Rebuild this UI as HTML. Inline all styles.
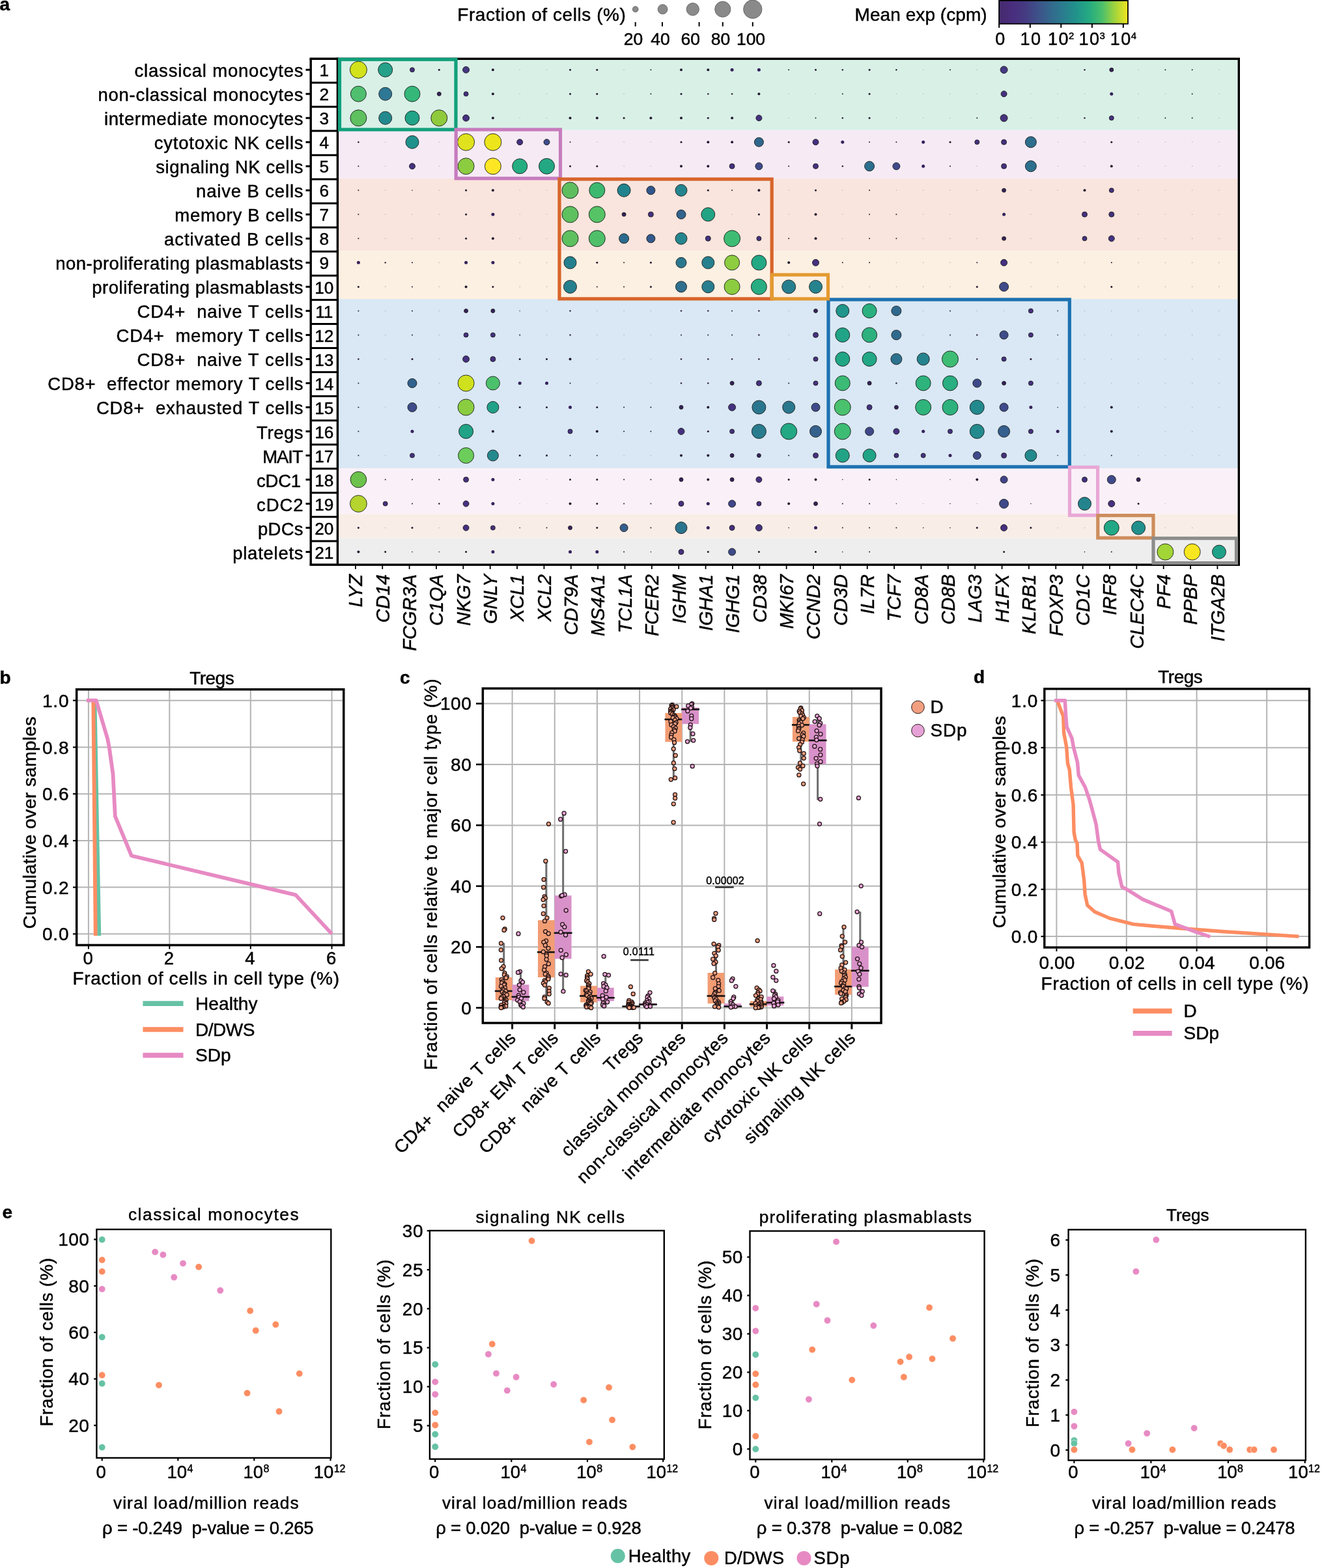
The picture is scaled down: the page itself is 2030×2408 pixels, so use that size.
<!DOCTYPE html>
<html><head><meta charset="utf-8"><title>Figure</title>
<style>
html,body{margin:0;padding:0;background:#fff;}
svg{display:block;}
text{stroke:#000;stroke-width:0.45px;}
</style></head><body>
<svg width="2030" height="2408" viewBox="0 0 2030 2408" font-family="Liberation Sans, Arial, Helvetica, sans-serif">
<rect x="0" y="0" width="2030" height="2408" fill="#fff"/>
<rect x="519.9" y="92" width="1380.9" height="107.8" fill="#d9f0e7"/>
<rect x="519.9" y="199.8" width="1380.9" height="74.4" fill="#f6ebf5"/>
<rect x="519.9" y="274.2" width="1380.9" height="111.2" fill="#f9e5dd"/>
<rect x="519.9" y="385.4" width="1380.9" height="73.9" fill="#fcf0e2"/>
<rect x="519.9" y="459.3" width="1380.9" height="259.7" fill="#d9e8f4"/>
<rect x="519.9" y="719" width="1380.9" height="70.4" fill="#faf1f8"/>
<rect x="519.9" y="789.4" width="1380.9" height="37" fill="#f9eee7"/>
<rect x="519.9" y="826.4" width="1380.9" height="39.6" fill="#eeeeee"/>
<circle cx="550.4" cy="107.2" r="13" fill="#d2e21b" stroke="#1c1c1c" stroke-width="0.9"/>
<circle cx="591.7" cy="107.2" r="11" fill="#25a18a" stroke="#1c1c1c" stroke-width="0.9"/>
<circle cx="633" cy="107.2" r="3.5" fill="#45317f" stroke="#1c1c1c" stroke-width="0.9"/>
<circle cx="674.3" cy="107.2" r="1.5" fill="#231a2e"/>
<circle cx="715.6" cy="107.2" r="5" fill="#453781" stroke="#1c1c1c" stroke-width="0.9"/>
<circle cx="756.9" cy="107.2" r="2" fill="#231a2e"/>
<circle cx="798.2" cy="107.2" r="0.8" fill="#b9b3bb"/>
<circle cx="839.5" cy="107.2" r="0.8" fill="#b9b3bb"/>
<circle cx="875.5" cy="107.2" r="1.5" fill="#231a2e"/>
<circle cx="916.8" cy="107.2" r="1.5" fill="#231a2e"/>
<circle cx="958.1" cy="107.2" r="0.8" fill="#b9b3bb"/>
<circle cx="999.4" cy="107.2" r="1" fill="#231a2e"/>
<circle cx="1046" cy="107.2" r="2" fill="#231a2e"/>
<circle cx="1087.3" cy="107.2" r="2" fill="#231a2e"/>
<circle cx="1124.1" cy="107.2" r="2.5" fill="#35215a"/>
<circle cx="1165.4" cy="107.2" r="2.5" fill="#35215a"/>
<circle cx="1211.2" cy="107.2" r="1" fill="#231a2e"/>
<circle cx="1252.5" cy="107.2" r="1.5" fill="#231a2e"/>
<circle cx="1293.8" cy="107.2" r="1.2" fill="#231a2e"/>
<circle cx="1335.1" cy="107.2" r="1.5" fill="#231a2e"/>
<circle cx="1376.4" cy="107.2" r="1.2" fill="#231a2e"/>
<circle cx="1417.7" cy="107.2" r="0.8" fill="#b9b3bb"/>
<circle cx="1459" cy="107.2" r="1" fill="#231a2e"/>
<circle cx="1500.3" cy="107.2" r="0.8" fill="#b9b3bb"/>
<circle cx="1541.6" cy="107.2" r="5.5" fill="#443983" stroke="#1c1c1c" stroke-width="0.9"/>
<circle cx="1582.9" cy="107.2" r="0.8" fill="#b9b3bb"/>
<circle cx="1624.2" cy="107.2" r="0.8" fill="#b9b3bb"/>
<circle cx="1665.5" cy="107.2" r="1.2" fill="#231a2e"/>
<circle cx="1706.8" cy="107.2" r="3" fill="#35215a" stroke="#1c1c1c" stroke-width="0.9"/>
<circle cx="1748.1" cy="107.2" r="0.8" fill="#b9b3bb"/>
<circle cx="1789.4" cy="107.2" r="1" fill="#231a2e"/>
<circle cx="1830.7" cy="107.2" r="1" fill="#231a2e"/>
<circle cx="1872" cy="107.2" r="0.8" fill="#b9b3bb"/>
<circle cx="550.4" cy="144.22" r="12" fill="#4fbf6f" stroke="#1c1c1c" stroke-width="0.9"/>
<circle cx="591.7" cy="144.22" r="10" fill="#2e7896" stroke="#1c1c1c" stroke-width="0.9"/>
<circle cx="633" cy="144.22" r="12" fill="#35b779" stroke="#1c1c1c" stroke-width="0.9"/>
<circle cx="674.3" cy="144.22" r="3" fill="#35215a" stroke="#1c1c1c" stroke-width="0.9"/>
<circle cx="715.6" cy="144.22" r="3.5" fill="#45317f" stroke="#1c1c1c" stroke-width="0.9"/>
<circle cx="756.9" cy="144.22" r="2" fill="#231a2e"/>
<circle cx="798.2" cy="144.22" r="0.8" fill="#b9b3bb"/>
<circle cx="839.5" cy="144.22" r="0.8" fill="#b9b3bb"/>
<circle cx="875.5" cy="144.22" r="1.5" fill="#231a2e"/>
<circle cx="916.8" cy="144.22" r="1.5" fill="#231a2e"/>
<circle cx="958.1" cy="144.22" r="0.8" fill="#b9b3bb"/>
<circle cx="999.4" cy="144.22" r="1" fill="#231a2e"/>
<circle cx="1046" cy="144.22" r="1.5" fill="#231a2e"/>
<circle cx="1087.3" cy="144.22" r="1.2" fill="#231a2e"/>
<circle cx="1124.1" cy="144.22" r="1.2" fill="#231a2e"/>
<circle cx="1165.4" cy="144.22" r="2" fill="#231a2e"/>
<circle cx="1211.2" cy="144.22" r="0.8" fill="#b9b3bb"/>
<circle cx="1252.5" cy="144.22" r="0.8" fill="#b9b3bb"/>
<circle cx="1293.8" cy="144.22" r="1" fill="#231a2e"/>
<circle cx="1335.1" cy="144.22" r="1.5" fill="#231a2e"/>
<circle cx="1376.4" cy="144.22" r="0.8" fill="#b9b3bb"/>
<circle cx="1417.7" cy="144.22" r="0.8" fill="#b9b3bb"/>
<circle cx="1459" cy="144.22" r="0.8" fill="#b9b3bb"/>
<circle cx="1500.3" cy="144.22" r="0.8" fill="#b9b3bb"/>
<circle cx="1541.6" cy="144.22" r="4.5" fill="#45317f" stroke="#1c1c1c" stroke-width="0.9"/>
<circle cx="1582.9" cy="144.22" r="0.8" fill="#b9b3bb"/>
<circle cx="1624.2" cy="144.22" r="0.8" fill="#b9b3bb"/>
<circle cx="1665.5" cy="144.22" r="0.8" fill="#b9b3bb"/>
<circle cx="1706.8" cy="144.22" r="2.5" fill="#35215a"/>
<circle cx="1748.1" cy="144.22" r="0.8" fill="#b9b3bb"/>
<circle cx="1789.4" cy="144.22" r="0.8" fill="#b9b3bb"/>
<circle cx="1830.7" cy="144.22" r="1" fill="#231a2e"/>
<circle cx="1872" cy="144.22" r="0.8" fill="#b9b3bb"/>
<circle cx="550.4" cy="181.24" r="12.5" fill="#5ec05f" stroke="#1c1c1c" stroke-width="0.9"/>
<circle cx="591.7" cy="181.24" r="10" fill="#23898e" stroke="#1c1c1c" stroke-width="0.9"/>
<circle cx="633" cy="181.24" r="11" fill="#20a386" stroke="#1c1c1c" stroke-width="0.9"/>
<circle cx="674.3" cy="181.24" r="12.5" fill="#8fca3c" stroke="#1c1c1c" stroke-width="0.9"/>
<circle cx="715.6" cy="181.24" r="5" fill="#45317f" stroke="#1c1c1c" stroke-width="0.9"/>
<circle cx="756.9" cy="181.24" r="2" fill="#231a2e"/>
<circle cx="798.2" cy="181.24" r="0.8" fill="#b9b3bb"/>
<circle cx="839.5" cy="181.24" r="0.8" fill="#b9b3bb"/>
<circle cx="875.5" cy="181.24" r="2" fill="#231a2e"/>
<circle cx="916.8" cy="181.24" r="2" fill="#231a2e"/>
<circle cx="958.1" cy="181.24" r="1.5" fill="#231a2e"/>
<circle cx="999.4" cy="181.24" r="2" fill="#231a2e"/>
<circle cx="1046" cy="181.24" r="2" fill="#231a2e"/>
<circle cx="1087.3" cy="181.24" r="1.5" fill="#231a2e"/>
<circle cx="1124.1" cy="181.24" r="2" fill="#231a2e"/>
<circle cx="1165.4" cy="181.24" r="4.5" fill="#45317f" stroke="#1c1c1c" stroke-width="0.9"/>
<circle cx="1211.2" cy="181.24" r="0.8" fill="#b9b3bb"/>
<circle cx="1252.5" cy="181.24" r="1" fill="#231a2e"/>
<circle cx="1293.8" cy="181.24" r="1.2" fill="#231a2e"/>
<circle cx="1335.1" cy="181.24" r="1.5" fill="#231a2e"/>
<circle cx="1376.4" cy="181.24" r="0.8" fill="#b9b3bb"/>
<circle cx="1417.7" cy="181.24" r="0.8" fill="#b9b3bb"/>
<circle cx="1459" cy="181.24" r="0.8" fill="#b9b3bb"/>
<circle cx="1500.3" cy="181.24" r="1" fill="#231a2e"/>
<circle cx="1541.6" cy="181.24" r="5.5" fill="#46337e" stroke="#1c1c1c" stroke-width="0.9"/>
<circle cx="1582.9" cy="181.24" r="0.8" fill="#b9b3bb"/>
<circle cx="1624.2" cy="181.24" r="0.8" fill="#b9b3bb"/>
<circle cx="1665.5" cy="181.24" r="1.2" fill="#231a2e"/>
<circle cx="1706.8" cy="181.24" r="3.5" fill="#45317f" stroke="#1c1c1c" stroke-width="0.9"/>
<circle cx="1748.1" cy="181.24" r="0.8" fill="#b9b3bb"/>
<circle cx="1789.4" cy="181.24" r="1" fill="#231a2e"/>
<circle cx="1830.7" cy="181.24" r="1" fill="#231a2e"/>
<circle cx="1872" cy="181.24" r="0.8" fill="#b9b3bb"/>
<circle cx="550.4" cy="218.26" r="1.2" fill="#231a2e"/>
<circle cx="591.7" cy="218.26" r="0.8" fill="#b9b3bb"/>
<circle cx="633" cy="218.26" r="10" fill="#21918c" stroke="#1c1c1c" stroke-width="0.9"/>
<circle cx="674.3" cy="218.26" r="0.8" fill="#b9b3bb"/>
<circle cx="715.6" cy="218.26" r="13" fill="#dfe21c" stroke="#1c1c1c" stroke-width="0.9"/>
<circle cx="756.9" cy="218.26" r="13" fill="#ece51b" stroke="#1c1c1c" stroke-width="0.9"/>
<circle cx="798.2" cy="218.26" r="4.5" fill="#45317f" stroke="#1c1c1c" stroke-width="0.9"/>
<circle cx="839.5" cy="218.26" r="4.5" fill="#3e4c8a" stroke="#1c1c1c" stroke-width="0.9"/>
<circle cx="875.5" cy="218.26" r="1" fill="#231a2e"/>
<circle cx="916.8" cy="218.26" r="0.8" fill="#b9b3bb"/>
<circle cx="958.1" cy="218.26" r="0.8" fill="#b9b3bb"/>
<circle cx="999.4" cy="218.26" r="0.8" fill="#b9b3bb"/>
<circle cx="1046" cy="218.26" r="1.5" fill="#231a2e"/>
<circle cx="1087.3" cy="218.26" r="2" fill="#231a2e"/>
<circle cx="1124.1" cy="218.26" r="2" fill="#231a2e"/>
<circle cx="1165.4" cy="218.26" r="7" fill="#30678d" stroke="#1c1c1c" stroke-width="0.9"/>
<circle cx="1211.2" cy="218.26" r="1.5" fill="#231a2e"/>
<circle cx="1252.5" cy="218.26" r="4.5" fill="#45317f" stroke="#1c1c1c" stroke-width="0.9"/>
<circle cx="1293.8" cy="218.26" r="2.5" fill="#35215a"/>
<circle cx="1335.1" cy="218.26" r="1" fill="#231a2e"/>
<circle cx="1376.4" cy="218.26" r="1" fill="#231a2e"/>
<circle cx="1417.7" cy="218.26" r="2.5" fill="#35215a"/>
<circle cx="1459" cy="218.26" r="1.5" fill="#231a2e"/>
<circle cx="1500.3" cy="218.26" r="3.5" fill="#45317f" stroke="#1c1c1c" stroke-width="0.9"/>
<circle cx="1541.6" cy="218.26" r="4" fill="#45317f" stroke="#1c1c1c" stroke-width="0.9"/>
<circle cx="1582.9" cy="218.26" r="8.5" fill="#2e6f8e" stroke="#1c1c1c" stroke-width="0.9"/>
<circle cx="1624.2" cy="218.26" r="0.8" fill="#b9b3bb"/>
<circle cx="1665.5" cy="218.26" r="0.8" fill="#b9b3bb"/>
<circle cx="1706.8" cy="218.26" r="1.5" fill="#231a2e"/>
<circle cx="1748.1" cy="218.26" r="0.8" fill="#b9b3bb"/>
<circle cx="1789.4" cy="218.26" r="0.8" fill="#b9b3bb"/>
<circle cx="1830.7" cy="218.26" r="0.8" fill="#b9b3bb"/>
<circle cx="1872" cy="218.26" r="0.8" fill="#b9b3bb"/>
<circle cx="550.4" cy="255.28" r="1" fill="#231a2e"/>
<circle cx="591.7" cy="255.28" r="0.8" fill="#b9b3bb"/>
<circle cx="633" cy="255.28" r="4.5" fill="#45317f" stroke="#1c1c1c" stroke-width="0.9"/>
<circle cx="674.3" cy="255.28" r="0.8" fill="#b9b3bb"/>
<circle cx="715.6" cy="255.28" r="12.5" fill="#8ccc40" stroke="#1c1c1c" stroke-width="0.9"/>
<circle cx="756.9" cy="255.28" r="12.5" fill="#fde725" stroke="#1c1c1c" stroke-width="0.9"/>
<circle cx="798.2" cy="255.28" r="11.5" fill="#25ad82" stroke="#1c1c1c" stroke-width="0.9"/>
<circle cx="839.5" cy="255.28" r="12" fill="#23a883" stroke="#1c1c1c" stroke-width="0.9"/>
<circle cx="875.5" cy="255.28" r="1.5" fill="#231a2e"/>
<circle cx="916.8" cy="255.28" r="1.5" fill="#231a2e"/>
<circle cx="958.1" cy="255.28" r="0.8" fill="#b9b3bb"/>
<circle cx="999.4" cy="255.28" r="0.8" fill="#b9b3bb"/>
<circle cx="1046" cy="255.28" r="2" fill="#231a2e"/>
<circle cx="1087.3" cy="255.28" r="2" fill="#231a2e"/>
<circle cx="1124.1" cy="255.28" r="4" fill="#45317f" stroke="#1c1c1c" stroke-width="0.9"/>
<circle cx="1165.4" cy="255.28" r="5.5" fill="#3f4a8a" stroke="#1c1c1c" stroke-width="0.9"/>
<circle cx="1211.2" cy="255.28" r="1" fill="#231a2e"/>
<circle cx="1252.5" cy="255.28" r="4" fill="#45317f" stroke="#1c1c1c" stroke-width="0.9"/>
<circle cx="1293.8" cy="255.28" r="1.2" fill="#231a2e"/>
<circle cx="1335.1" cy="255.28" r="7.5" fill="#2c6e8e" stroke="#1c1c1c" stroke-width="0.9"/>
<circle cx="1376.4" cy="255.28" r="5.5" fill="#3e4b8a" stroke="#1c1c1c" stroke-width="0.9"/>
<circle cx="1417.7" cy="255.28" r="2.5" fill="#35215a"/>
<circle cx="1459" cy="255.28" r="1" fill="#231a2e"/>
<circle cx="1500.3" cy="255.28" r="0.8" fill="#b9b3bb"/>
<circle cx="1541.6" cy="255.28" r="4" fill="#45317f" stroke="#1c1c1c" stroke-width="0.9"/>
<circle cx="1582.9" cy="255.28" r="8.5" fill="#2c708e" stroke="#1c1c1c" stroke-width="0.9"/>
<circle cx="1624.2" cy="255.28" r="0.8" fill="#b9b3bb"/>
<circle cx="1665.5" cy="255.28" r="0.8" fill="#b9b3bb"/>
<circle cx="1706.8" cy="255.28" r="2" fill="#231a2e"/>
<circle cx="1748.1" cy="255.28" r="0.8" fill="#b9b3bb"/>
<circle cx="1789.4" cy="255.28" r="0.8" fill="#b9b3bb"/>
<circle cx="1830.7" cy="255.28" r="0.8" fill="#b9b3bb"/>
<circle cx="1872" cy="255.28" r="0.8" fill="#b9b3bb"/>
<circle cx="550.4" cy="292.3" r="1" fill="#231a2e"/>
<circle cx="591.7" cy="292.3" r="0.8" fill="#b9b3bb"/>
<circle cx="633" cy="292.3" r="0.8" fill="#231a2e"/>
<circle cx="674.3" cy="292.3" r="0.8" fill="#b9b3bb"/>
<circle cx="715.6" cy="292.3" r="1.5" fill="#231a2e"/>
<circle cx="756.9" cy="292.3" r="2" fill="#231a2e"/>
<circle cx="798.2" cy="292.3" r="0.8" fill="#b9b3bb"/>
<circle cx="839.5" cy="292.3" r="0.8" fill="#b9b3bb"/>
<circle cx="875.5" cy="292.3" r="12.5" fill="#5ebe5f" stroke="#1c1c1c" stroke-width="0.9"/>
<circle cx="916.8" cy="292.3" r="12" fill="#3cb96f" stroke="#1c1c1c" stroke-width="0.9"/>
<circle cx="958.1" cy="292.3" r="10" fill="#21838d" stroke="#1c1c1c" stroke-width="0.9"/>
<circle cx="999.4" cy="292.3" r="6.5" fill="#31568b" stroke="#1c1c1c" stroke-width="0.9"/>
<circle cx="1046" cy="292.3" r="9" fill="#25858e" stroke="#1c1c1c" stroke-width="0.9"/>
<circle cx="1087.3" cy="292.3" r="1.5" fill="#231a2e"/>
<circle cx="1124.1" cy="292.3" r="1" fill="#231a2e"/>
<circle cx="1165.4" cy="292.3" r="2" fill="#231a2e"/>
<circle cx="1211.2" cy="292.3" r="0.8" fill="#b9b3bb"/>
<circle cx="1252.5" cy="292.3" r="1.5" fill="#231a2e"/>
<circle cx="1293.8" cy="292.3" r="0.8" fill="#b9b3bb"/>
<circle cx="1335.1" cy="292.3" r="1" fill="#231a2e"/>
<circle cx="1376.4" cy="292.3" r="0.8" fill="#b9b3bb"/>
<circle cx="1417.7" cy="292.3" r="0.8" fill="#b9b3bb"/>
<circle cx="1459" cy="292.3" r="0.8" fill="#b9b3bb"/>
<circle cx="1500.3" cy="292.3" r="0.8" fill="#b9b3bb"/>
<circle cx="1541.6" cy="292.3" r="3" fill="#35215a" stroke="#1c1c1c" stroke-width="0.9"/>
<circle cx="1582.9" cy="292.3" r="0.8" fill="#b9b3bb"/>
<circle cx="1624.2" cy="292.3" r="0.8" fill="#b9b3bb"/>
<circle cx="1665.5" cy="292.3" r="2" fill="#231a2e"/>
<circle cx="1706.8" cy="292.3" r="3.5" fill="#45317f" stroke="#1c1c1c" stroke-width="0.9"/>
<circle cx="1748.1" cy="292.3" r="0.8" fill="#b9b3bb"/>
<circle cx="1789.4" cy="292.3" r="0.8" fill="#b9b3bb"/>
<circle cx="1830.7" cy="292.3" r="0.8" fill="#b9b3bb"/>
<circle cx="1872" cy="292.3" r="0.8" fill="#b9b3bb"/>
<circle cx="550.4" cy="329.32" r="1" fill="#231a2e"/>
<circle cx="591.7" cy="329.32" r="0.8" fill="#b9b3bb"/>
<circle cx="633" cy="329.32" r="0.8" fill="#b9b3bb"/>
<circle cx="674.3" cy="329.32" r="0.8" fill="#b9b3bb"/>
<circle cx="715.6" cy="329.32" r="1.5" fill="#231a2e"/>
<circle cx="756.9" cy="329.32" r="2.5" fill="#35215a"/>
<circle cx="798.2" cy="329.32" r="0.8" fill="#b9b3bb"/>
<circle cx="839.5" cy="329.32" r="0.8" fill="#b9b3bb"/>
<circle cx="875.5" cy="329.32" r="12.5" fill="#5ec05f" stroke="#1c1c1c" stroke-width="0.9"/>
<circle cx="916.8" cy="329.32" r="12.5" fill="#55c366" stroke="#1c1c1c" stroke-width="0.9"/>
<circle cx="958.1" cy="329.32" r="3" fill="#35215a" stroke="#1c1c1c" stroke-width="0.9"/>
<circle cx="999.4" cy="329.32" r="4" fill="#45317f" stroke="#1c1c1c" stroke-width="0.9"/>
<circle cx="1046" cy="329.32" r="7" fill="#33638d" stroke="#1c1c1c" stroke-width="0.9"/>
<circle cx="1087.3" cy="329.32" r="10.5" fill="#22a384" stroke="#1c1c1c" stroke-width="0.9"/>
<circle cx="1124.1" cy="329.32" r="0.8" fill="#b9b3bb"/>
<circle cx="1165.4" cy="329.32" r="1.5" fill="#231a2e"/>
<circle cx="1211.2" cy="329.32" r="0.8" fill="#b9b3bb"/>
<circle cx="1252.5" cy="329.32" r="2" fill="#231a2e"/>
<circle cx="1293.8" cy="329.32" r="0.8" fill="#b9b3bb"/>
<circle cx="1335.1" cy="329.32" r="1" fill="#231a2e"/>
<circle cx="1376.4" cy="329.32" r="1" fill="#231a2e"/>
<circle cx="1417.7" cy="329.32" r="0.8" fill="#b9b3bb"/>
<circle cx="1459" cy="329.32" r="0.8" fill="#b9b3bb"/>
<circle cx="1541.6" cy="329.32" r="2.5" fill="#35215a"/>
<circle cx="1582.9" cy="329.32" r="0.8" fill="#b9b3bb"/>
<circle cx="1665.5" cy="329.32" r="4" fill="#45317f" stroke="#1c1c1c" stroke-width="0.9"/>
<circle cx="1706.8" cy="329.32" r="4" fill="#45317f" stroke="#1c1c1c" stroke-width="0.9"/>
<circle cx="1748.1" cy="329.32" r="0.8" fill="#b9b3bb"/>
<circle cx="1789.4" cy="329.32" r="0.8" fill="#b9b3bb"/>
<circle cx="1830.7" cy="329.32" r="0.8" fill="#b9b3bb"/>
<circle cx="1872" cy="329.32" r="0.8" fill="#b9b3bb"/>
<circle cx="550.4" cy="366.34" r="1" fill="#231a2e"/>
<circle cx="591.7" cy="366.34" r="0.8" fill="#b9b3bb"/>
<circle cx="633" cy="366.34" r="0.8" fill="#b9b3bb"/>
<circle cx="674.3" cy="366.34" r="0.8" fill="#b9b3bb"/>
<circle cx="715.6" cy="366.34" r="1.5" fill="#231a2e"/>
<circle cx="756.9" cy="366.34" r="2" fill="#231a2e"/>
<circle cx="798.2" cy="366.34" r="0.8" fill="#b9b3bb"/>
<circle cx="839.5" cy="366.34" r="0.8" fill="#b9b3bb"/>
<circle cx="875.5" cy="366.34" r="12.5" fill="#5ec05f" stroke="#1c1c1c" stroke-width="0.9"/>
<circle cx="916.8" cy="366.34" r="12.5" fill="#4fbf6a" stroke="#1c1c1c" stroke-width="0.9"/>
<circle cx="958.1" cy="366.34" r="7.5" fill="#2c6b8e" stroke="#1c1c1c" stroke-width="0.9"/>
<circle cx="999.4" cy="366.34" r="6.5" fill="#33598c" stroke="#1c1c1c" stroke-width="0.9"/>
<circle cx="1046" cy="366.34" r="9" fill="#25858e" stroke="#1c1c1c" stroke-width="0.9"/>
<circle cx="1087.3" cy="366.34" r="4" fill="#45317f" stroke="#1c1c1c" stroke-width="0.9"/>
<circle cx="1124.1" cy="366.34" r="12.5" fill="#3fbc73" stroke="#1c1c1c" stroke-width="0.9"/>
<circle cx="1165.4" cy="366.34" r="3.5" fill="#45317f" stroke="#1c1c1c" stroke-width="0.9"/>
<circle cx="1211.2" cy="366.34" r="1" fill="#231a2e"/>
<circle cx="1252.5" cy="366.34" r="2" fill="#231a2e"/>
<circle cx="1293.8" cy="366.34" r="0.8" fill="#b9b3bb"/>
<circle cx="1335.1" cy="366.34" r="1" fill="#231a2e"/>
<circle cx="1376.4" cy="366.34" r="1" fill="#231a2e"/>
<circle cx="1417.7" cy="366.34" r="0.8" fill="#b9b3bb"/>
<circle cx="1459" cy="366.34" r="0.8" fill="#b9b3bb"/>
<circle cx="1500.3" cy="366.34" r="0.8" fill="#b9b3bb"/>
<circle cx="1541.6" cy="366.34" r="3" fill="#35215a" stroke="#1c1c1c" stroke-width="0.9"/>
<circle cx="1582.9" cy="366.34" r="0.8" fill="#b9b3bb"/>
<circle cx="1665.5" cy="366.34" r="3.5" fill="#45317f" stroke="#1c1c1c" stroke-width="0.9"/>
<circle cx="1706.8" cy="366.34" r="4.5" fill="#45317f" stroke="#1c1c1c" stroke-width="0.9"/>
<circle cx="1748.1" cy="366.34" r="0.8" fill="#b9b3bb"/>
<circle cx="1789.4" cy="366.34" r="0.8" fill="#b9b3bb"/>
<circle cx="1830.7" cy="366.34" r="0.8" fill="#b9b3bb"/>
<circle cx="1872" cy="366.34" r="0.8" fill="#b9b3bb"/>
<circle cx="550.4" cy="403.36" r="2.5" fill="#35215a"/>
<circle cx="591.7" cy="403.36" r="1.2" fill="#231a2e"/>
<circle cx="633" cy="403.36" r="1" fill="#231a2e"/>
<circle cx="674.3" cy="403.36" r="0.8" fill="#b9b3bb"/>
<circle cx="715.6" cy="403.36" r="2.5" fill="#35215a"/>
<circle cx="756.9" cy="403.36" r="2.5" fill="#35215a"/>
<circle cx="798.2" cy="403.36" r="0.8" fill="#b9b3bb"/>
<circle cx="839.5" cy="403.36" r="0.8" fill="#b9b3bb"/>
<circle cx="875.5" cy="403.36" r="9.5" fill="#24808e" stroke="#1c1c1c" stroke-width="0.9"/>
<circle cx="916.8" cy="403.36" r="1.5" fill="#231a2e"/>
<circle cx="958.1" cy="403.36" r="1" fill="#231a2e"/>
<circle cx="999.4" cy="403.36" r="1.5" fill="#231a2e"/>
<circle cx="1046" cy="403.36" r="8" fill="#2a788e" stroke="#1c1c1c" stroke-width="0.9"/>
<circle cx="1087.3" cy="403.36" r="9.5" fill="#27808e" stroke="#1c1c1c" stroke-width="0.9"/>
<circle cx="1124.1" cy="403.36" r="11.5" fill="#8dcd3f" stroke="#1c1c1c" stroke-width="0.9"/>
<circle cx="1165.4" cy="403.36" r="11.5" fill="#23a884" stroke="#1c1c1c" stroke-width="0.9"/>
<circle cx="1211.2" cy="403.36" r="2" fill="#231a2e"/>
<circle cx="1252.5" cy="403.36" r="5" fill="#45317f" stroke="#1c1c1c" stroke-width="0.9"/>
<circle cx="1293.8" cy="403.36" r="1" fill="#231a2e"/>
<circle cx="1335.1" cy="403.36" r="1" fill="#231a2e"/>
<circle cx="1376.4" cy="403.36" r="0.8" fill="#b9b3bb"/>
<circle cx="1417.7" cy="403.36" r="0.8" fill="#b9b3bb"/>
<circle cx="1459" cy="403.36" r="0.8" fill="#b9b3bb"/>
<circle cx="1500.3" cy="403.36" r="1" fill="#231a2e"/>
<circle cx="1541.6" cy="403.36" r="5" fill="#45317f" stroke="#1c1c1c" stroke-width="0.9"/>
<circle cx="1582.9" cy="403.36" r="0.8" fill="#b9b3bb"/>
<circle cx="1624.2" cy="403.36" r="0.8" fill="#b9b3bb"/>
<circle cx="1665.5" cy="403.36" r="0.8" fill="#b9b3bb"/>
<circle cx="1706.8" cy="403.36" r="1" fill="#231a2e"/>
<circle cx="1748.1" cy="403.36" r="0.8" fill="#b9b3bb"/>
<circle cx="1789.4" cy="403.36" r="0.8" fill="#b9b3bb"/>
<circle cx="1830.7" cy="403.36" r="0.8" fill="#b9b3bb"/>
<circle cx="1872" cy="403.36" r="0.8" fill="#b9b3bb"/>
<circle cx="550.4" cy="440.38" r="1.5" fill="#231a2e"/>
<circle cx="591.7" cy="440.38" r="0.8" fill="#b9b3bb"/>
<circle cx="633" cy="440.38" r="1" fill="#231a2e"/>
<circle cx="674.3" cy="440.38" r="0.8" fill="#b9b3bb"/>
<circle cx="715.6" cy="440.38" r="2" fill="#231a2e"/>
<circle cx="756.9" cy="440.38" r="1.5" fill="#231a2e"/>
<circle cx="798.2" cy="440.38" r="0.8" fill="#b9b3bb"/>
<circle cx="839.5" cy="440.38" r="0.8" fill="#b9b3bb"/>
<circle cx="875.5" cy="440.38" r="10" fill="#277f8e" stroke="#1c1c1c" stroke-width="0.9"/>
<circle cx="916.8" cy="440.38" r="1" fill="#231a2e"/>
<circle cx="958.1" cy="440.38" r="1" fill="#231a2e"/>
<circle cx="999.4" cy="440.38" r="1.5" fill="#231a2e"/>
<circle cx="1046" cy="440.38" r="8.5" fill="#2f708e" stroke="#1c1c1c" stroke-width="0.9"/>
<circle cx="1087.3" cy="440.38" r="9.5" fill="#287d8e" stroke="#1c1c1c" stroke-width="0.9"/>
<circle cx="1124.1" cy="440.38" r="12" fill="#8bcc40" stroke="#1c1c1c" stroke-width="0.9"/>
<circle cx="1165.4" cy="440.38" r="12" fill="#27ad81" stroke="#1c1c1c" stroke-width="0.9"/>
<circle cx="1211.2" cy="440.38" r="10.5" fill="#277f8e" stroke="#1c1c1c" stroke-width="0.9"/>
<circle cx="1252.5" cy="440.38" r="10" fill="#26838e" stroke="#1c1c1c" stroke-width="0.9"/>
<circle cx="1293.8" cy="440.38" r="0.8" fill="#b9b3bb"/>
<circle cx="1335.1" cy="440.38" r="0.8" fill="#b9b3bb"/>
<circle cx="1376.4" cy="440.38" r="0.8" fill="#b9b3bb"/>
<circle cx="1417.7" cy="440.38" r="0.8" fill="#b9b3bb"/>
<circle cx="1459" cy="440.38" r="0.8" fill="#b9b3bb"/>
<circle cx="1500.3" cy="440.38" r="1.5" fill="#231a2e"/>
<circle cx="1541.6" cy="440.38" r="7" fill="#3f4a89" stroke="#1c1c1c" stroke-width="0.9"/>
<circle cx="1582.9" cy="440.38" r="0.8" fill="#b9b3bb"/>
<circle cx="1624.2" cy="440.38" r="0.8" fill="#b9b3bb"/>
<circle cx="1665.5" cy="440.38" r="0.8" fill="#b9b3bb"/>
<circle cx="1706.8" cy="440.38" r="1.5" fill="#231a2e"/>
<circle cx="1748.1" cy="440.38" r="0.8" fill="#b9b3bb"/>
<circle cx="1789.4" cy="440.38" r="0.8" fill="#b9b3bb"/>
<circle cx="1830.7" cy="440.38" r="0.8" fill="#b9b3bb"/>
<circle cx="1872" cy="440.38" r="0.8" fill="#b9b3bb"/>
<circle cx="550.4" cy="477.4" r="1" fill="#231a2e"/>
<circle cx="591.7" cy="477.4" r="0.8" fill="#b9b3bb"/>
<circle cx="633" cy="477.4" r="1" fill="#231a2e"/>
<circle cx="674.3" cy="477.4" r="0.8" fill="#b9b3bb"/>
<circle cx="715.6" cy="477.4" r="3" fill="#35215a" stroke="#1c1c1c" stroke-width="0.9"/>
<circle cx="756.9" cy="477.4" r="3" fill="#35215a" stroke="#1c1c1c" stroke-width="0.9"/>
<circle cx="798.2" cy="477.4" r="0.7" fill="#231a2e"/>
<circle cx="839.5" cy="477.4" r="0.8" fill="#b9b3bb"/>
<circle cx="875.5" cy="477.4" r="1.2" fill="#231a2e"/>
<circle cx="916.8" cy="477.4" r="0.8" fill="#b9b3bb"/>
<circle cx="958.1" cy="477.4" r="0.8" fill="#b9b3bb"/>
<circle cx="999.4" cy="477.4" r="0.8" fill="#b9b3bb"/>
<circle cx="1046" cy="477.4" r="1.2" fill="#231a2e"/>
<circle cx="1087.3" cy="477.4" r="1.2" fill="#231a2e"/>
<circle cx="1124.1" cy="477.4" r="1" fill="#231a2e"/>
<circle cx="1165.4" cy="477.4" r="1.2" fill="#231a2e"/>
<circle cx="1211.2" cy="477.4" r="0.8" fill="#b9b3bb"/>
<circle cx="1252.5" cy="477.4" r="3" fill="#35215a" stroke="#1c1c1c" stroke-width="0.9"/>
<circle cx="1293.8" cy="477.4" r="10" fill="#1f958b" stroke="#1c1c1c" stroke-width="0.9"/>
<circle cx="1335.1" cy="477.4" r="11" fill="#2ab07f" stroke="#1c1c1c" stroke-width="0.9"/>
<circle cx="1376.4" cy="477.4" r="7.5" fill="#30698e" stroke="#1c1c1c" stroke-width="0.9"/>
<circle cx="1417.7" cy="477.4" r="0.8" fill="#b9b3bb"/>
<circle cx="1459" cy="477.4" r="1" fill="#231a2e"/>
<circle cx="1500.3" cy="477.4" r="0.8" fill="#b9b3bb"/>
<circle cx="1541.6" cy="477.4" r="0.8" fill="#b9b3bb"/>
<circle cx="1582.9" cy="477.4" r="3.5" fill="#45317f" stroke="#1c1c1c" stroke-width="0.9"/>
<circle cx="1624.2" cy="477.4" r="0.8" fill="#231a2e"/>
<circle cx="1665.5" cy="477.4" r="0.8" fill="#b9b3bb"/>
<circle cx="1706.8" cy="477.4" r="0.8" fill="#b9b3bb"/>
<circle cx="1748.1" cy="477.4" r="0.8" fill="#b9b3bb"/>
<circle cx="1789.4" cy="477.4" r="0.8" fill="#b9b3bb"/>
<circle cx="1830.7" cy="477.4" r="0.8" fill="#b9b3bb"/>
<circle cx="1872" cy="477.4" r="0.8" fill="#b9b3bb"/>
<circle cx="550.4" cy="514.42" r="1" fill="#231a2e"/>
<circle cx="591.7" cy="514.42" r="0.8" fill="#b9b3bb"/>
<circle cx="633" cy="514.42" r="1" fill="#231a2e"/>
<circle cx="674.3" cy="514.42" r="0.8" fill="#b9b3bb"/>
<circle cx="715.6" cy="514.42" r="3.5" fill="#45317f" stroke="#1c1c1c" stroke-width="0.9"/>
<circle cx="756.9" cy="514.42" r="3.5" fill="#45317f" stroke="#1c1c1c" stroke-width="0.9"/>
<circle cx="798.2" cy="514.42" r="1" fill="#231a2e"/>
<circle cx="839.5" cy="514.42" r="0.8" fill="#b9b3bb"/>
<circle cx="875.5" cy="514.42" r="1.2" fill="#231a2e"/>
<circle cx="916.8" cy="514.42" r="0.8" fill="#b9b3bb"/>
<circle cx="958.1" cy="514.42" r="0.8" fill="#b9b3bb"/>
<circle cx="999.4" cy="514.42" r="0.8" fill="#b9b3bb"/>
<circle cx="1046" cy="514.42" r="1" fill="#231a2e"/>
<circle cx="1087.3" cy="514.42" r="1" fill="#231a2e"/>
<circle cx="1124.1" cy="514.42" r="1" fill="#231a2e"/>
<circle cx="1165.4" cy="514.42" r="1.2" fill="#231a2e"/>
<circle cx="1211.2" cy="514.42" r="0.8" fill="#b9b3bb"/>
<circle cx="1252.5" cy="514.42" r="4" fill="#45317f" stroke="#1c1c1c" stroke-width="0.9"/>
<circle cx="1293.8" cy="514.42" r="11" fill="#20a386" stroke="#1c1c1c" stroke-width="0.9"/>
<circle cx="1335.1" cy="514.42" r="11.5" fill="#2cb17e" stroke="#1c1c1c" stroke-width="0.9"/>
<circle cx="1376.4" cy="514.42" r="7.5" fill="#2f6b8e" stroke="#1c1c1c" stroke-width="0.9"/>
<circle cx="1417.7" cy="514.42" r="0.8" fill="#b9b3bb"/>
<circle cx="1459" cy="514.42" r="1" fill="#231a2e"/>
<circle cx="1500.3" cy="514.42" r="1.2" fill="#231a2e"/>
<circle cx="1541.6" cy="514.42" r="6.5" fill="#3f4c8a" stroke="#1c1c1c" stroke-width="0.9"/>
<circle cx="1582.9" cy="514.42" r="3.5" fill="#45317f" stroke="#1c1c1c" stroke-width="0.9"/>
<circle cx="1624.2" cy="514.42" r="0.8" fill="#231a2e"/>
<circle cx="1665.5" cy="514.42" r="0.8" fill="#b9b3bb"/>
<circle cx="1706.8" cy="514.42" r="0.8" fill="#b9b3bb"/>
<circle cx="1748.1" cy="514.42" r="0.8" fill="#b9b3bb"/>
<circle cx="1789.4" cy="514.42" r="0.8" fill="#b9b3bb"/>
<circle cx="1830.7" cy="514.42" r="0.8" fill="#b9b3bb"/>
<circle cx="1872" cy="514.42" r="0.8" fill="#b9b3bb"/>
<circle cx="550.4" cy="551.44" r="1.2" fill="#231a2e"/>
<circle cx="591.7" cy="551.44" r="0.8" fill="#b9b3bb"/>
<circle cx="633" cy="551.44" r="1.5" fill="#231a2e"/>
<circle cx="674.3" cy="551.44" r="0.8" fill="#b9b3bb"/>
<circle cx="715.6" cy="551.44" r="5" fill="#45317f" stroke="#1c1c1c" stroke-width="0.9"/>
<circle cx="756.9" cy="551.44" r="4" fill="#45317f" stroke="#1c1c1c" stroke-width="0.9"/>
<circle cx="798.2" cy="551.44" r="1.5" fill="#231a2e"/>
<circle cx="839.5" cy="551.44" r="1.5" fill="#231a2e"/>
<circle cx="875.5" cy="551.44" r="2" fill="#231a2e"/>
<circle cx="916.8" cy="551.44" r="0.8" fill="#b9b3bb"/>
<circle cx="958.1" cy="551.44" r="0.8" fill="#b9b3bb"/>
<circle cx="999.4" cy="551.44" r="0.8" fill="#b9b3bb"/>
<circle cx="1046" cy="551.44" r="1.2" fill="#231a2e"/>
<circle cx="1087.3" cy="551.44" r="1.2" fill="#231a2e"/>
<circle cx="1124.1" cy="551.44" r="1.2" fill="#231a2e"/>
<circle cx="1165.4" cy="551.44" r="1.2" fill="#231a2e"/>
<circle cx="1211.2" cy="551.44" r="0.8" fill="#b9b3bb"/>
<circle cx="1252.5" cy="551.44" r="3.5" fill="#45317f" stroke="#1c1c1c" stroke-width="0.9"/>
<circle cx="1293.8" cy="551.44" r="11" fill="#21a685" stroke="#1c1c1c" stroke-width="0.9"/>
<circle cx="1335.1" cy="551.44" r="11" fill="#22a785" stroke="#1c1c1c" stroke-width="0.9"/>
<circle cx="1376.4" cy="551.44" r="8.5" fill="#2c728e" stroke="#1c1c1c" stroke-width="0.9"/>
<circle cx="1417.7" cy="551.44" r="9.5" fill="#25838e" stroke="#1c1c1c" stroke-width="0.9"/>
<circle cx="1459" cy="551.44" r="12.5" fill="#3dbc74" stroke="#1c1c1c" stroke-width="0.9"/>
<circle cx="1500.3" cy="551.44" r="1.2" fill="#231a2e"/>
<circle cx="1541.6" cy="551.44" r="3.5" fill="#45317f" stroke="#1c1c1c" stroke-width="0.9"/>
<circle cx="1582.9" cy="551.44" r="1.5" fill="#231a2e"/>
<circle cx="1624.2" cy="551.44" r="0.8" fill="#b9b3bb"/>
<circle cx="1665.5" cy="551.44" r="0.8" fill="#b9b3bb"/>
<circle cx="1706.8" cy="551.44" r="0.8" fill="#b9b3bb"/>
<circle cx="1748.1" cy="551.44" r="0.8" fill="#b9b3bb"/>
<circle cx="1789.4" cy="551.44" r="0.8" fill="#b9b3bb"/>
<circle cx="1830.7" cy="551.44" r="0.8" fill="#b9b3bb"/>
<circle cx="1872" cy="551.44" r="0.8" fill="#b9b3bb"/>
<circle cx="550.4" cy="588.46" r="1" fill="#231a2e"/>
<circle cx="633" cy="588.46" r="7" fill="#31628d" stroke="#1c1c1c" stroke-width="0.9"/>
<circle cx="674.3" cy="588.46" r="0.8" fill="#b9b3bb"/>
<circle cx="715.6" cy="588.46" r="12.5" fill="#cfe11c" stroke="#1c1c1c" stroke-width="0.9"/>
<circle cx="756.9" cy="588.46" r="10.5" fill="#4cc16b" stroke="#1c1c1c" stroke-width="0.9"/>
<circle cx="798.2" cy="588.46" r="2.5" fill="#35215a"/>
<circle cx="839.5" cy="588.46" r="2.5" fill="#35215a"/>
<circle cx="875.5" cy="588.46" r="1" fill="#231a2e"/>
<circle cx="916.8" cy="588.46" r="0.8" fill="#b9b3bb"/>
<circle cx="999.4" cy="588.46" r="0.8" fill="#b9b3bb"/>
<circle cx="1046" cy="588.46" r="1.2" fill="#231a2e"/>
<circle cx="1087.3" cy="588.46" r="1.2" fill="#231a2e"/>
<circle cx="1124.1" cy="588.46" r="3" fill="#35215a" stroke="#1c1c1c" stroke-width="0.9"/>
<circle cx="1165.4" cy="588.46" r="4" fill="#45317f" stroke="#1c1c1c" stroke-width="0.9"/>
<circle cx="1211.2" cy="588.46" r="1" fill="#231a2e"/>
<circle cx="1252.5" cy="588.46" r="3.5" fill="#45317f" stroke="#1c1c1c" stroke-width="0.9"/>
<circle cx="1293.8" cy="588.46" r="11.5" fill="#3bbb75" stroke="#1c1c1c" stroke-width="0.9"/>
<circle cx="1335.1" cy="588.46" r="3" fill="#35215a" stroke="#1c1c1c" stroke-width="0.9"/>
<circle cx="1376.4" cy="588.46" r="1.2" fill="#231a2e"/>
<circle cx="1417.7" cy="588.46" r="11.5" fill="#2eb37c" stroke="#1c1c1c" stroke-width="0.9"/>
<circle cx="1459" cy="588.46" r="11.5" fill="#28ae80" stroke="#1c1c1c" stroke-width="0.9"/>
<circle cx="1500.3" cy="588.46" r="6.5" fill="#3e4a89" stroke="#1c1c1c" stroke-width="0.9"/>
<circle cx="1541.6" cy="588.46" r="3" fill="#35215a" stroke="#1c1c1c" stroke-width="0.9"/>
<circle cx="1582.9" cy="588.46" r="3.5" fill="#45317f" stroke="#1c1c1c" stroke-width="0.9"/>
<circle cx="1624.2" cy="588.46" r="0.8" fill="#b9b3bb"/>
<circle cx="1665.5" cy="588.46" r="0.8" fill="#b9b3bb"/>
<circle cx="1706.8" cy="588.46" r="0.8" fill="#b9b3bb"/>
<circle cx="1748.1" cy="588.46" r="0.8" fill="#b9b3bb"/>
<circle cx="1789.4" cy="588.46" r="0.8" fill="#b9b3bb"/>
<circle cx="1830.7" cy="588.46" r="0.8" fill="#b9b3bb"/>
<circle cx="1872" cy="588.46" r="0.8" fill="#b9b3bb"/>
<circle cx="550.4" cy="625.48" r="1" fill="#231a2e"/>
<circle cx="591.7" cy="625.48" r="0.8" fill="#b9b3bb"/>
<circle cx="633" cy="625.48" r="7" fill="#3e4c8a" stroke="#1c1c1c" stroke-width="0.9"/>
<circle cx="674.3" cy="625.48" r="0.8" fill="#b9b3bb"/>
<circle cx="715.6" cy="625.48" r="12.5" fill="#8acd41" stroke="#1c1c1c" stroke-width="0.9"/>
<circle cx="756.9" cy="625.48" r="9" fill="#21a187" stroke="#1c1c1c" stroke-width="0.9"/>
<circle cx="798.2" cy="625.48" r="1.5" fill="#231a2e"/>
<circle cx="839.5" cy="625.48" r="1.5" fill="#231a2e"/>
<circle cx="875.5" cy="625.48" r="2.5" fill="#35215a"/>
<circle cx="916.8" cy="625.48" r="1.5" fill="#231a2e"/>
<circle cx="958.1" cy="625.48" r="1" fill="#231a2e"/>
<circle cx="999.4" cy="625.48" r="1" fill="#231a2e"/>
<circle cx="1046" cy="625.48" r="3" fill="#35215a" stroke="#1c1c1c" stroke-width="0.9"/>
<circle cx="1087.3" cy="625.48" r="2" fill="#231a2e"/>
<circle cx="1124.1" cy="625.48" r="5.5" fill="#45317f" stroke="#1c1c1c" stroke-width="0.9"/>
<circle cx="1165.4" cy="625.48" r="10.5" fill="#2a768e" stroke="#1c1c1c" stroke-width="0.9"/>
<circle cx="1211.2" cy="625.48" r="9.5" fill="#2a788e" stroke="#1c1c1c" stroke-width="0.9"/>
<circle cx="1252.5" cy="625.48" r="6.5" fill="#3e4a89" stroke="#1c1c1c" stroke-width="0.9"/>
<circle cx="1293.8" cy="625.48" r="12.5" fill="#4ac16d" stroke="#1c1c1c" stroke-width="0.9"/>
<circle cx="1335.1" cy="625.48" r="4" fill="#45317f" stroke="#1c1c1c" stroke-width="0.9"/>
<circle cx="1376.4" cy="625.48" r="3" fill="#35215a" stroke="#1c1c1c" stroke-width="0.9"/>
<circle cx="1417.7" cy="625.48" r="12" fill="#2fb47c" stroke="#1c1c1c" stroke-width="0.9"/>
<circle cx="1459" cy="625.48" r="12" fill="#2db27d" stroke="#1c1c1c" stroke-width="0.9"/>
<circle cx="1500.3" cy="625.48" r="11" fill="#22898d" stroke="#1c1c1c" stroke-width="0.9"/>
<circle cx="1541.6" cy="625.48" r="6.5" fill="#3f4a8a" stroke="#1c1c1c" stroke-width="0.9"/>
<circle cx="1582.9" cy="625.48" r="2.5" fill="#35215a"/>
<circle cx="1624.2" cy="625.48" r="0.8" fill="#231a2e"/>
<circle cx="1665.5" cy="625.48" r="0.8" fill="#b9b3bb"/>
<circle cx="1706.8" cy="625.48" r="2" fill="#231a2e"/>
<circle cx="1748.1" cy="625.48" r="0.8" fill="#b9b3bb"/>
<circle cx="1789.4" cy="625.48" r="0.8" fill="#b9b3bb"/>
<circle cx="1830.7" cy="625.48" r="0.8" fill="#b9b3bb"/>
<circle cx="1872" cy="625.48" r="0.8" fill="#b9b3bb"/>
<circle cx="550.4" cy="662.5" r="1" fill="#231a2e"/>
<circle cx="633" cy="662.5" r="2.5" fill="#35215a"/>
<circle cx="715.6" cy="662.5" r="11" fill="#20a386" stroke="#1c1c1c" stroke-width="0.9"/>
<circle cx="756.9" cy="662.5" r="2" fill="#231a2e"/>
<circle cx="875.5" cy="662.5" r="3.5" fill="#45317f" stroke="#1c1c1c" stroke-width="0.9"/>
<circle cx="916.8" cy="662.5" r="2" fill="#231a2e"/>
<circle cx="958.1" cy="662.5" r="1" fill="#231a2e"/>
<circle cx="999.4" cy="662.5" r="1" fill="#231a2e"/>
<circle cx="1046" cy="662.5" r="5" fill="#45317f" stroke="#1c1c1c" stroke-width="0.9"/>
<circle cx="1087.3" cy="662.5" r="1.5" fill="#231a2e"/>
<circle cx="1124.1" cy="662.5" r="3.5" fill="#45317f" stroke="#1c1c1c" stroke-width="0.9"/>
<circle cx="1165.4" cy="662.5" r="11" fill="#287c8e" stroke="#1c1c1c" stroke-width="0.9"/>
<circle cx="1211.2" cy="662.5" r="12.5" fill="#23a884" stroke="#1c1c1c" stroke-width="0.9"/>
<circle cx="1252.5" cy="662.5" r="9" fill="#35628d" stroke="#1c1c1c" stroke-width="0.9"/>
<circle cx="1293.8" cy="662.5" r="12.5" fill="#3dbc74" stroke="#1c1c1c" stroke-width="0.9"/>
<circle cx="1335.1" cy="662.5" r="6.5" fill="#3f4889" stroke="#1c1c1c" stroke-width="0.9"/>
<circle cx="1376.4" cy="662.5" r="4.5" fill="#45317f" stroke="#1c1c1c" stroke-width="0.9"/>
<circle cx="1417.7" cy="662.5" r="2.5" fill="#35215a"/>
<circle cx="1459" cy="662.5" r="3.5" fill="#45317f" stroke="#1c1c1c" stroke-width="0.9"/>
<circle cx="1500.3" cy="662.5" r="11" fill="#238a8d" stroke="#1c1c1c" stroke-width="0.9"/>
<circle cx="1541.6" cy="662.5" r="9" fill="#355f8d" stroke="#1c1c1c" stroke-width="0.9"/>
<circle cx="1582.9" cy="662.5" r="3.5" fill="#45317f" stroke="#1c1c1c" stroke-width="0.9"/>
<circle cx="1624.2" cy="662.5" r="2.5" fill="#35215a"/>
<circle cx="1706.8" cy="662.5" r="2" fill="#231a2e"/>
<circle cx="1789.4" cy="662.5" r="0.8" fill="#b9b3bb"/>
<circle cx="1830.7" cy="662.5" r="0.8" fill="#b9b3bb"/>
<circle cx="550.4" cy="699.52" r="1" fill="#231a2e"/>
<circle cx="591.7" cy="699.52" r="0.8" fill="#b9b3bb"/>
<circle cx="633" cy="699.52" r="3.5" fill="#45317f" stroke="#1c1c1c" stroke-width="0.9"/>
<circle cx="674.3" cy="699.52" r="0.8" fill="#b9b3bb"/>
<circle cx="715.6" cy="699.52" r="12" fill="#6ccd5a" stroke="#1c1c1c" stroke-width="0.9"/>
<circle cx="756.9" cy="699.52" r="8.5" fill="#23898e" stroke="#1c1c1c" stroke-width="0.9"/>
<circle cx="798.2" cy="699.52" r="1.5" fill="#231a2e"/>
<circle cx="839.5" cy="699.52" r="1.5" fill="#231a2e"/>
<circle cx="875.5" cy="699.52" r="1" fill="#231a2e"/>
<circle cx="916.8" cy="699.52" r="1" fill="#231a2e"/>
<circle cx="958.1" cy="699.52" r="0.8" fill="#b9b3bb"/>
<circle cx="999.4" cy="699.52" r="0.8" fill="#b9b3bb"/>
<circle cx="1046" cy="699.52" r="2" fill="#231a2e"/>
<circle cx="1087.3" cy="699.52" r="2" fill="#231a2e"/>
<circle cx="1124.1" cy="699.52" r="3" fill="#35215a" stroke="#1c1c1c" stroke-width="0.9"/>
<circle cx="1165.4" cy="699.52" r="3" fill="#35215a" stroke="#1c1c1c" stroke-width="0.9"/>
<circle cx="1211.2" cy="699.52" r="1" fill="#231a2e"/>
<circle cx="1252.5" cy="699.52" r="4" fill="#45317f" stroke="#1c1c1c" stroke-width="0.9"/>
<circle cx="1293.8" cy="699.52" r="10.5" fill="#22a385" stroke="#1c1c1c" stroke-width="0.9"/>
<circle cx="1335.1" cy="699.52" r="10" fill="#21a386" stroke="#1c1c1c" stroke-width="0.9"/>
<circle cx="1376.4" cy="699.52" r="3.5" fill="#45317f" stroke="#1c1c1c" stroke-width="0.9"/>
<circle cx="1417.7" cy="699.52" r="3.5" fill="#45317f" stroke="#1c1c1c" stroke-width="0.9"/>
<circle cx="1459" cy="699.52" r="2.5" fill="#35215a"/>
<circle cx="1500.3" cy="699.52" r="6" fill="#3e4a89" stroke="#1c1c1c" stroke-width="0.9"/>
<circle cx="1541.6" cy="699.52" r="4" fill="#45317f" stroke="#1c1c1c" stroke-width="0.9"/>
<circle cx="1582.9" cy="699.52" r="9" fill="#22898d" stroke="#1c1c1c" stroke-width="0.9"/>
<circle cx="1624.2" cy="699.52" r="0.8" fill="#231a2e"/>
<circle cx="1665.5" cy="699.52" r="0.8" fill="#b9b3bb"/>
<circle cx="1706.8" cy="699.52" r="1" fill="#231a2e"/>
<circle cx="1748.1" cy="699.52" r="0.8" fill="#b9b3bb"/>
<circle cx="1789.4" cy="699.52" r="0.8" fill="#b9b3bb"/>
<circle cx="1830.7" cy="699.52" r="0.8" fill="#b9b3bb"/>
<circle cx="1872" cy="699.52" r="0.8" fill="#b9b3bb"/>
<circle cx="550.4" cy="736.54" r="12.3" fill="#6cc24c" stroke="#1c1c1c" stroke-width="0.9"/>
<circle cx="591.7" cy="736.54" r="1" fill="#231a2e"/>
<circle cx="633" cy="736.54" r="1" fill="#231a2e"/>
<circle cx="674.3" cy="736.54" r="1" fill="#231a2e"/>
<circle cx="715.6" cy="736.54" r="4" fill="#45317f" stroke="#1c1c1c" stroke-width="0.9"/>
<circle cx="756.9" cy="736.54" r="2.5" fill="#35215a"/>
<circle cx="798.2" cy="736.54" r="0.7" fill="#231a2e"/>
<circle cx="839.5" cy="736.54" r="0.8" fill="#b9b3bb"/>
<circle cx="875.5" cy="736.54" r="1.5" fill="#231a2e"/>
<circle cx="916.8" cy="736.54" r="1.5" fill="#231a2e"/>
<circle cx="958.1" cy="736.54" r="1" fill="#231a2e"/>
<circle cx="999.4" cy="736.54" r="1" fill="#231a2e"/>
<circle cx="1046" cy="736.54" r="3" fill="#35215a" stroke="#1c1c1c" stroke-width="0.9"/>
<circle cx="1087.3" cy="736.54" r="2" fill="#231a2e"/>
<circle cx="1124.1" cy="736.54" r="3" fill="#35215a" stroke="#1c1c1c" stroke-width="0.9"/>
<circle cx="1165.4" cy="736.54" r="4.5" fill="#45317f" stroke="#1c1c1c" stroke-width="0.9"/>
<circle cx="1211.2" cy="736.54" r="1.5" fill="#231a2e"/>
<circle cx="1252.5" cy="736.54" r="2" fill="#231a2e"/>
<circle cx="1293.8" cy="736.54" r="0.8" fill="#231a2e"/>
<circle cx="1335.1" cy="736.54" r="1.5" fill="#231a2e"/>
<circle cx="1376.4" cy="736.54" r="0.8" fill="#231a2e"/>
<circle cx="1459" cy="736.54" r="0.7" fill="#231a2e"/>
<circle cx="1500.3" cy="736.54" r="2" fill="#231a2e"/>
<circle cx="1541.6" cy="736.54" r="5.5" fill="#414487" stroke="#1c1c1c" stroke-width="0.9"/>
<circle cx="1665.5" cy="736.54" r="4" fill="#45317f" stroke="#1c1c1c" stroke-width="0.9"/>
<circle cx="1706.8" cy="736.54" r="6.5" fill="#3f4a8a" stroke="#1c1c1c" stroke-width="0.9"/>
<circle cx="1748.1" cy="736.54" r="3" fill="#35215a" stroke="#1c1c1c" stroke-width="0.9"/>
<circle cx="550.4" cy="773.56" r="12.9" fill="#b5d42e" stroke="#1c1c1c" stroke-width="0.9"/>
<circle cx="591.7" cy="773.56" r="3.5" fill="#45317f" stroke="#1c1c1c" stroke-width="0.9"/>
<circle cx="633" cy="773.56" r="1" fill="#231a2e"/>
<circle cx="674.3" cy="773.56" r="1.2" fill="#231a2e"/>
<circle cx="715.6" cy="773.56" r="4.5" fill="#45317f" stroke="#1c1c1c" stroke-width="0.9"/>
<circle cx="756.9" cy="773.56" r="2.5" fill="#35215a"/>
<circle cx="798.2" cy="773.56" r="0.8" fill="#b9b3bb"/>
<circle cx="839.5" cy="773.56" r="0.8" fill="#b9b3bb"/>
<circle cx="875.5" cy="773.56" r="2" fill="#231a2e"/>
<circle cx="916.8" cy="773.56" r="1.5" fill="#231a2e"/>
<circle cx="958.1" cy="773.56" r="1" fill="#231a2e"/>
<circle cx="999.4" cy="773.56" r="1" fill="#231a2e"/>
<circle cx="1046" cy="773.56" r="4" fill="#45317f" stroke="#1c1c1c" stroke-width="0.9"/>
<circle cx="1087.3" cy="773.56" r="2.5" fill="#35215a"/>
<circle cx="1124.1" cy="773.56" r="5.5" fill="#40458a" stroke="#1c1c1c" stroke-width="0.9"/>
<circle cx="1165.4" cy="773.56" r="3.5" fill="#45317f" stroke="#1c1c1c" stroke-width="0.9"/>
<circle cx="1211.2" cy="773.56" r="2" fill="#231a2e"/>
<circle cx="1252.5" cy="773.56" r="3" fill="#35215a" stroke="#1c1c1c" stroke-width="0.9"/>
<circle cx="1293.8" cy="773.56" r="1" fill="#231a2e"/>
<circle cx="1335.1" cy="773.56" r="1" fill="#231a2e"/>
<circle cx="1376.4" cy="773.56" r="0.7" fill="#231a2e"/>
<circle cx="1417.7" cy="773.56" r="0.8" fill="#b9b3bb"/>
<circle cx="1459" cy="773.56" r="0.8" fill="#231a2e"/>
<circle cx="1500.3" cy="773.56" r="0.8" fill="#b9b3bb"/>
<circle cx="1541.6" cy="773.56" r="7" fill="#3f4a89" stroke="#1c1c1c" stroke-width="0.9"/>
<circle cx="1582.9" cy="773.56" r="0.8" fill="#231a2e"/>
<circle cx="1665.5" cy="773.56" r="10" fill="#24848d" stroke="#1c1c1c" stroke-width="0.9"/>
<circle cx="1706.8" cy="773.56" r="5" fill="#45317f" stroke="#1c1c1c" stroke-width="0.9"/>
<circle cx="1748.1" cy="773.56" r="1.5" fill="#231a2e"/>
<circle cx="1789.4" cy="773.56" r="0.8" fill="#b9b3bb"/>
<circle cx="550.4" cy="810.58" r="1.5" fill="#231a2e"/>
<circle cx="591.7" cy="810.58" r="0.8" fill="#b9b3bb"/>
<circle cx="633" cy="810.58" r="1.5" fill="#231a2e"/>
<circle cx="674.3" cy="810.58" r="0.8" fill="#b9b3bb"/>
<circle cx="715.6" cy="810.58" r="4.5" fill="#45317f" stroke="#1c1c1c" stroke-width="0.9"/>
<circle cx="756.9" cy="810.58" r="3.5" fill="#45317f" stroke="#1c1c1c" stroke-width="0.9"/>
<circle cx="798.2" cy="810.58" r="0.8" fill="#231a2e"/>
<circle cx="839.5" cy="810.58" r="1" fill="#231a2e"/>
<circle cx="875.5" cy="810.58" r="3" fill="#35215a" stroke="#1c1c1c" stroke-width="0.9"/>
<circle cx="916.8" cy="810.58" r="1.5" fill="#231a2e"/>
<circle cx="958.1" cy="810.58" r="6" fill="#355f8d" stroke="#1c1c1c" stroke-width="0.9"/>
<circle cx="999.4" cy="810.58" r="1" fill="#231a2e"/>
<circle cx="1046" cy="810.58" r="9" fill="#2b748e" stroke="#1c1c1c" stroke-width="0.9"/>
<circle cx="1087.3" cy="810.58" r="2.5" fill="#35215a"/>
<circle cx="1124.1" cy="810.58" r="4" fill="#45317f" stroke="#1c1c1c" stroke-width="0.9"/>
<circle cx="1165.4" cy="810.58" r="5" fill="#45317f" stroke="#1c1c1c" stroke-width="0.9"/>
<circle cx="1211.2" cy="810.58" r="0.8" fill="#231a2e"/>
<circle cx="1252.5" cy="810.58" r="2.5" fill="#35215a"/>
<circle cx="1293.8" cy="810.58" r="1" fill="#231a2e"/>
<circle cx="1335.1" cy="810.58" r="1" fill="#231a2e"/>
<circle cx="1376.4" cy="810.58" r="1" fill="#231a2e"/>
<circle cx="1417.7" cy="810.58" r="0.8" fill="#231a2e"/>
<circle cx="1459" cy="810.58" r="0.8" fill="#231a2e"/>
<circle cx="1500.3" cy="810.58" r="1.5" fill="#231a2e"/>
<circle cx="1541.6" cy="810.58" r="5" fill="#45317f" stroke="#1c1c1c" stroke-width="0.9"/>
<circle cx="1582.9" cy="810.58" r="1.5" fill="#231a2e"/>
<circle cx="1624.2" cy="810.58" r="0.8" fill="#b9b3bb"/>
<circle cx="1665.5" cy="810.58" r="0.8" fill="#b9b3bb"/>
<circle cx="1706.8" cy="810.58" r="11.5" fill="#22a884" stroke="#1c1c1c" stroke-width="0.9"/>
<circle cx="1748.1" cy="810.58" r="10.5" fill="#21908d" stroke="#1c1c1c" stroke-width="0.9"/>
<circle cx="1789.4" cy="810.58" r="0.8" fill="#b9b3bb"/>
<circle cx="1830.7" cy="810.58" r="0.8" fill="#b9b3bb"/>
<circle cx="550.4" cy="847.6" r="2" fill="#231a2e"/>
<circle cx="591.7" cy="847.6" r="1.5" fill="#231a2e"/>
<circle cx="633" cy="847.6" r="0.8" fill="#231a2e"/>
<circle cx="674.3" cy="847.6" r="0.8" fill="#231a2e"/>
<circle cx="715.6" cy="847.6" r="1.5" fill="#231a2e"/>
<circle cx="756.9" cy="847.6" r="2.5" fill="#35215a"/>
<circle cx="875.5" cy="847.6" r="2.5" fill="#35215a"/>
<circle cx="916.8" cy="847.6" r="2.5" fill="#35215a"/>
<circle cx="958.1" cy="847.6" r="1" fill="#231a2e"/>
<circle cx="999.4" cy="847.6" r="0.8" fill="#231a2e"/>
<circle cx="1046" cy="847.6" r="4" fill="#45317f" stroke="#1c1c1c" stroke-width="0.9"/>
<circle cx="1087.3" cy="847.6" r="1.5" fill="#231a2e"/>
<circle cx="1124.1" cy="847.6" r="5.5" fill="#3e4a89" stroke="#1c1c1c" stroke-width="0.9"/>
<circle cx="1165.4" cy="847.6" r="1.5" fill="#231a2e"/>
<circle cx="1252.5" cy="847.6" r="1.5" fill="#231a2e"/>
<circle cx="1293.8" cy="847.6" r="0.8" fill="#231a2e"/>
<circle cx="1335.1" cy="847.6" r="1" fill="#231a2e"/>
<circle cx="1541.6" cy="847.6" r="1.5" fill="#231a2e"/>
<circle cx="1665.5" cy="847.6" r="0.8" fill="#231a2e"/>
<circle cx="1706.8" cy="847.6" r="1" fill="#231a2e"/>
<circle cx="1789.4" cy="847.6" r="12.5" fill="#a2d636" stroke="#1c1c1c" stroke-width="0.9"/>
<circle cx="1830.7" cy="847.6" r="12.5" fill="#f8e621" stroke="#1c1c1c" stroke-width="0.9"/>
<circle cx="1872" cy="847.6" r="10.5" fill="#1fa188" stroke="#1c1c1c" stroke-width="0.9"/>
<rect x="518.4" y="90.3" width="1383.9" height="777" fill="none" stroke="#000" stroke-width="3.4"/>
<line x1="477.2" y1="90.3" x2="477.2" y2="867.3" stroke="#000" stroke-width="3.4"/>
<line x1="475.5" y1="90.3" x2="520" y2="90.3" stroke="#000" stroke-width="3.4"/>
<line x1="475.5" y1="867.3" x2="520" y2="867.3" stroke="#000" stroke-width="3.4"/>
<line x1="477" y1="127" x2="518.4" y2="127" stroke="#000" stroke-width="3"/>
<line x1="477" y1="164.04" x2="518.4" y2="164.04" stroke="#000" stroke-width="3"/>
<line x1="477" y1="201.09" x2="518.4" y2="201.09" stroke="#000" stroke-width="3"/>
<line x1="477" y1="238.14" x2="518.4" y2="238.14" stroke="#000" stroke-width="3"/>
<line x1="477" y1="275.19" x2="518.4" y2="275.19" stroke="#000" stroke-width="3"/>
<line x1="477" y1="312.23" x2="518.4" y2="312.23" stroke="#000" stroke-width="3"/>
<line x1="477" y1="349.28" x2="518.4" y2="349.28" stroke="#000" stroke-width="3"/>
<line x1="477" y1="386.33" x2="518.4" y2="386.33" stroke="#000" stroke-width="3"/>
<line x1="477" y1="423.37" x2="518.4" y2="423.37" stroke="#000" stroke-width="3"/>
<line x1="477" y1="460.42" x2="518.4" y2="460.42" stroke="#000" stroke-width="3"/>
<line x1="477" y1="497.47" x2="518.4" y2="497.47" stroke="#000" stroke-width="3"/>
<line x1="477" y1="534.51" x2="518.4" y2="534.51" stroke="#000" stroke-width="3"/>
<line x1="477" y1="571.56" x2="518.4" y2="571.56" stroke="#000" stroke-width="3"/>
<line x1="477" y1="608.61" x2="518.4" y2="608.61" stroke="#000" stroke-width="3"/>
<line x1="477" y1="645.65" x2="518.4" y2="645.65" stroke="#000" stroke-width="3"/>
<line x1="477" y1="682.7" x2="518.4" y2="682.7" stroke="#000" stroke-width="3"/>
<line x1="477" y1="719.75" x2="518.4" y2="719.75" stroke="#000" stroke-width="3"/>
<line x1="477" y1="756.8" x2="518.4" y2="756.8" stroke="#000" stroke-width="3"/>
<line x1="477" y1="793.84" x2="518.4" y2="793.84" stroke="#000" stroke-width="3"/>
<line x1="477" y1="830.89" x2="518.4" y2="830.89" stroke="#000" stroke-width="3"/>
<line x1="469.5" y1="107.2" x2="477" y2="107.2" stroke="#000" stroke-width="3"/>
<text x="497.8" y="117.07" font-size="26.2" text-anchor="middle">1</text>
<text x="206.5" y="118.2" font-size="27.5" textLength="259.1" lengthAdjust="spacing">classical&#160;monocytes</text>
<line x1="469.5" y1="144.22" x2="477" y2="144.22" stroke="#000" stroke-width="3"/>
<text x="497.8" y="154.12" font-size="26.2" text-anchor="middle">2</text>
<text x="150.6" y="155.22" font-size="27.5" textLength="315" lengthAdjust="spacing">non-classical&#160;monocytes</text>
<line x1="469.5" y1="181.24" x2="477" y2="181.24" stroke="#000" stroke-width="3"/>
<text x="497.8" y="191.17" font-size="26.2" text-anchor="middle">3</text>
<text x="159.9" y="192.24" font-size="27.5" textLength="305.7" lengthAdjust="spacing">intermediate&#160;monocytes</text>
<line x1="469.5" y1="218.26" x2="477" y2="218.26" stroke="#000" stroke-width="3"/>
<text x="497.8" y="228.21" font-size="26.2" text-anchor="middle">4</text>
<text x="236.7" y="229.26" font-size="27.5" textLength="228.9" lengthAdjust="spacing">cytotoxic&#160;NK&#160;cells</text>
<line x1="469.5" y1="255.28" x2="477" y2="255.28" stroke="#000" stroke-width="3"/>
<text x="497.8" y="265.26" font-size="26.2" text-anchor="middle">5</text>
<text x="239.3" y="266.28" font-size="27.5" textLength="226.3" lengthAdjust="spacing">signaling&#160;NK&#160;cells</text>
<line x1="469.5" y1="292.3" x2="477" y2="292.3" stroke="#000" stroke-width="3"/>
<text x="497.8" y="302.31" font-size="26.2" text-anchor="middle">6</text>
<text x="301" y="303.3" font-size="27.5" textLength="164.6" lengthAdjust="spacing">naive&#160;B&#160;cells</text>
<line x1="469.5" y1="329.32" x2="477" y2="329.32" stroke="#000" stroke-width="3"/>
<text x="497.8" y="339.36" font-size="26.2" text-anchor="middle">7</text>
<text x="268.3" y="340.32" font-size="27.5" textLength="197.3" lengthAdjust="spacing">memory&#160;B&#160;cells</text>
<line x1="469.5" y1="366.34" x2="477" y2="366.34" stroke="#000" stroke-width="3"/>
<text x="497.8" y="376.4" font-size="26.2" text-anchor="middle">8</text>
<text x="252" y="377.34" font-size="27.5" textLength="213.6" lengthAdjust="spacing">activated&#160;B&#160;cells</text>
<line x1="469.5" y1="403.36" x2="477" y2="403.36" stroke="#000" stroke-width="3"/>
<text x="497.8" y="413.45" font-size="26.2" text-anchor="middle">9</text>
<text x="85.3" y="414.36" font-size="27.5" textLength="380.3" lengthAdjust="spacing">non-proliferating&#160;plasmablasts</text>
<line x1="469.5" y1="440.38" x2="477" y2="440.38" stroke="#000" stroke-width="3"/>
<text x="497.8" y="450.5" font-size="26.2" text-anchor="middle">10</text>
<text x="141.3" y="451.38" font-size="27.5" textLength="324.3" lengthAdjust="spacing">proliferating&#160;plasmablasts</text>
<line x1="469.5" y1="477.4" x2="477" y2="477.4" stroke="#000" stroke-width="3"/>
<text x="497.8" y="487.54" font-size="26.2" text-anchor="middle">11</text>
<text x="210.5" y="488.4" font-size="27.5" textLength="255.1" lengthAdjust="spacing">CD4+&#160;&#160;naive&#160;T&#160;cells</text>
<line x1="469.5" y1="514.42" x2="477" y2="514.42" stroke="#000" stroke-width="3"/>
<text x="497.8" y="524.59" font-size="26.2" text-anchor="middle">12</text>
<text x="178.6" y="525.42" font-size="27.5" textLength="287" lengthAdjust="spacing">CD4+&#160;&#160;memory&#160;T&#160;cells</text>
<line x1="469.5" y1="551.44" x2="477" y2="551.44" stroke="#000" stroke-width="3"/>
<text x="497.8" y="561.64" font-size="26.2" text-anchor="middle">13</text>
<text x="210.5" y="562.44" font-size="27.5" textLength="255.1" lengthAdjust="spacing">CD8+&#160;&#160;naive&#160;T&#160;cells</text>
<line x1="469.5" y1="588.46" x2="477" y2="588.46" stroke="#000" stroke-width="3"/>
<text x="497.8" y="598.68" font-size="26.2" text-anchor="middle">14</text>
<text x="73.3" y="599.46" font-size="27.5" textLength="392.3" lengthAdjust="spacing">CD8+&#160;&#160;effector&#160;memory&#160;T&#160;cells</text>
<line x1="469.5" y1="625.48" x2="477" y2="625.48" stroke="#000" stroke-width="3"/>
<text x="497.8" y="635.73" font-size="26.2" text-anchor="middle">15</text>
<text x="147.9" y="636.48" font-size="27.5" textLength="317.7" lengthAdjust="spacing">CD8+&#160;&#160;exhausted&#160;T&#160;cells</text>
<line x1="469.5" y1="662.5" x2="477" y2="662.5" stroke="#000" stroke-width="3"/>
<text x="497.8" y="672.78" font-size="26.2" text-anchor="middle">16</text>
<text x="394.1" y="673.5" font-size="27.5" textLength="71.5" lengthAdjust="spacing">Tregs</text>
<line x1="469.5" y1="699.52" x2="477" y2="699.52" stroke="#000" stroke-width="3"/>
<text x="497.8" y="709.83" font-size="26.2" text-anchor="middle">17</text>
<text x="403.3" y="710.52" font-size="27.5" textLength="62.3" lengthAdjust="spacing">MAIT</text>
<line x1="469.5" y1="736.54" x2="477" y2="736.54" stroke="#000" stroke-width="3"/>
<text x="497.8" y="746.87" font-size="26.2" text-anchor="middle">18</text>
<text x="394.1" y="747.54" font-size="27.5" textLength="67.9" lengthAdjust="spacing">cDC1</text>
<line x1="469.5" y1="773.56" x2="477" y2="773.56" stroke="#000" stroke-width="3"/>
<text x="497.8" y="783.92" font-size="26.2" text-anchor="middle">19</text>
<text x="394.1" y="784.56" font-size="27.5" textLength="71.5" lengthAdjust="spacing">cDC2</text>
<line x1="469.5" y1="810.58" x2="477" y2="810.58" stroke="#000" stroke-width="3"/>
<text x="497.8" y="820.97" font-size="26.2" text-anchor="middle">20</text>
<text x="396" y="821.58" font-size="27.5" textLength="69.6" lengthAdjust="spacing">pDCs</text>
<line x1="469.5" y1="847.6" x2="477" y2="847.6" stroke="#000" stroke-width="3"/>
<text x="497.8" y="858.01" font-size="26.2" text-anchor="middle">21</text>
<text x="357.2" y="858.6" font-size="27.5" textLength="108.4" lengthAdjust="spacing">platelets</text>
<rect x="521.5" y="91.3" width="178.5" height="107.7" fill="none" stroke="#12a07c" stroke-width="5.2"/>
<rect x="700.2" y="199" width="160.3" height="75" fill="none" stroke="#c67cbd" stroke-width="5.2"/>
<rect x="859" y="275.1" width="326.2" height="183.8" fill="none" stroke="#d8642a" stroke-width="5.2"/>
<rect x="1272" y="460" width="370.3" height="256.9" fill="none" stroke="#1c71b0" stroke-width="5.2"/>
<rect x="1185.2" y="422" width="86.3" height="36.9" fill="none" stroke="#e49a30" stroke-width="5.2"/>
<rect x="1642.5" y="717.5" width="43.1" height="73.8" fill="none" stroke="#e8a8d6" stroke-width="5.2"/>
<rect x="1685.8" y="791.6" width="85.2" height="34.5" fill="none" stroke="#cd8d5c" stroke-width="5.2"/>
<rect x="1771" y="826.7" width="127.5" height="37.9" fill="none" stroke="#8c8c8c" stroke-width="5.2"/>
<line x1="545.9" y1="867.3" x2="545.9" y2="874" stroke="#000" stroke-width="1.8"/>
<text x="556.2" y="882" font-size="29" text-anchor="end" font-style="italic" transform="rotate(-90 556.2 882)">LYZ</text>
<line x1="587.26" y1="867.3" x2="587.26" y2="874" stroke="#000" stroke-width="1.8"/>
<text x="597.56" y="882" font-size="29" text-anchor="end" font-style="italic" transform="rotate(-90 597.56 882)">CD14</text>
<line x1="628.62" y1="867.3" x2="628.62" y2="874" stroke="#000" stroke-width="1.8"/>
<text x="638.92" y="882" font-size="29" text-anchor="end" font-style="italic" transform="rotate(-90 638.92 882)">FCGR3A</text>
<line x1="669.98" y1="867.3" x2="669.98" y2="874" stroke="#000" stroke-width="1.8"/>
<text x="680.28" y="882" font-size="29" text-anchor="end" font-style="italic" transform="rotate(-90 680.28 882)">C1QA</text>
<line x1="711.34" y1="867.3" x2="711.34" y2="874" stroke="#000" stroke-width="1.8"/>
<text x="721.64" y="882" font-size="29" text-anchor="end" font-style="italic" transform="rotate(-90 721.64 882)">NKG7</text>
<line x1="752.7" y1="867.3" x2="752.7" y2="874" stroke="#000" stroke-width="1.8"/>
<text x="763" y="882" font-size="29" text-anchor="end" font-style="italic" transform="rotate(-90 763 882)">GNLY</text>
<line x1="794.06" y1="867.3" x2="794.06" y2="874" stroke="#000" stroke-width="1.8"/>
<text x="804.36" y="882" font-size="29" text-anchor="end" font-style="italic" transform="rotate(-90 804.36 882)">XCL1</text>
<line x1="835.42" y1="867.3" x2="835.42" y2="874" stroke="#000" stroke-width="1.8"/>
<text x="845.72" y="882" font-size="29" text-anchor="end" font-style="italic" transform="rotate(-90 845.72 882)">XCL2</text>
<line x1="876.78" y1="867.3" x2="876.78" y2="874" stroke="#000" stroke-width="1.8"/>
<text x="887.08" y="882" font-size="29" text-anchor="end" font-style="italic" transform="rotate(-90 887.08 882)">CD79A</text>
<line x1="918.14" y1="867.3" x2="918.14" y2="874" stroke="#000" stroke-width="1.8"/>
<text x="928.44" y="882" font-size="29" text-anchor="end" font-style="italic" transform="rotate(-90 928.44 882)">MS4A1</text>
<line x1="959.5" y1="867.3" x2="959.5" y2="874" stroke="#000" stroke-width="1.8"/>
<text x="969.8" y="882" font-size="29" text-anchor="end" font-style="italic" transform="rotate(-90 969.8 882)">TCL1A</text>
<line x1="1000.86" y1="867.3" x2="1000.86" y2="874" stroke="#000" stroke-width="1.8"/>
<text x="1011.16" y="882" font-size="29" text-anchor="end" font-style="italic" transform="rotate(-90 1011.16 882)">FCER2</text>
<line x1="1042.22" y1="867.3" x2="1042.22" y2="874" stroke="#000" stroke-width="1.8"/>
<text x="1052.52" y="882" font-size="29" text-anchor="end" font-style="italic" transform="rotate(-90 1052.52 882)">IGHM</text>
<line x1="1083.58" y1="867.3" x2="1083.58" y2="874" stroke="#000" stroke-width="1.8"/>
<text x="1093.88" y="882" font-size="29" text-anchor="end" font-style="italic" transform="rotate(-90 1093.88 882)">IGHA1</text>
<line x1="1124.94" y1="867.3" x2="1124.94" y2="874" stroke="#000" stroke-width="1.8"/>
<text x="1135.24" y="882" font-size="29" text-anchor="end" font-style="italic" transform="rotate(-90 1135.24 882)">IGHG1</text>
<line x1="1166.3" y1="867.3" x2="1166.3" y2="874" stroke="#000" stroke-width="1.8"/>
<text x="1176.6" y="882" font-size="29" text-anchor="end" font-style="italic" transform="rotate(-90 1176.6 882)">CD38</text>
<line x1="1207.66" y1="867.3" x2="1207.66" y2="874" stroke="#000" stroke-width="1.8"/>
<text x="1217.96" y="882" font-size="29" text-anchor="end" font-style="italic" transform="rotate(-90 1217.96 882)">MKI67</text>
<line x1="1249.02" y1="867.3" x2="1249.02" y2="874" stroke="#000" stroke-width="1.8"/>
<text x="1259.32" y="882" font-size="29" text-anchor="end" font-style="italic" transform="rotate(-90 1259.32 882)">CCND2</text>
<line x1="1290.38" y1="867.3" x2="1290.38" y2="874" stroke="#000" stroke-width="1.8"/>
<text x="1300.68" y="882" font-size="29" text-anchor="end" font-style="italic" transform="rotate(-90 1300.68 882)">CD3D</text>
<line x1="1331.74" y1="867.3" x2="1331.74" y2="874" stroke="#000" stroke-width="1.8"/>
<text x="1342.04" y="882" font-size="29" text-anchor="end" font-style="italic" transform="rotate(-90 1342.04 882)">IL7R</text>
<line x1="1373.1" y1="867.3" x2="1373.1" y2="874" stroke="#000" stroke-width="1.8"/>
<text x="1383.4" y="882" font-size="29" text-anchor="end" font-style="italic" transform="rotate(-90 1383.4 882)">TCF7</text>
<line x1="1414.46" y1="867.3" x2="1414.46" y2="874" stroke="#000" stroke-width="1.8"/>
<text x="1424.76" y="882" font-size="29" text-anchor="end" font-style="italic" transform="rotate(-90 1424.76 882)">CD8A</text>
<line x1="1455.82" y1="867.3" x2="1455.82" y2="874" stroke="#000" stroke-width="1.8"/>
<text x="1466.12" y="882" font-size="29" text-anchor="end" font-style="italic" transform="rotate(-90 1466.12 882)">CD8B</text>
<line x1="1497.18" y1="867.3" x2="1497.18" y2="874" stroke="#000" stroke-width="1.8"/>
<text x="1507.48" y="882" font-size="29" text-anchor="end" font-style="italic" transform="rotate(-90 1507.48 882)">LAG3</text>
<line x1="1538.54" y1="867.3" x2="1538.54" y2="874" stroke="#000" stroke-width="1.8"/>
<text x="1548.84" y="882" font-size="29" text-anchor="end" font-style="italic" transform="rotate(-90 1548.84 882)">H1FX</text>
<line x1="1579.9" y1="867.3" x2="1579.9" y2="874" stroke="#000" stroke-width="1.8"/>
<text x="1590.2" y="882" font-size="29" text-anchor="end" font-style="italic" transform="rotate(-90 1590.2 882)">KLRB1</text>
<line x1="1621.26" y1="867.3" x2="1621.26" y2="874" stroke="#000" stroke-width="1.8"/>
<text x="1631.56" y="882" font-size="29" text-anchor="end" font-style="italic" transform="rotate(-90 1631.56 882)">FOXP3</text>
<line x1="1662.62" y1="867.3" x2="1662.62" y2="874" stroke="#000" stroke-width="1.8"/>
<text x="1672.92" y="882" font-size="29" text-anchor="end" font-style="italic" transform="rotate(-90 1672.92 882)">CD1C</text>
<line x1="1703.98" y1="867.3" x2="1703.98" y2="874" stroke="#000" stroke-width="1.8"/>
<text x="1714.28" y="882" font-size="29" text-anchor="end" font-style="italic" transform="rotate(-90 1714.28 882)">IRF8</text>
<line x1="1745.34" y1="867.3" x2="1745.34" y2="874" stroke="#000" stroke-width="1.8"/>
<text x="1755.64" y="882" font-size="29" text-anchor="end" font-style="italic" transform="rotate(-90 1755.64 882)">CLEC4C</text>
<line x1="1786.7" y1="867.3" x2="1786.7" y2="874" stroke="#000" stroke-width="1.8"/>
<text x="1797" y="882" font-size="29" text-anchor="end" font-style="italic" transform="rotate(-90 1797 882)">PF4</text>
<line x1="1828.06" y1="867.3" x2="1828.06" y2="874" stroke="#000" stroke-width="1.8"/>
<text x="1838.36" y="882" font-size="29" text-anchor="end" font-style="italic" transform="rotate(-90 1838.36 882)">PPBP</text>
<line x1="1869.42" y1="867.3" x2="1869.42" y2="874" stroke="#000" stroke-width="1.8"/>
<text x="1879.72" y="882" font-size="29" text-anchor="end" font-style="italic" transform="rotate(-90 1879.72 882)">ITGA2B</text>
<text x="-0.6" y="15.8" font-size="28" font-weight="bold">a</text>
<text x="702.3" y="32" font-size="28" textLength="258.5" lengthAdjust="spacing">Fraction of cells (%)</text>
<circle cx="975.7" cy="14.2" r="4.4" fill="#8a8a8a" stroke="#5a5a5a" stroke-width="0.8"/>
<circle cx="1017.6" cy="14.2" r="7.4" fill="#8a8a8a" stroke="#5a5a5a" stroke-width="0.8"/>
<circle cx="1063.8" cy="14.2" r="9.7" fill="#8a8a8a" stroke="#5a5a5a" stroke-width="0.8"/>
<circle cx="1109.8" cy="14.2" r="12.1" fill="#8a8a8a" stroke="#5a5a5a" stroke-width="0.8"/>
<circle cx="1155.8" cy="14.2" r="14.2" fill="#8a8a8a" stroke="#5a5a5a" stroke-width="0.8"/>
<line x1="975.7" y1="34" x2="975.7" y2="40.5" stroke="#000" stroke-width="2"/>
<line x1="1017" y1="34" x2="1017" y2="40.5" stroke="#000" stroke-width="2"/>
<line x1="1073.6" y1="34" x2="1073.6" y2="40.5" stroke="#000" stroke-width="2"/>
<line x1="1109.8" y1="34" x2="1109.8" y2="40.5" stroke="#000" stroke-width="2"/>
<line x1="1155.8" y1="34" x2="1155.8" y2="40.5" stroke="#000" stroke-width="2"/>
<text x="972.5" y="69.3" font-size="26.5" text-anchor="middle">20</text>
<text x="1014" y="69.3" font-size="26.5" text-anchor="middle">40</text>
<text x="1060.3" y="69.3" font-size="26.5" text-anchor="middle">60</text>
<text x="1106.5" y="69.3" font-size="26.5" text-anchor="middle">80</text>
<text x="1153" y="69.3" font-size="26.5" text-anchor="middle">100</text>
<text x="1312.6" y="32" font-size="28" textLength="203" lengthAdjust="spacing">Mean exp (cpm)</text>
<defs><linearGradient id="vir" x1="0" x2="1" y1="0" y2="0"><stop offset="0" stop-color="#462a6c"/><stop offset="0.1" stop-color="#4a2d7e"/><stop offset="0.2" stop-color="#453a82"/><stop offset="0.3" stop-color="#3e5189"/><stop offset="0.4" stop-color="#33688d"/><stop offset="0.5" stop-color="#2a7d8e"/><stop offset="0.6" stop-color="#21938b"/><stop offset="0.7" stop-color="#25ab81"/><stop offset="0.8" stop-color="#4bbf6b"/><stop offset="0.9" stop-color="#a3d43c"/><stop offset="1" stop-color="#f2e51e"/></linearGradient></defs>
<rect x="1534.1" y="0.9" width="197.9" height="35.7" fill="url(#vir)" stroke="#000" stroke-width="1.8"/>
<line x1="1534.2" y1="36.6" x2="1534.2" y2="42.7" stroke="#000" stroke-width="2"/>
<line x1="1581.8" y1="36.6" x2="1581.8" y2="42.7" stroke="#000" stroke-width="2"/>
<line x1="1629.3" y1="36.6" x2="1629.3" y2="42.7" stroke="#000" stroke-width="2"/>
<line x1="1676.9" y1="36.6" x2="1676.9" y2="42.7" stroke="#000" stroke-width="2"/>
<line x1="1724.8" y1="36.6" x2="1724.8" y2="42.7" stroke="#000" stroke-width="2"/>
<text x="1535.7" y="68.5" font-size="27" text-anchor="middle">0</text>
<text x="1582.2" y="68.5" font-size="27" text-anchor="middle" textLength="31.5" lengthAdjust="spacing">10</text>
<text x="1624.7" y="68.5" font-size="27" text-anchor="middle" textLength="31.5" lengthAdjust="spacing">10</text>
<text x="1641" y="60.3" font-size="15">2</text>
<text x="1672.3" y="68.5" font-size="27" text-anchor="middle" textLength="31.5" lengthAdjust="spacing">10</text>
<text x="1688.6" y="60.3" font-size="15">3</text>
<text x="1720.5" y="68.5" font-size="27" text-anchor="middle" textLength="31.5" lengthAdjust="spacing">10</text>
<text x="1736.8" y="60.3" font-size="15">4</text>
<text x="-0.5" y="1049.7" font-size="28" font-weight="bold">b</text>
<text x="325.4" y="1050.6" font-size="28" text-anchor="middle" textLength="68.5" lengthAdjust="spacing">Tregs</text>
<line x1="135.9" y1="1059" x2="135.9" y2="1451.5" stroke="#b4b4b4" stroke-width="2"/>
<line x1="260.3" y1="1059" x2="260.3" y2="1451.5" stroke="#b4b4b4" stroke-width="2"/>
<line x1="384.8" y1="1059" x2="384.8" y2="1451.5" stroke="#b4b4b4" stroke-width="2"/>
<line x1="509.5" y1="1059" x2="509.5" y2="1451.5" stroke="#b4b4b4" stroke-width="2"/>
<line x1="119" y1="1075.7" x2="527.8" y2="1075.7" stroke="#b4b4b4" stroke-width="2"/>
<line x1="119" y1="1147.5" x2="527.8" y2="1147.5" stroke="#b4b4b4" stroke-width="2"/>
<line x1="119" y1="1219.2" x2="527.8" y2="1219.2" stroke="#b4b4b4" stroke-width="2"/>
<line x1="119" y1="1291" x2="527.8" y2="1291" stroke="#b4b4b4" stroke-width="2"/>
<line x1="119" y1="1362.6" x2="527.8" y2="1362.6" stroke="#b4b4b4" stroke-width="2"/>
<line x1="119" y1="1434.3" x2="527.8" y2="1434.3" stroke="#b4b4b4" stroke-width="2"/>
<polyline points="145.5,1075.7 152.3,1437" fill="none" stroke="#66c2a5" stroke-width="5.8" stroke-linejoin="round" stroke-linecap="butt"/>
<polyline points="143.3,1075.7 146.7,1437" fill="none" stroke="#fc8d62" stroke-width="5.8" stroke-linejoin="round" stroke-linecap="butt"/>
<polyline points="132.9,1075.7 147.7,1075.7 165.2,1134.8 167.7,1147.7 173.5,1189 176.8,1253.5 201.9,1314.2 384,1357.6 454,1374.4 509.5,1434.1" fill="none" stroke="#e78ac3" stroke-width="5.8" stroke-linejoin="round" stroke-linecap="butt"/>
<rect x="117.65" y="1058.75" width="410.1" height="392.7" fill="none" stroke="#000" stroke-width="3.5"/>
<line x1="135.9" y1="1453" x2="135.9" y2="1457.5" stroke="#000" stroke-width="2"/>
<line x1="260.3" y1="1453" x2="260.3" y2="1457.5" stroke="#000" stroke-width="2"/>
<line x1="384.8" y1="1453" x2="384.8" y2="1457.5" stroke="#000" stroke-width="2"/>
<line x1="509.5" y1="1453" x2="509.5" y2="1457.5" stroke="#000" stroke-width="2"/>
<line x1="112" y1="1075.7" x2="117" y2="1075.7" stroke="#000" stroke-width="2.2"/>
<text x="105.5" y="1085.7" font-size="28" text-anchor="end" textLength="40.5" lengthAdjust="spacing">1.0</text>
<line x1="112" y1="1147.5" x2="117" y2="1147.5" stroke="#000" stroke-width="2.2"/>
<text x="105.5" y="1157.5" font-size="28" text-anchor="end" textLength="40.5" lengthAdjust="spacing">0.8</text>
<line x1="112" y1="1219.2" x2="117" y2="1219.2" stroke="#000" stroke-width="2.2"/>
<text x="105.5" y="1229.2" font-size="28" text-anchor="end" textLength="40.5" lengthAdjust="spacing">0.6</text>
<line x1="112" y1="1291" x2="117" y2="1291" stroke="#000" stroke-width="2.2"/>
<text x="105.5" y="1301" font-size="28" text-anchor="end" textLength="40.5" lengthAdjust="spacing">0.4</text>
<line x1="112" y1="1362.6" x2="117" y2="1362.6" stroke="#000" stroke-width="2.2"/>
<text x="105.5" y="1372.6" font-size="28" text-anchor="end" textLength="40.5" lengthAdjust="spacing">0.2</text>
<line x1="112" y1="1434.3" x2="117" y2="1434.3" stroke="#000" stroke-width="2.2"/>
<text x="105.5" y="1444.3" font-size="28" text-anchor="end" textLength="40.5" lengthAdjust="spacing">0.0</text>
<text x="135.1" y="1481.4" font-size="27.5" text-anchor="middle">0</text>
<text x="259.5" y="1481.4" font-size="27.5" text-anchor="middle">2</text>
<text x="384" y="1481.4" font-size="27.5" text-anchor="middle">4</text>
<text x="508.7" y="1481.4" font-size="27.5" text-anchor="middle">6</text>
<text x="111.5" y="1512.3" font-size="28" textLength="409.5" lengthAdjust="spacing">Fraction of cells in cell type (%)</text>
<text x="55.1" y="1426.5" font-size="28.5" transform="rotate(-90 55.1 1426.5)" textLength="326" lengthAdjust="spacing">Cumulative over samples</text>
<line x1="219.4" y1="1541.2" x2="281.5" y2="1541.2" stroke="#66c2a5" stroke-width="7.7"/>
<text x="300" y="1550.7" font-size="28" textLength="95.5" lengthAdjust="spacing">Healthy</text>
<line x1="219.4" y1="1581" x2="281.5" y2="1581" stroke="#fc8d62" stroke-width="7.7"/>
<text x="300" y="1590.5" font-size="28" textLength="91.5" lengthAdjust="spacing">D/DWS</text>
<line x1="219.4" y1="1620.6" x2="281.5" y2="1620.6" stroke="#e78ac3" stroke-width="7.7"/>
<text x="300" y="1630.1" font-size="28" textLength="54.5" lengthAdjust="spacing">SDp</text>
<text x="1495" y="1048.7" font-size="28" font-weight="bold">d</text>
<text x="1812.5" y="1049" font-size="28" text-anchor="middle" textLength="68.5" lengthAdjust="spacing">Tregs</text>
<line x1="1622.4" y1="1059" x2="1622.4" y2="1455" stroke="#b4b4b4" stroke-width="2"/>
<line x1="1729.8" y1="1059" x2="1729.8" y2="1455" stroke="#b4b4b4" stroke-width="2"/>
<line x1="1837.6" y1="1059" x2="1837.6" y2="1455" stroke="#b4b4b4" stroke-width="2"/>
<line x1="1945.2" y1="1059" x2="1945.2" y2="1455" stroke="#b4b4b4" stroke-width="2"/>
<line x1="1605" y1="1075.8" x2="2010.5" y2="1075.8" stroke="#b4b4b4" stroke-width="2"/>
<line x1="1605" y1="1148.2" x2="2010.5" y2="1148.2" stroke="#b4b4b4" stroke-width="2"/>
<line x1="1605" y1="1220.8" x2="2010.5" y2="1220.8" stroke="#b4b4b4" stroke-width="2"/>
<line x1="1605" y1="1293.4" x2="2010.5" y2="1293.4" stroke="#b4b4b4" stroke-width="2"/>
<line x1="1605" y1="1365.8" x2="2010.5" y2="1365.8" stroke="#b4b4b4" stroke-width="2"/>
<line x1="1605" y1="1438.1" x2="2010.5" y2="1438.1" stroke="#b4b4b4" stroke-width="2"/>
<polyline points="1623.5,1075.8 1628,1088 1632.7,1100 1633.6,1125.4 1637.7,1147.2 1639.5,1172.6 1642.2,1181.6 1644.5,1208.8 1648.1,1236 1648.4,1250 1649.1,1278.3 1651.3,1289.7 1654.1,1295.4 1654.8,1313.8 1661.2,1325.1 1664.7,1352 1666.1,1373.3 1669.7,1390.3 1681,1400.2 1703.7,1410.1 1740.5,1419.4 1771.7,1422.2 1814.2,1425.7 1880,1430.7 1994.5,1438.1" fill="none" stroke="#fc8d62" stroke-width="5.4" stroke-linejoin="round" stroke-linecap="butt"/>
<polyline points="1619.1,1075.8 1635.3,1075.8 1636.7,1100 1638.1,1116.3 1645.9,1133.6 1648.6,1148.1 1654.5,1170.7 1656.3,1190.7 1666.3,1208.8 1672.6,1227 1677.1,1243.3 1683.1,1265.6 1686.7,1292.5 1689.5,1304.6 1716.5,1323.7 1717.9,1340.7 1722.8,1362 1732,1366.9 1754.7,1381.1 1798.7,1399.5 1804.3,1419.4 1836.9,1431.4 1858.2,1438.5" fill="none" stroke="#e78ac3" stroke-width="5.5" stroke-linejoin="round" stroke-linecap="butt"/>
<rect x="1603.8" y="1057.9" width="406.8" height="397.1" fill="none" stroke="#000" stroke-width="3.4"/>
<line x1="1622.4" y1="1456.5" x2="1622.4" y2="1461" stroke="#000" stroke-width="2"/>
<line x1="1729.8" y1="1456.5" x2="1729.8" y2="1461" stroke="#000" stroke-width="2"/>
<line x1="1837.6" y1="1456.5" x2="1837.6" y2="1461" stroke="#000" stroke-width="2"/>
<line x1="1945.2" y1="1456.5" x2="1945.2" y2="1461" stroke="#000" stroke-width="2"/>
<line x1="1598.5" y1="1075.8" x2="1603" y2="1075.8" stroke="#000" stroke-width="2.2"/>
<text x="1593.3" y="1085.8" font-size="28" text-anchor="end" textLength="40.5" lengthAdjust="spacing">1.0</text>
<line x1="1598.5" y1="1148.2" x2="1603" y2="1148.2" stroke="#000" stroke-width="2.2"/>
<text x="1593.3" y="1158.2" font-size="28" text-anchor="end" textLength="40.5" lengthAdjust="spacing">0.8</text>
<line x1="1598.5" y1="1220.8" x2="1603" y2="1220.8" stroke="#000" stroke-width="2.2"/>
<text x="1593.3" y="1230.8" font-size="28" text-anchor="end" textLength="40.5" lengthAdjust="spacing">0.6</text>
<line x1="1598.5" y1="1293.4" x2="1603" y2="1293.4" stroke="#000" stroke-width="2.2"/>
<text x="1593.3" y="1303.4" font-size="28" text-anchor="end" textLength="40.5" lengthAdjust="spacing">0.4</text>
<line x1="1598.5" y1="1365.8" x2="1603" y2="1365.8" stroke="#000" stroke-width="2.2"/>
<text x="1593.3" y="1375.8" font-size="28" text-anchor="end" textLength="40.5" lengthAdjust="spacing">0.2</text>
<line x1="1598.5" y1="1438.1" x2="1603" y2="1438.1" stroke="#000" stroke-width="2.2"/>
<text x="1593.3" y="1448.1" font-size="28" text-anchor="end" textLength="40.5" lengthAdjust="spacing">0.0</text>
<text x="1622.9" y="1488" font-size="28" text-anchor="middle" textLength="55" lengthAdjust="spacing">0.00</text>
<text x="1730.3" y="1488" font-size="28" text-anchor="middle" textLength="55" lengthAdjust="spacing">0.02</text>
<text x="1838.1" y="1488" font-size="28" text-anchor="middle" textLength="55" lengthAdjust="spacing">0.04</text>
<text x="1945.7" y="1488" font-size="28" text-anchor="middle" textLength="55" lengthAdjust="spacing">0.06</text>
<text x="1598.6" y="1519.6" font-size="28" textLength="411" lengthAdjust="spacing">Fraction of cells in cell type (%)</text>
<text x="1543.5" y="1425.5" font-size="28.5" transform="rotate(-90 1543.5 1425.5)" textLength="326" lengthAdjust="spacing">Cumulative over samples</text>
<line x1="1739.7" y1="1552.6" x2="1799.6" y2="1552.6" stroke="#fc8d62" stroke-width="7.7"/>
<text x="1817.5" y="1562.1" font-size="28" textLength="20.5" lengthAdjust="spacing">D</text>
<line x1="1739.7" y1="1586.9" x2="1799.6" y2="1586.9" stroke="#e78ac3" stroke-width="7.7"/>
<text x="1817.5" y="1596.4" font-size="28" textLength="54.5" lengthAdjust="spacing">SDp</text>
<text x="614" y="1049.8" font-size="28" font-weight="bold">c</text>
<line x1="786.6" y1="1059" x2="786.6" y2="1569.5" stroke="#b4b4b4" stroke-width="2"/>
<line x1="851.76" y1="1059" x2="851.76" y2="1569.5" stroke="#b4b4b4" stroke-width="2"/>
<line x1="916.92" y1="1059" x2="916.92" y2="1569.5" stroke="#b4b4b4" stroke-width="2"/>
<line x1="982.08" y1="1059" x2="982.08" y2="1569.5" stroke="#b4b4b4" stroke-width="2"/>
<line x1="1047.24" y1="1059" x2="1047.24" y2="1569.5" stroke="#b4b4b4" stroke-width="2"/>
<line x1="1112.4" y1="1059" x2="1112.4" y2="1569.5" stroke="#b4b4b4" stroke-width="2"/>
<line x1="1177.56" y1="1059" x2="1177.56" y2="1569.5" stroke="#b4b4b4" stroke-width="2"/>
<line x1="1242.72" y1="1059" x2="1242.72" y2="1569.5" stroke="#b4b4b4" stroke-width="2"/>
<line x1="1307.88" y1="1059" x2="1307.88" y2="1569.5" stroke="#b4b4b4" stroke-width="2"/>
<line x1="743" y1="1547.7" x2="1351.3" y2="1547.7" stroke="#b4b4b4" stroke-width="2"/>
<line x1="743" y1="1454.26" x2="1351.3" y2="1454.26" stroke="#b4b4b4" stroke-width="2"/>
<line x1="743" y1="1360.82" x2="1351.3" y2="1360.82" stroke="#b4b4b4" stroke-width="2"/>
<line x1="743" y1="1267.38" x2="1351.3" y2="1267.38" stroke="#b4b4b4" stroke-width="2"/>
<line x1="743" y1="1173.94" x2="1351.3" y2="1173.94" stroke="#b4b4b4" stroke-width="2"/>
<line x1="743" y1="1080.5" x2="1351.3" y2="1080.5" stroke="#b4b4b4" stroke-width="2"/>
<line x1="773.7" y1="1448.19" x2="773.7" y2="1500.98" stroke="#6e6e6e" stroke-width="3"/>
<line x1="773.7" y1="1536.02" x2="773.7" y2="1547.23" stroke="#6e6e6e" stroke-width="3"/>
<rect x="760.8" y="1500.98" width="25.8" height="35.04" fill="#f29d74"/>
<line x1="759.8" y1="1522" x2="787.6" y2="1522" stroke="#111" stroke-width="2.6"/>
<circle cx="772.01" cy="1409.53" r="3" fill="#f19f80" stroke="#1e0f10" stroke-width="1.25"/>
<circle cx="775.15" cy="1426.73" r="3" fill="#f19f80" stroke="#1e0f10" stroke-width="1.25"/>
<circle cx="774.04" cy="1428.43" r="3" fill="#f19f80" stroke="#1e0f10" stroke-width="1.25"/>
<circle cx="769.46" cy="1448.66" r="3" fill="#f19f80" stroke="#1e0f10" stroke-width="1.25"/>
<circle cx="769.26" cy="1458.87" r="3" fill="#f19f80" stroke="#1e0f10" stroke-width="1.25"/>
<circle cx="769.57" cy="1474.87" r="3" fill="#f19f80" stroke="#1e0f10" stroke-width="1.25"/>
<circle cx="772.98" cy="1484.49" r="3" fill="#f19f80" stroke="#1e0f10" stroke-width="1.25"/>
<circle cx="770.09" cy="1487.62" r="3" fill="#f19f80" stroke="#1e0f10" stroke-width="1.25"/>
<circle cx="774.92" cy="1494.42" r="3" fill="#f19f80" stroke="#1e0f10" stroke-width="1.25"/>
<circle cx="774.44" cy="1497.14" r="3" fill="#f19f80" stroke="#1e0f10" stroke-width="1.25"/>
<circle cx="778.27" cy="1499.59" r="3" fill="#f19f80" stroke="#1e0f10" stroke-width="1.25"/>
<circle cx="777.14" cy="1501.7" r="3" fill="#f19f80" stroke="#1e0f10" stroke-width="1.25"/>
<circle cx="770.28" cy="1504.34" r="3" fill="#f19f80" stroke="#1e0f10" stroke-width="1.25"/>
<circle cx="771.86" cy="1507.37" r="3" fill="#f19f80" stroke="#1e0f10" stroke-width="1.25"/>
<circle cx="770.63" cy="1509.47" r="3" fill="#f19f80" stroke="#1e0f10" stroke-width="1.25"/>
<circle cx="775.03" cy="1511.13" r="3" fill="#f19f80" stroke="#1e0f10" stroke-width="1.25"/>
<circle cx="774.16" cy="1512.69" r="3" fill="#f19f80" stroke="#1e0f10" stroke-width="1.25"/>
<circle cx="769.47" cy="1514.7" r="3" fill="#f19f80" stroke="#1e0f10" stroke-width="1.25"/>
<circle cx="775.43" cy="1516.79" r="3" fill="#f19f80" stroke="#1e0f10" stroke-width="1.25"/>
<circle cx="771.92" cy="1518.82" r="3" fill="#f19f80" stroke="#1e0f10" stroke-width="1.25"/>
<circle cx="773.25" cy="1520.4" r="3" fill="#f19f80" stroke="#1e0f10" stroke-width="1.25"/>
<circle cx="776.53" cy="1522.2" r="3" fill="#f19f80" stroke="#1e0f10" stroke-width="1.25"/>
<circle cx="771.24" cy="1523.48" r="3" fill="#f19f80" stroke="#1e0f10" stroke-width="1.25"/>
<circle cx="773.94" cy="1525.65" r="3" fill="#f19f80" stroke="#1e0f10" stroke-width="1.25"/>
<circle cx="775.9" cy="1526.46" r="3" fill="#f19f80" stroke="#1e0f10" stroke-width="1.25"/>
<circle cx="778.31" cy="1527.7" r="3" fill="#f19f80" stroke="#1e0f10" stroke-width="1.25"/>
<circle cx="772.91" cy="1530.2" r="3" fill="#f19f80" stroke="#1e0f10" stroke-width="1.25"/>
<circle cx="770.36" cy="1531.34" r="3" fill="#f19f80" stroke="#1e0f10" stroke-width="1.25"/>
<circle cx="769.28" cy="1533.39" r="3" fill="#f19f80" stroke="#1e0f10" stroke-width="1.25"/>
<circle cx="776.24" cy="1534.69" r="3" fill="#f19f80" stroke="#1e0f10" stroke-width="1.25"/>
<circle cx="777.3" cy="1535.83" r="3" fill="#f19f80" stroke="#1e0f10" stroke-width="1.25"/>
<circle cx="775.57" cy="1537.98" r="3" fill="#f19f80" stroke="#1e0f10" stroke-width="1.25"/>
<circle cx="774.47" cy="1539.25" r="3" fill="#f19f80" stroke="#1e0f10" stroke-width="1.25"/>
<circle cx="776.96" cy="1541.14" r="3" fill="#f19f80" stroke="#1e0f10" stroke-width="1.25"/>
<circle cx="773.45" cy="1542.26" r="3" fill="#f19f80" stroke="#1e0f10" stroke-width="1.25"/>
<circle cx="769.48" cy="1543.7" r="3" fill="#f19f80" stroke="#1e0f10" stroke-width="1.25"/>
<circle cx="775.11" cy="1544.92" r="3" fill="#f19f80" stroke="#1e0f10" stroke-width="1.25"/>
<circle cx="776.79" cy="1545.15" r="3" fill="#f19f80" stroke="#1e0f10" stroke-width="1.25"/>
<circle cx="772.6" cy="1546.47" r="3" fill="#f19f80" stroke="#1e0f10" stroke-width="1.25"/>
<circle cx="769.12" cy="1546.73" r="3" fill="#f19f80" stroke="#1e0f10" stroke-width="1.25"/>
<circle cx="770.51" cy="1546.85" r="3" fill="#f19f80" stroke="#1e0f10" stroke-width="1.25"/>
<circle cx="769.47" cy="1547.73" r="3" fill="#f19f80" stroke="#1e0f10" stroke-width="1.25"/>
<line x1="799.5" y1="1491.64" x2="799.5" y2="1512.19" stroke="#6e6e6e" stroke-width="3"/>
<line x1="799.5" y1="1537.42" x2="799.5" y2="1546.3" stroke="#6e6e6e" stroke-width="3"/>
<rect x="786.6" y="1512.19" width="25.8" height="25.23" fill="#d991c9"/>
<line x1="785.6" y1="1530.88" x2="813.4" y2="1530.88" stroke="#111" stroke-width="2.6"/>
<circle cx="795.94" cy="1433.92" r="3" fill="#e6a2d6" stroke="#1e0f10" stroke-width="1.25"/>
<circle cx="798.45" cy="1492.01" r="3" fill="#e6a2d6" stroke="#1e0f10" stroke-width="1.25"/>
<circle cx="795.47" cy="1493.45" r="3" fill="#e6a2d6" stroke="#1e0f10" stroke-width="1.25"/>
<circle cx="799.97" cy="1506.04" r="3" fill="#e6a2d6" stroke="#1e0f10" stroke-width="1.25"/>
<circle cx="802.57" cy="1508.35" r="3" fill="#e6a2d6" stroke="#1e0f10" stroke-width="1.25"/>
<circle cx="797.37" cy="1512.58" r="3" fill="#e6a2d6" stroke="#1e0f10" stroke-width="1.25"/>
<circle cx="798.14" cy="1520.05" r="3" fill="#e6a2d6" stroke="#1e0f10" stroke-width="1.25"/>
<circle cx="803.89" cy="1523.99" r="3" fill="#e6a2d6" stroke="#1e0f10" stroke-width="1.25"/>
<circle cx="796.39" cy="1528.74" r="3" fill="#e6a2d6" stroke="#1e0f10" stroke-width="1.25"/>
<circle cx="796.94" cy="1531.33" r="3" fill="#e6a2d6" stroke="#1e0f10" stroke-width="1.25"/>
<circle cx="800.36" cy="1533.45" r="3" fill="#e6a2d6" stroke="#1e0f10" stroke-width="1.25"/>
<circle cx="794.74" cy="1535.94" r="3" fill="#e6a2d6" stroke="#1e0f10" stroke-width="1.25"/>
<circle cx="798.24" cy="1538.42" r="3" fill="#e6a2d6" stroke="#1e0f10" stroke-width="1.25"/>
<circle cx="803.85" cy="1540.88" r="3" fill="#e6a2d6" stroke="#1e0f10" stroke-width="1.25"/>
<circle cx="799.65" cy="1543.15" r="3" fill="#e6a2d6" stroke="#1e0f10" stroke-width="1.25"/>
<circle cx="801.19" cy="1544.45" r="3" fill="#e6a2d6" stroke="#1e0f10" stroke-width="1.25"/>
<circle cx="803.34" cy="1546.58" r="3" fill="#e6a2d6" stroke="#1e0f10" stroke-width="1.25"/>
<line x1="838.86" y1="1321.58" x2="838.86" y2="1413.15" stroke="#6e6e6e" stroke-width="3"/>
<line x1="838.86" y1="1500.98" x2="838.86" y2="1540.69" stroke="#6e6e6e" stroke-width="3"/>
<rect x="825.96" y="1413.15" width="25.8" height="87.83" fill="#f29d74"/>
<line x1="824.96" y1="1462.2" x2="852.76" y2="1462.2" stroke="#111" stroke-width="2.6"/>
<circle cx="842.46" cy="1265.34" r="3" fill="#f19f80" stroke="#1e0f10" stroke-width="1.25"/>
<circle cx="837.83" cy="1322.41" r="3" fill="#f19f80" stroke="#1e0f10" stroke-width="1.25"/>
<circle cx="835.05" cy="1350.68" r="3" fill="#f19f80" stroke="#1e0f10" stroke-width="1.25"/>
<circle cx="834.66" cy="1362.72" r="3" fill="#f19f80" stroke="#1e0f10" stroke-width="1.25"/>
<circle cx="836.06" cy="1376.83" r="3" fill="#f19f80" stroke="#1e0f10" stroke-width="1.25"/>
<circle cx="837.32" cy="1379.06" r="3" fill="#f19f80" stroke="#1e0f10" stroke-width="1.25"/>
<circle cx="834.06" cy="1381.5" r="3" fill="#f19f80" stroke="#1e0f10" stroke-width="1.25"/>
<circle cx="835.03" cy="1391.05" r="3" fill="#f19f80" stroke="#1e0f10" stroke-width="1.25"/>
<circle cx="834.3" cy="1403.24" r="3" fill="#f19f80" stroke="#1e0f10" stroke-width="1.25"/>
<circle cx="839.96" cy="1409.52" r="3" fill="#f19f80" stroke="#1e0f10" stroke-width="1.25"/>
<circle cx="836.48" cy="1414.4" r="3" fill="#f19f80" stroke="#1e0f10" stroke-width="1.25"/>
<circle cx="837.56" cy="1430.52" r="3" fill="#f19f80" stroke="#1e0f10" stroke-width="1.25"/>
<circle cx="842.21" cy="1433.73" r="3" fill="#f19f80" stroke="#1e0f10" stroke-width="1.25"/>
<circle cx="838.53" cy="1444.9" r="3" fill="#f19f80" stroke="#1e0f10" stroke-width="1.25"/>
<circle cx="834.88" cy="1446.85" r="3" fill="#f19f80" stroke="#1e0f10" stroke-width="1.25"/>
<circle cx="837.35" cy="1451.69" r="3" fill="#f19f80" stroke="#1e0f10" stroke-width="1.25"/>
<circle cx="842.02" cy="1456.26" r="3" fill="#f19f80" stroke="#1e0f10" stroke-width="1.25"/>
<circle cx="834.28" cy="1461.72" r="3" fill="#f19f80" stroke="#1e0f10" stroke-width="1.25"/>
<circle cx="839.13" cy="1465.59" r="3" fill="#f19f80" stroke="#1e0f10" stroke-width="1.25"/>
<circle cx="839.27" cy="1467.8" r="3" fill="#f19f80" stroke="#1e0f10" stroke-width="1.25"/>
<circle cx="839.13" cy="1473.43" r="3" fill="#f19f80" stroke="#1e0f10" stroke-width="1.25"/>
<circle cx="842.35" cy="1480.15" r="3" fill="#f19f80" stroke="#1e0f10" stroke-width="1.25"/>
<circle cx="836.57" cy="1484.49" r="3" fill="#f19f80" stroke="#1e0f10" stroke-width="1.25"/>
<circle cx="835.66" cy="1489.57" r="3" fill="#f19f80" stroke="#1e0f10" stroke-width="1.25"/>
<circle cx="839.17" cy="1494.25" r="3" fill="#f19f80" stroke="#1e0f10" stroke-width="1.25"/>
<circle cx="837.22" cy="1496.03" r="3" fill="#f19f80" stroke="#1e0f10" stroke-width="1.25"/>
<circle cx="841.85" cy="1499.13" r="3" fill="#f19f80" stroke="#1e0f10" stroke-width="1.25"/>
<circle cx="842.25" cy="1501.29" r="3" fill="#f19f80" stroke="#1e0f10" stroke-width="1.25"/>
<circle cx="841.92" cy="1503.56" r="3" fill="#f19f80" stroke="#1e0f10" stroke-width="1.25"/>
<circle cx="836.24" cy="1505.67" r="3" fill="#f19f80" stroke="#1e0f10" stroke-width="1.25"/>
<circle cx="837.47" cy="1507.52" r="3" fill="#f19f80" stroke="#1e0f10" stroke-width="1.25"/>
<circle cx="834.33" cy="1510.1" r="3" fill="#f19f80" stroke="#1e0f10" stroke-width="1.25"/>
<circle cx="836.55" cy="1512.85" r="3" fill="#f19f80" stroke="#1e0f10" stroke-width="1.25"/>
<circle cx="843.24" cy="1517.28" r="3" fill="#f19f80" stroke="#1e0f10" stroke-width="1.25"/>
<circle cx="843.06" cy="1522.49" r="3" fill="#f19f80" stroke="#1e0f10" stroke-width="1.25"/>
<circle cx="843.23" cy="1526.54" r="3" fill="#f19f80" stroke="#1e0f10" stroke-width="1.25"/>
<circle cx="836.18" cy="1531.07" r="3" fill="#f19f80" stroke="#1e0f10" stroke-width="1.25"/>
<circle cx="835.95" cy="1533.39" r="3" fill="#f19f80" stroke="#1e0f10" stroke-width="1.25"/>
<circle cx="840.05" cy="1538.76" r="3" fill="#f19f80" stroke="#1e0f10" stroke-width="1.25"/>
<circle cx="842.13" cy="1540.67" r="3" fill="#f19f80" stroke="#1e0f10" stroke-width="1.25"/>
<line x1="864.66" y1="1249.16" x2="864.66" y2="1375.3" stroke="#6e6e6e" stroke-width="3"/>
<line x1="864.66" y1="1472.48" x2="864.66" y2="1522" stroke="#6e6e6e" stroke-width="3"/>
<rect x="851.76" y="1375.3" width="25.8" height="97.18" fill="#d991c9"/>
<line x1="850.76" y1="1432.77" x2="878.56" y2="1432.77" stroke="#111" stroke-width="2.6"/>
<circle cx="866.13" cy="1248.99" r="3" fill="#e6a2d6" stroke="#1e0f10" stroke-width="1.25"/>
<circle cx="860.67" cy="1258.2" r="3" fill="#e6a2d6" stroke="#1e0f10" stroke-width="1.25"/>
<circle cx="868.59" cy="1307.37" r="3" fill="#e6a2d6" stroke="#1e0f10" stroke-width="1.25"/>
<circle cx="867.06" cy="1373.88" r="3" fill="#e6a2d6" stroke="#1e0f10" stroke-width="1.25"/>
<circle cx="861.57" cy="1376.06" r="3" fill="#e6a2d6" stroke="#1e0f10" stroke-width="1.25"/>
<circle cx="863.05" cy="1375.14" r="3" fill="#e6a2d6" stroke="#1e0f10" stroke-width="1.25"/>
<circle cx="869.19" cy="1398.09" r="3" fill="#e6a2d6" stroke="#1e0f10" stroke-width="1.25"/>
<circle cx="863.71" cy="1419.67" r="3" fill="#e6a2d6" stroke="#1e0f10" stroke-width="1.25"/>
<circle cx="866.82" cy="1423.56" r="3" fill="#e6a2d6" stroke="#1e0f10" stroke-width="1.25"/>
<circle cx="861.08" cy="1431.49" r="3" fill="#e6a2d6" stroke="#1e0f10" stroke-width="1.25"/>
<circle cx="868.55" cy="1435.88" r="3" fill="#e6a2d6" stroke="#1e0f10" stroke-width="1.25"/>
<circle cx="861.26" cy="1459.26" r="3" fill="#e6a2d6" stroke="#1e0f10" stroke-width="1.25"/>
<circle cx="869.27" cy="1466.1" r="3" fill="#e6a2d6" stroke="#1e0f10" stroke-width="1.25"/>
<circle cx="863.22" cy="1470.66" r="3" fill="#e6a2d6" stroke="#1e0f10" stroke-width="1.25"/>
<circle cx="861.12" cy="1495.82" r="3" fill="#e6a2d6" stroke="#1e0f10" stroke-width="1.25"/>
<circle cx="869.18" cy="1497.39" r="3" fill="#e6a2d6" stroke="#1e0f10" stroke-width="1.25"/>
<circle cx="864.92" cy="1522.44" r="3" fill="#e6a2d6" stroke="#1e0f10" stroke-width="1.25"/>
<line x1="904.02" y1="1491.64" x2="904.02" y2="1514.06" stroke="#6e6e6e" stroke-width="3"/>
<line x1="904.02" y1="1539.29" x2="904.02" y2="1547.23" stroke="#6e6e6e" stroke-width="3"/>
<rect x="891.12" y="1514.06" width="25.8" height="25.23" fill="#f29d74"/>
<line x1="890.12" y1="1529.48" x2="917.92" y2="1529.48" stroke="#111" stroke-width="2.6"/>
<circle cx="903.38" cy="1492.01" r="3" fill="#f19f80" stroke="#1e0f10" stroke-width="1.25"/>
<circle cx="907.15" cy="1496.02" r="3" fill="#f19f80" stroke="#1e0f10" stroke-width="1.25"/>
<circle cx="901.64" cy="1498.44" r="3" fill="#f19f80" stroke="#1e0f10" stroke-width="1.25"/>
<circle cx="901.53" cy="1501.07" r="3" fill="#f19f80" stroke="#1e0f10" stroke-width="1.25"/>
<circle cx="901.71" cy="1503.24" r="3" fill="#f19f80" stroke="#1e0f10" stroke-width="1.25"/>
<circle cx="900.48" cy="1506.06" r="3" fill="#f19f80" stroke="#1e0f10" stroke-width="1.25"/>
<circle cx="902.62" cy="1507.95" r="3" fill="#f19f80" stroke="#1e0f10" stroke-width="1.25"/>
<circle cx="904.82" cy="1510.73" r="3" fill="#f19f80" stroke="#1e0f10" stroke-width="1.25"/>
<circle cx="903.26" cy="1513.08" r="3" fill="#f19f80" stroke="#1e0f10" stroke-width="1.25"/>
<circle cx="904.04" cy="1515.03" r="3" fill="#f19f80" stroke="#1e0f10" stroke-width="1.25"/>
<circle cx="904.25" cy="1516.85" r="3" fill="#f19f80" stroke="#1e0f10" stroke-width="1.25"/>
<circle cx="903.45" cy="1518.42" r="3" fill="#f19f80" stroke="#1e0f10" stroke-width="1.25"/>
<circle cx="899.26" cy="1520.9" r="3" fill="#f19f80" stroke="#1e0f10" stroke-width="1.25"/>
<circle cx="900.87" cy="1521.98" r="3" fill="#f19f80" stroke="#1e0f10" stroke-width="1.25"/>
<circle cx="906.18" cy="1523.46" r="3" fill="#f19f80" stroke="#1e0f10" stroke-width="1.25"/>
<circle cx="902.35" cy="1524.83" r="3" fill="#f19f80" stroke="#1e0f10" stroke-width="1.25"/>
<circle cx="904.55" cy="1526.49" r="3" fill="#f19f80" stroke="#1e0f10" stroke-width="1.25"/>
<circle cx="900.24" cy="1527.67" r="3" fill="#f19f80" stroke="#1e0f10" stroke-width="1.25"/>
<circle cx="901.61" cy="1528.79" r="3" fill="#f19f80" stroke="#1e0f10" stroke-width="1.25"/>
<circle cx="906.63" cy="1530.42" r="3" fill="#f19f80" stroke="#1e0f10" stroke-width="1.25"/>
<circle cx="904.61" cy="1532.08" r="3" fill="#f19f80" stroke="#1e0f10" stroke-width="1.25"/>
<circle cx="907.98" cy="1533.16" r="3" fill="#f19f80" stroke="#1e0f10" stroke-width="1.25"/>
<circle cx="905.1" cy="1534.62" r="3" fill="#f19f80" stroke="#1e0f10" stroke-width="1.25"/>
<circle cx="904.14" cy="1536.21" r="3" fill="#f19f80" stroke="#1e0f10" stroke-width="1.25"/>
<circle cx="903.56" cy="1537.45" r="3" fill="#f19f80" stroke="#1e0f10" stroke-width="1.25"/>
<circle cx="903.81" cy="1538.8" r="3" fill="#f19f80" stroke="#1e0f10" stroke-width="1.25"/>
<circle cx="905.93" cy="1539.67" r="3" fill="#f19f80" stroke="#1e0f10" stroke-width="1.25"/>
<circle cx="908.26" cy="1539.98" r="3" fill="#f19f80" stroke="#1e0f10" stroke-width="1.25"/>
<circle cx="904.59" cy="1541.6" r="3" fill="#f19f80" stroke="#1e0f10" stroke-width="1.25"/>
<circle cx="907.28" cy="1541.73" r="3" fill="#f19f80" stroke="#1e0f10" stroke-width="1.25"/>
<circle cx="900.39" cy="1542.97" r="3" fill="#f19f80" stroke="#1e0f10" stroke-width="1.25"/>
<circle cx="899.92" cy="1543.7" r="3" fill="#f19f80" stroke="#1e0f10" stroke-width="1.25"/>
<circle cx="899.92" cy="1545.07" r="3" fill="#f19f80" stroke="#1e0f10" stroke-width="1.25"/>
<circle cx="906.75" cy="1546.23" r="3" fill="#f19f80" stroke="#1e0f10" stroke-width="1.25"/>
<circle cx="900.7" cy="1546.51" r="3" fill="#f19f80" stroke="#1e0f10" stroke-width="1.25"/>
<circle cx="905.56" cy="1546.41" r="3" fill="#f19f80" stroke="#1e0f10" stroke-width="1.25"/>
<circle cx="907.7" cy="1547.7" r="3" fill="#f19f80" stroke="#1e0f10" stroke-width="1.25"/>
<line x1="929.82" y1="1496.78" x2="929.82" y2="1516.86" stroke="#6e6e6e" stroke-width="3"/>
<line x1="929.82" y1="1537.42" x2="929.82" y2="1546.77" stroke="#6e6e6e" stroke-width="3"/>
<rect x="916.92" y="1516.86" width="25.8" height="20.56" fill="#d991c9"/>
<line x1="915.92" y1="1532.28" x2="943.72" y2="1532.28" stroke="#111" stroke-width="2.6"/>
<circle cx="927.13" cy="1468.73" r="3" fill="#e6a2d6" stroke="#1e0f10" stroke-width="1.25"/>
<circle cx="928.84" cy="1496.3" r="3" fill="#e6a2d6" stroke="#1e0f10" stroke-width="1.25"/>
<circle cx="934.52" cy="1497.57" r="3" fill="#e6a2d6" stroke="#1e0f10" stroke-width="1.25"/>
<circle cx="926.57" cy="1510.26" r="3" fill="#e6a2d6" stroke="#1e0f10" stroke-width="1.25"/>
<circle cx="929.97" cy="1512.5" r="3" fill="#e6a2d6" stroke="#1e0f10" stroke-width="1.25"/>
<circle cx="926.9" cy="1514.81" r="3" fill="#e6a2d6" stroke="#1e0f10" stroke-width="1.25"/>
<circle cx="931.95" cy="1516.85" r="3" fill="#e6a2d6" stroke="#1e0f10" stroke-width="1.25"/>
<circle cx="930.34" cy="1521.94" r="3" fill="#e6a2d6" stroke="#1e0f10" stroke-width="1.25"/>
<circle cx="925.19" cy="1528.84" r="3" fill="#e6a2d6" stroke="#1e0f10" stroke-width="1.25"/>
<circle cx="931.01" cy="1531.36" r="3" fill="#e6a2d6" stroke="#1e0f10" stroke-width="1.25"/>
<circle cx="925.64" cy="1534.17" r="3" fill="#e6a2d6" stroke="#1e0f10" stroke-width="1.25"/>
<circle cx="932.59" cy="1538.83" r="3" fill="#e6a2d6" stroke="#1e0f10" stroke-width="1.25"/>
<circle cx="926.03" cy="1540.46" r="3" fill="#e6a2d6" stroke="#1e0f10" stroke-width="1.25"/>
<circle cx="925.4" cy="1543.31" r="3" fill="#e6a2d6" stroke="#1e0f10" stroke-width="1.25"/>
<circle cx="927.62" cy="1544.99" r="3" fill="#e6a2d6" stroke="#1e0f10" stroke-width="1.25"/>
<line x1="969.18" y1="1543.03" x2="969.18" y2="1544.9" stroke="#6e6e6e" stroke-width="3"/>
<line x1="969.18" y1="1547.23" x2="969.18" y2="1547.7" stroke="#6e6e6e" stroke-width="3"/>
<rect x="956.28" y="1544.9" width="25.8" height="2.34" fill="#f29d74"/>
<line x1="955.28" y1="1545.6" x2="983.08" y2="1545.6" stroke="#111" stroke-width="2.6"/>
<circle cx="968.43" cy="1515.41" r="3" fill="#f19f80" stroke="#1e0f10" stroke-width="1.25"/>
<circle cx="972.24" cy="1526.43" r="3" fill="#f19f80" stroke="#1e0f10" stroke-width="1.25"/>
<circle cx="965.81" cy="1536.44" r="3" fill="#f19f80" stroke="#1e0f10" stroke-width="1.25"/>
<circle cx="969.86" cy="1538.56" r="3" fill="#f19f80" stroke="#1e0f10" stroke-width="1.25"/>
<circle cx="965.24" cy="1538.85" r="3" fill="#f19f80" stroke="#1e0f10" stroke-width="1.25"/>
<circle cx="970.99" cy="1540.62" r="3" fill="#f19f80" stroke="#1e0f10" stroke-width="1.25"/>
<circle cx="965.08" cy="1542.06" r="3" fill="#f19f80" stroke="#1e0f10" stroke-width="1.25"/>
<circle cx="970.47" cy="1542.4" r="3" fill="#f19f80" stroke="#1e0f10" stroke-width="1.25"/>
<circle cx="965.18" cy="1543.38" r="3" fill="#f19f80" stroke="#1e0f10" stroke-width="1.25"/>
<circle cx="965.02" cy="1543.86" r="3" fill="#f19f80" stroke="#1e0f10" stroke-width="1.25"/>
<circle cx="968.74" cy="1543.8" r="3" fill="#f19f80" stroke="#1e0f10" stroke-width="1.25"/>
<circle cx="969.69" cy="1545.32" r="3" fill="#f19f80" stroke="#1e0f10" stroke-width="1.25"/>
<circle cx="966.95" cy="1544.99" r="3" fill="#f19f80" stroke="#1e0f10" stroke-width="1.25"/>
<circle cx="969.44" cy="1545.57" r="3" fill="#f19f80" stroke="#1e0f10" stroke-width="1.25"/>
<circle cx="965.43" cy="1545.96" r="3" fill="#f19f80" stroke="#1e0f10" stroke-width="1.25"/>
<circle cx="964.86" cy="1546.23" r="3" fill="#f19f80" stroke="#1e0f10" stroke-width="1.25"/>
<circle cx="967.38" cy="1546.57" r="3" fill="#f19f80" stroke="#1e0f10" stroke-width="1.25"/>
<circle cx="971.67" cy="1546.79" r="3" fill="#f19f80" stroke="#1e0f10" stroke-width="1.25"/>
<circle cx="969.18" cy="1546.91" r="3" fill="#f19f80" stroke="#1e0f10" stroke-width="1.25"/>
<circle cx="967.71" cy="1546.84" r="3" fill="#f19f80" stroke="#1e0f10" stroke-width="1.25"/>
<circle cx="966.78" cy="1546.98" r="3" fill="#f19f80" stroke="#1e0f10" stroke-width="1.25"/>
<circle cx="971.42" cy="1547.61" r="3" fill="#f19f80" stroke="#1e0f10" stroke-width="1.25"/>
<circle cx="966.2" cy="1547.58" r="3" fill="#f19f80" stroke="#1e0f10" stroke-width="1.25"/>
<circle cx="973.35" cy="1547.26" r="3" fill="#f19f80" stroke="#1e0f10" stroke-width="1.25"/>
<line x1="994.98" y1="1536.02" x2="994.98" y2="1540.69" stroke="#6e6e6e" stroke-width="3"/>
<line x1="994.98" y1="1543.96" x2="994.98" y2="1546.3" stroke="#6e6e6e" stroke-width="3"/>
<rect x="982.08" y="1540.69" width="25.8" height="3.27" fill="#d991c9"/>
<line x1="981.08" y1="1542.56" x2="1008.88" y2="1542.56" stroke="#111" stroke-width="2.6"/>
<circle cx="998.04" cy="1524.27" r="3" fill="#e6a2d6" stroke="#1e0f10" stroke-width="1.25"/>
<circle cx="994.93" cy="1529.35" r="3" fill="#e6a2d6" stroke="#1e0f10" stroke-width="1.25"/>
<circle cx="993.95" cy="1531.35" r="3" fill="#e6a2d6" stroke="#1e0f10" stroke-width="1.25"/>
<circle cx="996.78" cy="1534.17" r="3" fill="#e6a2d6" stroke="#1e0f10" stroke-width="1.25"/>
<circle cx="993.47" cy="1536.35" r="3" fill="#e6a2d6" stroke="#1e0f10" stroke-width="1.25"/>
<circle cx="996.96" cy="1538.49" r="3" fill="#e6a2d6" stroke="#1e0f10" stroke-width="1.25"/>
<circle cx="994.07" cy="1539.14" r="3" fill="#e6a2d6" stroke="#1e0f10" stroke-width="1.25"/>
<circle cx="990.7" cy="1540.32" r="3" fill="#e6a2d6" stroke="#1e0f10" stroke-width="1.25"/>
<circle cx="990.86" cy="1542.33" r="3" fill="#e6a2d6" stroke="#1e0f10" stroke-width="1.25"/>
<circle cx="992.63" cy="1542.69" r="3" fill="#e6a2d6" stroke="#1e0f10" stroke-width="1.25"/>
<circle cx="990.99" cy="1544.3" r="3" fill="#e6a2d6" stroke="#1e0f10" stroke-width="1.25"/>
<circle cx="998.54" cy="1545.53" r="3" fill="#e6a2d6" stroke="#1e0f10" stroke-width="1.25"/>
<circle cx="992.89" cy="1546.04" r="3" fill="#e6a2d6" stroke="#1e0f10" stroke-width="1.25"/>
<line x1="1034.34" y1="1082.37" x2="1034.34" y2="1094.98" stroke="#6e6e6e" stroke-width="3"/>
<line x1="1034.34" y1="1139.37" x2="1034.34" y2="1194.03" stroke="#6e6e6e" stroke-width="3"/>
<rect x="1021.44" y="1094.98" width="25.8" height="44.38" fill="#f29d74"/>
<line x1="1020.44" y1="1104.79" x2="1048.24" y2="1104.79" stroke="#111" stroke-width="2.6"/>
<circle cx="1032.35" cy="1082.33" r="3" fill="#f19f80" stroke="#1e0f10" stroke-width="1.25"/>
<circle cx="1031.05" cy="1083.25" r="3" fill="#f19f80" stroke="#1e0f10" stroke-width="1.25"/>
<circle cx="1032.07" cy="1084.7" r="3" fill="#f19f80" stroke="#1e0f10" stroke-width="1.25"/>
<circle cx="1038.88" cy="1085.22" r="3" fill="#f19f80" stroke="#1e0f10" stroke-width="1.25"/>
<circle cx="1031.89" cy="1086.57" r="3" fill="#f19f80" stroke="#1e0f10" stroke-width="1.25"/>
<circle cx="1032.51" cy="1087.36" r="3" fill="#f19f80" stroke="#1e0f10" stroke-width="1.25"/>
<circle cx="1029.55" cy="1088.79" r="3" fill="#f19f80" stroke="#1e0f10" stroke-width="1.25"/>
<circle cx="1034.1" cy="1089.85" r="3" fill="#f19f80" stroke="#1e0f10" stroke-width="1.25"/>
<circle cx="1031.47" cy="1091.25" r="3" fill="#f19f80" stroke="#1e0f10" stroke-width="1.25"/>
<circle cx="1029.59" cy="1092.41" r="3" fill="#f19f80" stroke="#1e0f10" stroke-width="1.25"/>
<circle cx="1030.4" cy="1093.95" r="3" fill="#f19f80" stroke="#1e0f10" stroke-width="1.25"/>
<circle cx="1029.94" cy="1094.97" r="3" fill="#f19f80" stroke="#1e0f10" stroke-width="1.25"/>
<circle cx="1032.46" cy="1096.58" r="3" fill="#f19f80" stroke="#1e0f10" stroke-width="1.25"/>
<circle cx="1035.16" cy="1098.28" r="3" fill="#f19f80" stroke="#1e0f10" stroke-width="1.25"/>
<circle cx="1036.75" cy="1099.81" r="3" fill="#f19f80" stroke="#1e0f10" stroke-width="1.25"/>
<circle cx="1036.41" cy="1101.44" r="3" fill="#f19f80" stroke="#1e0f10" stroke-width="1.25"/>
<circle cx="1033.28" cy="1102.28" r="3" fill="#f19f80" stroke="#1e0f10" stroke-width="1.25"/>
<circle cx="1038.99" cy="1103.51" r="3" fill="#f19f80" stroke="#1e0f10" stroke-width="1.25"/>
<circle cx="1036.49" cy="1105.87" r="3" fill="#f19f80" stroke="#1e0f10" stroke-width="1.25"/>
<circle cx="1029.96" cy="1107.93" r="3" fill="#f19f80" stroke="#1e0f10" stroke-width="1.25"/>
<circle cx="1038.1" cy="1109.59" r="3" fill="#f19f80" stroke="#1e0f10" stroke-width="1.25"/>
<circle cx="1036.58" cy="1111.65" r="3" fill="#f19f80" stroke="#1e0f10" stroke-width="1.25"/>
<circle cx="1030.88" cy="1113.23" r="3" fill="#f19f80" stroke="#1e0f10" stroke-width="1.25"/>
<circle cx="1034.38" cy="1115.87" r="3" fill="#f19f80" stroke="#1e0f10" stroke-width="1.25"/>
<circle cx="1037.26" cy="1118.2" r="3" fill="#f19f80" stroke="#1e0f10" stroke-width="1.25"/>
<circle cx="1035.15" cy="1120.6" r="3" fill="#f19f80" stroke="#1e0f10" stroke-width="1.25"/>
<circle cx="1036.1" cy="1122.74" r="3" fill="#f19f80" stroke="#1e0f10" stroke-width="1.25"/>
<circle cx="1031.75" cy="1125.35" r="3" fill="#f19f80" stroke="#1e0f10" stroke-width="1.25"/>
<circle cx="1030.82" cy="1128.95" r="3" fill="#f19f80" stroke="#1e0f10" stroke-width="1.25"/>
<circle cx="1030.55" cy="1132.23" r="3" fill="#f19f80" stroke="#1e0f10" stroke-width="1.25"/>
<circle cx="1034.9" cy="1135.76" r="3" fill="#f19f80" stroke="#1e0f10" stroke-width="1.25"/>
<circle cx="1035.55" cy="1140.48" r="3" fill="#f19f80" stroke="#1e0f10" stroke-width="1.25"/>
<circle cx="1034.24" cy="1150.08" r="3" fill="#f19f80" stroke="#1e0f10" stroke-width="1.25"/>
<circle cx="1037.2" cy="1160.17" r="3" fill="#f19f80" stroke="#1e0f10" stroke-width="1.25"/>
<circle cx="1034.37" cy="1171.64" r="3" fill="#f19f80" stroke="#1e0f10" stroke-width="1.25"/>
<circle cx="1035.87" cy="1180.51" r="3" fill="#f19f80" stroke="#1e0f10" stroke-width="1.25"/>
<circle cx="1036.61" cy="1194.72" r="3" fill="#f19f80" stroke="#1e0f10" stroke-width="1.25"/>
<circle cx="1030.25" cy="1197.07" r="3" fill="#f19f80" stroke="#1e0f10" stroke-width="1.25"/>
<circle cx="1036.54" cy="1220.37" r="3" fill="#f19f80" stroke="#1e0f10" stroke-width="1.25"/>
<circle cx="1036.64" cy="1225.81" r="3" fill="#f19f80" stroke="#1e0f10" stroke-width="1.25"/>
<circle cx="1034.28" cy="1234.56" r="3" fill="#f19f80" stroke="#1e0f10" stroke-width="1.25"/>
<circle cx="1034.14" cy="1262.89" r="3" fill="#f19f80" stroke="#1e0f10" stroke-width="1.25"/>
<line x1="1060.14" y1="1080.5" x2="1060.14" y2="1086.57" stroke="#6e6e6e" stroke-width="3"/>
<line x1="1060.14" y1="1111.8" x2="1060.14" y2="1139.37" stroke="#6e6e6e" stroke-width="3"/>
<rect x="1047.24" y="1086.57" width="25.8" height="25.23" fill="#d991c9"/>
<line x1="1046.24" y1="1089.38" x2="1074.04" y2="1089.38" stroke="#111" stroke-width="2.6"/>
<circle cx="1062.7" cy="1080.62" r="3" fill="#e6a2d6" stroke="#1e0f10" stroke-width="1.25"/>
<circle cx="1061.51" cy="1081.95" r="3" fill="#e6a2d6" stroke="#1e0f10" stroke-width="1.25"/>
<circle cx="1056.76" cy="1083.99" r="3" fill="#e6a2d6" stroke="#1e0f10" stroke-width="1.25"/>
<circle cx="1062.47" cy="1085.91" r="3" fill="#e6a2d6" stroke="#1e0f10" stroke-width="1.25"/>
<circle cx="1060.79" cy="1087.49" r="3" fill="#e6a2d6" stroke="#1e0f10" stroke-width="1.25"/>
<circle cx="1055.92" cy="1091.95" r="3" fill="#e6a2d6" stroke="#1e0f10" stroke-width="1.25"/>
<circle cx="1061.79" cy="1099.38" r="3" fill="#e6a2d6" stroke="#1e0f10" stroke-width="1.25"/>
<circle cx="1061.83" cy="1103.65" r="3" fill="#e6a2d6" stroke="#1e0f10" stroke-width="1.25"/>
<circle cx="1060.3" cy="1113.17" r="3" fill="#e6a2d6" stroke="#1e0f10" stroke-width="1.25"/>
<circle cx="1059.82" cy="1117.49" r="3" fill="#e6a2d6" stroke="#1e0f10" stroke-width="1.25"/>
<circle cx="1063.92" cy="1126.92" r="3" fill="#e6a2d6" stroke="#1e0f10" stroke-width="1.25"/>
<circle cx="1064.73" cy="1137" r="3" fill="#e6a2d6" stroke="#1e0f10" stroke-width="1.25"/>
<circle cx="1055.51" cy="1138.86" r="3" fill="#e6a2d6" stroke="#1e0f10" stroke-width="1.25"/>
<circle cx="1063.21" cy="1176.74" r="3" fill="#e6a2d6" stroke="#1e0f10" stroke-width="1.25"/>
<line x1="1099.5" y1="1449.59" x2="1099.5" y2="1493.97" stroke="#6e6e6e" stroke-width="3"/>
<line x1="1099.5" y1="1541.16" x2="1099.5" y2="1547.47" stroke="#6e6e6e" stroke-width="3"/>
<rect x="1086.6" y="1493.97" width="25.8" height="47.19" fill="#f29d74"/>
<line x1="1085.6" y1="1529.48" x2="1113.4" y2="1529.48" stroke="#111" stroke-width="2.6"/>
<circle cx="1099.01" cy="1402.64" r="3" fill="#f19f80" stroke="#1e0f10" stroke-width="1.25"/>
<circle cx="1096.71" cy="1410.32" r="3" fill="#f19f80" stroke="#1e0f10" stroke-width="1.25"/>
<circle cx="1096.72" cy="1412.29" r="3" fill="#f19f80" stroke="#1e0f10" stroke-width="1.25"/>
<circle cx="1096.06" cy="1449.61" r="3" fill="#f19f80" stroke="#1e0f10" stroke-width="1.25"/>
<circle cx="1103.85" cy="1451.56" r="3" fill="#f19f80" stroke="#1e0f10" stroke-width="1.25"/>
<circle cx="1102.57" cy="1454.27" r="3" fill="#f19f80" stroke="#1e0f10" stroke-width="1.25"/>
<circle cx="1103.21" cy="1459.14" r="3" fill="#f19f80" stroke="#1e0f10" stroke-width="1.25"/>
<circle cx="1096.92" cy="1464" r="3" fill="#f19f80" stroke="#1e0f10" stroke-width="1.25"/>
<circle cx="1099.37" cy="1467.8" r="3" fill="#f19f80" stroke="#1e0f10" stroke-width="1.25"/>
<circle cx="1094.73" cy="1472.94" r="3" fill="#f19f80" stroke="#1e0f10" stroke-width="1.25"/>
<circle cx="1099.03" cy="1477.42" r="3" fill="#f19f80" stroke="#1e0f10" stroke-width="1.25"/>
<circle cx="1096.05" cy="1479.8" r="3" fill="#f19f80" stroke="#1e0f10" stroke-width="1.25"/>
<circle cx="1097.73" cy="1494.31" r="3" fill="#f19f80" stroke="#1e0f10" stroke-width="1.25"/>
<circle cx="1094.72" cy="1501.23" r="3" fill="#f19f80" stroke="#1e0f10" stroke-width="1.25"/>
<circle cx="1102.76" cy="1505.27" r="3" fill="#f19f80" stroke="#1e0f10" stroke-width="1.25"/>
<circle cx="1103.59" cy="1510.54" r="3" fill="#f19f80" stroke="#1e0f10" stroke-width="1.25"/>
<circle cx="1103.36" cy="1514.79" r="3" fill="#f19f80" stroke="#1e0f10" stroke-width="1.25"/>
<circle cx="1098.27" cy="1518.16" r="3" fill="#f19f80" stroke="#1e0f10" stroke-width="1.25"/>
<circle cx="1104.29" cy="1521.16" r="3" fill="#f19f80" stroke="#1e0f10" stroke-width="1.25"/>
<circle cx="1098.16" cy="1524.27" r="3" fill="#f19f80" stroke="#1e0f10" stroke-width="1.25"/>
<circle cx="1097.34" cy="1526.22" r="3" fill="#f19f80" stroke="#1e0f10" stroke-width="1.25"/>
<circle cx="1095.68" cy="1529.35" r="3" fill="#f19f80" stroke="#1e0f10" stroke-width="1.25"/>
<circle cx="1097.44" cy="1531.32" r="3" fill="#f19f80" stroke="#1e0f10" stroke-width="1.25"/>
<circle cx="1097.09" cy="1532.52" r="3" fill="#f19f80" stroke="#1e0f10" stroke-width="1.25"/>
<circle cx="1099.61" cy="1534.31" r="3" fill="#f19f80" stroke="#1e0f10" stroke-width="1.25"/>
<circle cx="1098.28" cy="1536.94" r="3" fill="#f19f80" stroke="#1e0f10" stroke-width="1.25"/>
<circle cx="1103.19" cy="1538.67" r="3" fill="#f19f80" stroke="#1e0f10" stroke-width="1.25"/>
<circle cx="1100.76" cy="1540.17" r="3" fill="#f19f80" stroke="#1e0f10" stroke-width="1.25"/>
<circle cx="1103.73" cy="1541.21" r="3" fill="#f19f80" stroke="#1e0f10" stroke-width="1.25"/>
<circle cx="1101.61" cy="1542.11" r="3" fill="#f19f80" stroke="#1e0f10" stroke-width="1.25"/>
<circle cx="1101.73" cy="1543.91" r="3" fill="#f19f80" stroke="#1e0f10" stroke-width="1.25"/>
<circle cx="1101.93" cy="1545.51" r="3" fill="#f19f80" stroke="#1e0f10" stroke-width="1.25"/>
<circle cx="1097.45" cy="1545.85" r="3" fill="#f19f80" stroke="#1e0f10" stroke-width="1.25"/>
<circle cx="1103.6" cy="1546.86" r="3" fill="#f19f80" stroke="#1e0f10" stroke-width="1.25"/>
<line x1="1125.3" y1="1533.68" x2="1125.3" y2="1541.16" stroke="#6e6e6e" stroke-width="3"/>
<line x1="1125.3" y1="1546.3" x2="1125.3" y2="1547.7" stroke="#6e6e6e" stroke-width="3"/>
<rect x="1112.4" y="1541.16" width="25.8" height="5.14" fill="#d991c9"/>
<line x1="1111.4" y1="1545.6" x2="1139.2" y2="1545.6" stroke="#111" stroke-width="2.6"/>
<circle cx="1125.03" cy="1503.16" r="3" fill="#e6a2d6" stroke="#1e0f10" stroke-width="1.25"/>
<circle cx="1123.36" cy="1505.89" r="3" fill="#e6a2d6" stroke="#1e0f10" stroke-width="1.25"/>
<circle cx="1129.87" cy="1514.76" r="3" fill="#e6a2d6" stroke="#1e0f10" stroke-width="1.25"/>
<circle cx="1126.8" cy="1531.15" r="3" fill="#e6a2d6" stroke="#1e0f10" stroke-width="1.25"/>
<circle cx="1125.85" cy="1533.58" r="3" fill="#e6a2d6" stroke="#1e0f10" stroke-width="1.25"/>
<circle cx="1122.11" cy="1538.02" r="3" fill="#e6a2d6" stroke="#1e0f10" stroke-width="1.25"/>
<circle cx="1122.5" cy="1541.1" r="3" fill="#e6a2d6" stroke="#1e0f10" stroke-width="1.25"/>
<circle cx="1125.27" cy="1542.75" r="3" fill="#e6a2d6" stroke="#1e0f10" stroke-width="1.25"/>
<circle cx="1129.2" cy="1545.86" r="3" fill="#e6a2d6" stroke="#1e0f10" stroke-width="1.25"/>
<circle cx="1124.82" cy="1545.94" r="3" fill="#e6a2d6" stroke="#1e0f10" stroke-width="1.25"/>
<circle cx="1122.35" cy="1546.82" r="3" fill="#e6a2d6" stroke="#1e0f10" stroke-width="1.25"/>
<line x1="1164.66" y1="1524.34" x2="1164.66" y2="1537.42" stroke="#6e6e6e" stroke-width="3"/>
<line x1="1164.66" y1="1545.83" x2="1164.66" y2="1547.7" stroke="#6e6e6e" stroke-width="3"/>
<rect x="1151.76" y="1537.42" width="25.8" height="8.41" fill="#f29d74"/>
<line x1="1150.76" y1="1542.09" x2="1178.56" y2="1542.09" stroke="#111" stroke-width="2.6"/>
<circle cx="1163.14" cy="1444.51" r="3" fill="#f19f80" stroke="#1e0f10" stroke-width="1.25"/>
<circle cx="1162.16" cy="1517.09" r="3" fill="#f19f80" stroke="#1e0f10" stroke-width="1.25"/>
<circle cx="1165.33" cy="1520.06" r="3" fill="#f19f80" stroke="#1e0f10" stroke-width="1.25"/>
<circle cx="1167.06" cy="1521.92" r="3" fill="#f19f80" stroke="#1e0f10" stroke-width="1.25"/>
<circle cx="1163.83" cy="1524.36" r="3" fill="#f19f80" stroke="#1e0f10" stroke-width="1.25"/>
<circle cx="1163.48" cy="1526.51" r="3" fill="#f19f80" stroke="#1e0f10" stroke-width="1.25"/>
<circle cx="1160.46" cy="1528.79" r="3" fill="#f19f80" stroke="#1e0f10" stroke-width="1.25"/>
<circle cx="1169.15" cy="1530.97" r="3" fill="#f19f80" stroke="#1e0f10" stroke-width="1.25"/>
<circle cx="1164.69" cy="1533.81" r="3" fill="#f19f80" stroke="#1e0f10" stroke-width="1.25"/>
<circle cx="1168.14" cy="1534.8" r="3" fill="#f19f80" stroke="#1e0f10" stroke-width="1.25"/>
<circle cx="1162.46" cy="1536.24" r="3" fill="#f19f80" stroke="#1e0f10" stroke-width="1.25"/>
<circle cx="1163.7" cy="1537.83" r="3" fill="#f19f80" stroke="#1e0f10" stroke-width="1.25"/>
<circle cx="1169.02" cy="1539.17" r="3" fill="#f19f80" stroke="#1e0f10" stroke-width="1.25"/>
<circle cx="1168.24" cy="1539.28" r="3" fill="#f19f80" stroke="#1e0f10" stroke-width="1.25"/>
<circle cx="1160.17" cy="1540.9" r="3" fill="#f19f80" stroke="#1e0f10" stroke-width="1.25"/>
<circle cx="1168.46" cy="1541.6" r="3" fill="#f19f80" stroke="#1e0f10" stroke-width="1.25"/>
<circle cx="1165.5" cy="1542.06" r="3" fill="#f19f80" stroke="#1e0f10" stroke-width="1.25"/>
<circle cx="1163.62" cy="1543.92" r="3" fill="#f19f80" stroke="#1e0f10" stroke-width="1.25"/>
<circle cx="1167.79" cy="1544.79" r="3" fill="#f19f80" stroke="#1e0f10" stroke-width="1.25"/>
<circle cx="1169.19" cy="1544.65" r="3" fill="#f19f80" stroke="#1e0f10" stroke-width="1.25"/>
<circle cx="1160.91" cy="1545.02" r="3" fill="#f19f80" stroke="#1e0f10" stroke-width="1.25"/>
<circle cx="1164.87" cy="1546.01" r="3" fill="#f19f80" stroke="#1e0f10" stroke-width="1.25"/>
<circle cx="1168.9" cy="1546.52" r="3" fill="#f19f80" stroke="#1e0f10" stroke-width="1.25"/>
<circle cx="1166.07" cy="1547.03" r="3" fill="#f19f80" stroke="#1e0f10" stroke-width="1.25"/>
<circle cx="1164.25" cy="1547.28" r="3" fill="#f19f80" stroke="#1e0f10" stroke-width="1.25"/>
<circle cx="1160.24" cy="1547.75" r="3" fill="#f19f80" stroke="#1e0f10" stroke-width="1.25"/>
<line x1="1190.46" y1="1519.67" x2="1190.46" y2="1530.41" stroke="#6e6e6e" stroke-width="3"/>
<line x1="1190.46" y1="1544.2" x2="1190.46" y2="1547.23" stroke="#6e6e6e" stroke-width="3"/>
<rect x="1177.56" y="1530.41" width="25.8" height="13.78" fill="#d991c9"/>
<line x1="1176.56" y1="1539.76" x2="1204.36" y2="1539.76" stroke="#111" stroke-width="2.6"/>
<circle cx="1187.89" cy="1482.71" r="3" fill="#e6a2d6" stroke="#1e0f10" stroke-width="1.25"/>
<circle cx="1191.86" cy="1491.44" r="3" fill="#e6a2d6" stroke="#1e0f10" stroke-width="1.25"/>
<circle cx="1186.89" cy="1500.73" r="3" fill="#e6a2d6" stroke="#1e0f10" stroke-width="1.25"/>
<circle cx="1191.77" cy="1505.85" r="3" fill="#e6a2d6" stroke="#1e0f10" stroke-width="1.25"/>
<circle cx="1186.74" cy="1521.57" r="3" fill="#e6a2d6" stroke="#1e0f10" stroke-width="1.25"/>
<circle cx="1190.69" cy="1526.76" r="3" fill="#e6a2d6" stroke="#1e0f10" stroke-width="1.25"/>
<circle cx="1189.39" cy="1528.74" r="3" fill="#e6a2d6" stroke="#1e0f10" stroke-width="1.25"/>
<circle cx="1191.43" cy="1530.86" r="3" fill="#e6a2d6" stroke="#1e0f10" stroke-width="1.25"/>
<circle cx="1188.55" cy="1533.64" r="3" fill="#e6a2d6" stroke="#1e0f10" stroke-width="1.25"/>
<circle cx="1194.87" cy="1536.16" r="3" fill="#e6a2d6" stroke="#1e0f10" stroke-width="1.25"/>
<circle cx="1194.14" cy="1538.33" r="3" fill="#e6a2d6" stroke="#1e0f10" stroke-width="1.25"/>
<circle cx="1187.91" cy="1540.44" r="3" fill="#e6a2d6" stroke="#1e0f10" stroke-width="1.25"/>
<circle cx="1194.88" cy="1543.23" r="3" fill="#e6a2d6" stroke="#1e0f10" stroke-width="1.25"/>
<circle cx="1188.61" cy="1544.89" r="3" fill="#e6a2d6" stroke="#1e0f10" stroke-width="1.25"/>
<line x1="1229.82" y1="1087.04" x2="1229.82" y2="1101.06" stroke="#6e6e6e" stroke-width="3"/>
<line x1="1229.82" y1="1138.9" x2="1229.82" y2="1181.88" stroke="#6e6e6e" stroke-width="3"/>
<rect x="1216.92" y="1101.06" width="25.8" height="37.84" fill="#f29d74"/>
<line x1="1215.92" y1="1113.2" x2="1243.72" y2="1113.2" stroke="#111" stroke-width="2.6"/>
<circle cx="1229.8" cy="1087.22" r="3" fill="#f19f80" stroke="#1e0f10" stroke-width="1.25"/>
<circle cx="1229.05" cy="1088.67" r="3" fill="#f19f80" stroke="#1e0f10" stroke-width="1.25"/>
<circle cx="1231.43" cy="1091.2" r="3" fill="#f19f80" stroke="#1e0f10" stroke-width="1.25"/>
<circle cx="1227.2" cy="1092.18" r="3" fill="#f19f80" stroke="#1e0f10" stroke-width="1.25"/>
<circle cx="1228.27" cy="1094.44" r="3" fill="#f19f80" stroke="#1e0f10" stroke-width="1.25"/>
<circle cx="1231.57" cy="1096.08" r="3" fill="#f19f80" stroke="#1e0f10" stroke-width="1.25"/>
<circle cx="1232.67" cy="1098.49" r="3" fill="#f19f80" stroke="#1e0f10" stroke-width="1.25"/>
<circle cx="1229.87" cy="1099.83" r="3" fill="#f19f80" stroke="#1e0f10" stroke-width="1.25"/>
<circle cx="1234.33" cy="1101.8" r="3" fill="#f19f80" stroke="#1e0f10" stroke-width="1.25"/>
<circle cx="1232.89" cy="1103.59" r="3" fill="#f19f80" stroke="#1e0f10" stroke-width="1.25"/>
<circle cx="1227.15" cy="1105.99" r="3" fill="#f19f80" stroke="#1e0f10" stroke-width="1.25"/>
<circle cx="1227.85" cy="1108.05" r="3" fill="#f19f80" stroke="#1e0f10" stroke-width="1.25"/>
<circle cx="1229.78" cy="1109.15" r="3" fill="#f19f80" stroke="#1e0f10" stroke-width="1.25"/>
<circle cx="1227.16" cy="1111.25" r="3" fill="#f19f80" stroke="#1e0f10" stroke-width="1.25"/>
<circle cx="1231.41" cy="1113.65" r="3" fill="#f19f80" stroke="#1e0f10" stroke-width="1.25"/>
<circle cx="1226.43" cy="1115.43" r="3" fill="#f19f80" stroke="#1e0f10" stroke-width="1.25"/>
<circle cx="1227.06" cy="1118.35" r="3" fill="#f19f80" stroke="#1e0f10" stroke-width="1.25"/>
<circle cx="1226.38" cy="1119.76" r="3" fill="#f19f80" stroke="#1e0f10" stroke-width="1.25"/>
<circle cx="1225.6" cy="1122.44" r="3" fill="#f19f80" stroke="#1e0f10" stroke-width="1.25"/>
<circle cx="1233.64" cy="1125.73" r="3" fill="#f19f80" stroke="#1e0f10" stroke-width="1.25"/>
<circle cx="1232.05" cy="1128.65" r="3" fill="#f19f80" stroke="#1e0f10" stroke-width="1.25"/>
<circle cx="1233.96" cy="1130.79" r="3" fill="#f19f80" stroke="#1e0f10" stroke-width="1.25"/>
<circle cx="1226.8" cy="1134.2" r="3" fill="#f19f80" stroke="#1e0f10" stroke-width="1.25"/>
<circle cx="1232.18" cy="1136.1" r="3" fill="#f19f80" stroke="#1e0f10" stroke-width="1.25"/>
<circle cx="1231.4" cy="1139.71" r="3" fill="#f19f80" stroke="#1e0f10" stroke-width="1.25"/>
<circle cx="1228.61" cy="1143.4" r="3" fill="#f19f80" stroke="#1e0f10" stroke-width="1.25"/>
<circle cx="1226.64" cy="1147.75" r="3" fill="#f19f80" stroke="#1e0f10" stroke-width="1.25"/>
<circle cx="1227.71" cy="1152.77" r="3" fill="#f19f80" stroke="#1e0f10" stroke-width="1.25"/>
<circle cx="1234.19" cy="1157.21" r="3" fill="#f19f80" stroke="#1e0f10" stroke-width="1.25"/>
<circle cx="1234.28" cy="1164.3" r="3" fill="#f19f80" stroke="#1e0f10" stroke-width="1.25"/>
<circle cx="1228.44" cy="1171.93" r="3" fill="#f19f80" stroke="#1e0f10" stroke-width="1.25"/>
<circle cx="1232.91" cy="1176.21" r="3" fill="#f19f80" stroke="#1e0f10" stroke-width="1.25"/>
<circle cx="1225.49" cy="1178.59" r="3" fill="#f19f80" stroke="#1e0f10" stroke-width="1.25"/>
<circle cx="1228.6" cy="1181.37" r="3" fill="#f19f80" stroke="#1e0f10" stroke-width="1.25"/>
<circle cx="1226.87" cy="1190.16" r="3" fill="#f19f80" stroke="#1e0f10" stroke-width="1.25"/>
<circle cx="1233.63" cy="1203.84" r="3" fill="#f19f80" stroke="#1e0f10" stroke-width="1.25"/>
<line x1="1255.62" y1="1099.19" x2="1255.62" y2="1112.27" stroke="#6e6e6e" stroke-width="3"/>
<line x1="1255.62" y1="1173.47" x2="1255.62" y2="1228.6" stroke="#6e6e6e" stroke-width="3"/>
<rect x="1242.72" y="1112.27" width="25.8" height="61.2" fill="#d991c9"/>
<line x1="1241.72" y1="1137.03" x2="1269.52" y2="1137.03" stroke="#111" stroke-width="2.6"/>
<circle cx="1254.76" cy="1099.5" r="3" fill="#e6a2d6" stroke="#1e0f10" stroke-width="1.25"/>
<circle cx="1258.18" cy="1103.4" r="3" fill="#e6a2d6" stroke="#1e0f10" stroke-width="1.25"/>
<circle cx="1251.15" cy="1108.09" r="3" fill="#e6a2d6" stroke="#1e0f10" stroke-width="1.25"/>
<circle cx="1259.65" cy="1110.63" r="3" fill="#e6a2d6" stroke="#1e0f10" stroke-width="1.25"/>
<circle cx="1257.99" cy="1113.6" r="3" fill="#e6a2d6" stroke="#1e0f10" stroke-width="1.25"/>
<circle cx="1254.08" cy="1122.32" r="3" fill="#e6a2d6" stroke="#1e0f10" stroke-width="1.25"/>
<circle cx="1260.01" cy="1127.34" r="3" fill="#e6a2d6" stroke="#1e0f10" stroke-width="1.25"/>
<circle cx="1253.34" cy="1132.11" r="3" fill="#e6a2d6" stroke="#1e0f10" stroke-width="1.25"/>
<circle cx="1253.86" cy="1136.34" r="3" fill="#e6a2d6" stroke="#1e0f10" stroke-width="1.25"/>
<circle cx="1250.86" cy="1146.16" r="3" fill="#e6a2d6" stroke="#1e0f10" stroke-width="1.25"/>
<circle cx="1259.62" cy="1150.71" r="3" fill="#e6a2d6" stroke="#1e0f10" stroke-width="1.25"/>
<circle cx="1259.88" cy="1159.45" r="3" fill="#e6a2d6" stroke="#1e0f10" stroke-width="1.25"/>
<circle cx="1253.07" cy="1164.57" r="3" fill="#e6a2d6" stroke="#1e0f10" stroke-width="1.25"/>
<circle cx="1260.01" cy="1169.72" r="3" fill="#e6a2d6" stroke="#1e0f10" stroke-width="1.25"/>
<circle cx="1254.53" cy="1172.76" r="3" fill="#e6a2d6" stroke="#1e0f10" stroke-width="1.25"/>
<circle cx="1254.95" cy="1176.27" r="3" fill="#e6a2d6" stroke="#1e0f10" stroke-width="1.25"/>
<circle cx="1259.73" cy="1227.35" r="3" fill="#e6a2d6" stroke="#1e0f10" stroke-width="1.25"/>
<circle cx="1258.52" cy="1265.28" r="3" fill="#e6a2d6" stroke="#1e0f10" stroke-width="1.25"/>
<circle cx="1258.72" cy="1403.14" r="3" fill="#e6a2d6" stroke="#1e0f10" stroke-width="1.25"/>
<line x1="1294.98" y1="1423.89" x2="1294.98" y2="1488.83" stroke="#6e6e6e" stroke-width="3"/>
<line x1="1294.98" y1="1527.61" x2="1294.98" y2="1543.03" stroke="#6e6e6e" stroke-width="3"/>
<rect x="1282.08" y="1488.83" width="25.8" height="38.78" fill="#f29d74"/>
<line x1="1281.08" y1="1515" x2="1308.88" y2="1515" stroke="#111" stroke-width="2.6"/>
<circle cx="1296.01" cy="1423.72" r="3" fill="#f19f80" stroke="#1e0f10" stroke-width="1.25"/>
<circle cx="1293.25" cy="1437.77" r="3" fill="#f19f80" stroke="#1e0f10" stroke-width="1.25"/>
<circle cx="1297.69" cy="1446.83" r="3" fill="#f19f80" stroke="#1e0f10" stroke-width="1.25"/>
<circle cx="1292.07" cy="1452.18" r="3" fill="#f19f80" stroke="#1e0f10" stroke-width="1.25"/>
<circle cx="1292.55" cy="1453.82" r="3" fill="#f19f80" stroke="#1e0f10" stroke-width="1.25"/>
<circle cx="1290.51" cy="1458.98" r="3" fill="#f19f80" stroke="#1e0f10" stroke-width="1.25"/>
<circle cx="1293.31" cy="1468.76" r="3" fill="#f19f80" stroke="#1e0f10" stroke-width="1.25"/>
<circle cx="1298.66" cy="1478.11" r="3" fill="#f19f80" stroke="#1e0f10" stroke-width="1.25"/>
<circle cx="1292.72" cy="1481.88" r="3" fill="#f19f80" stroke="#1e0f10" stroke-width="1.25"/>
<circle cx="1291.11" cy="1486.96" r="3" fill="#f19f80" stroke="#1e0f10" stroke-width="1.25"/>
<circle cx="1296.99" cy="1489.25" r="3" fill="#f19f80" stroke="#1e0f10" stroke-width="1.25"/>
<circle cx="1292.43" cy="1491.55" r="3" fill="#f19f80" stroke="#1e0f10" stroke-width="1.25"/>
<circle cx="1296.13" cy="1494.15" r="3" fill="#f19f80" stroke="#1e0f10" stroke-width="1.25"/>
<circle cx="1297.36" cy="1496.65" r="3" fill="#f19f80" stroke="#1e0f10" stroke-width="1.25"/>
<circle cx="1296.56" cy="1498.27" r="3" fill="#f19f80" stroke="#1e0f10" stroke-width="1.25"/>
<circle cx="1298.25" cy="1500.77" r="3" fill="#f19f80" stroke="#1e0f10" stroke-width="1.25"/>
<circle cx="1295.62" cy="1503.19" r="3" fill="#f19f80" stroke="#1e0f10" stroke-width="1.25"/>
<circle cx="1297.27" cy="1505.35" r="3" fill="#f19f80" stroke="#1e0f10" stroke-width="1.25"/>
<circle cx="1292.56" cy="1507.27" r="3" fill="#f19f80" stroke="#1e0f10" stroke-width="1.25"/>
<circle cx="1291.65" cy="1509.77" r="3" fill="#f19f80" stroke="#1e0f10" stroke-width="1.25"/>
<circle cx="1295.73" cy="1511.08" r="3" fill="#f19f80" stroke="#1e0f10" stroke-width="1.25"/>
<circle cx="1293.98" cy="1513.62" r="3" fill="#f19f80" stroke="#1e0f10" stroke-width="1.25"/>
<circle cx="1295.05" cy="1514.73" r="3" fill="#f19f80" stroke="#1e0f10" stroke-width="1.25"/>
<circle cx="1297.94" cy="1517.02" r="3" fill="#f19f80" stroke="#1e0f10" stroke-width="1.25"/>
<circle cx="1299.69" cy="1518.34" r="3" fill="#f19f80" stroke="#1e0f10" stroke-width="1.25"/>
<circle cx="1294.74" cy="1520.92" r="3" fill="#f19f80" stroke="#1e0f10" stroke-width="1.25"/>
<circle cx="1298.25" cy="1522.89" r="3" fill="#f19f80" stroke="#1e0f10" stroke-width="1.25"/>
<circle cx="1290.57" cy="1524.13" r="3" fill="#f19f80" stroke="#1e0f10" stroke-width="1.25"/>
<circle cx="1291.32" cy="1525.9" r="3" fill="#f19f80" stroke="#1e0f10" stroke-width="1.25"/>
<circle cx="1299.52" cy="1528.16" r="3" fill="#f19f80" stroke="#1e0f10" stroke-width="1.25"/>
<circle cx="1299.11" cy="1529.82" r="3" fill="#f19f80" stroke="#1e0f10" stroke-width="1.25"/>
<circle cx="1298.49" cy="1531.76" r="3" fill="#f19f80" stroke="#1e0f10" stroke-width="1.25"/>
<circle cx="1292.68" cy="1533.96" r="3" fill="#f19f80" stroke="#1e0f10" stroke-width="1.25"/>
<circle cx="1299.26" cy="1535.16" r="3" fill="#f19f80" stroke="#1e0f10" stroke-width="1.25"/>
<circle cx="1295.9" cy="1537.54" r="3" fill="#f19f80" stroke="#1e0f10" stroke-width="1.25"/>
<circle cx="1292.27" cy="1539.16" r="3" fill="#f19f80" stroke="#1e0f10" stroke-width="1.25"/>
<circle cx="1291.54" cy="1540.4" r="3" fill="#f19f80" stroke="#1e0f10" stroke-width="1.25"/>
<line x1="1320.78" y1="1400.06" x2="1320.78" y2="1454.26" stroke="#6e6e6e" stroke-width="3"/>
<line x1="1320.78" y1="1515.46" x2="1320.78" y2="1529.01" stroke="#6e6e6e" stroke-width="3"/>
<rect x="1307.88" y="1454.26" width="25.8" height="61.2" fill="#d991c9"/>
<line x1="1306.88" y1="1490.7" x2="1334.68" y2="1490.7" stroke="#111" stroke-width="2.6"/>
<circle cx="1318.43" cy="1225.43" r="3" fill="#e6a2d6" stroke="#1e0f10" stroke-width="1.25"/>
<circle cx="1322.24" cy="1360.52" r="3" fill="#e6a2d6" stroke="#1e0f10" stroke-width="1.25"/>
<circle cx="1316.09" cy="1400.36" r="3" fill="#e6a2d6" stroke="#1e0f10" stroke-width="1.25"/>
<circle cx="1322.49" cy="1446.94" r="3" fill="#e6a2d6" stroke="#1e0f10" stroke-width="1.25"/>
<circle cx="1318.98" cy="1451.63" r="3" fill="#e6a2d6" stroke="#1e0f10" stroke-width="1.25"/>
<circle cx="1323.61" cy="1454.31" r="3" fill="#e6a2d6" stroke="#1e0f10" stroke-width="1.25"/>
<circle cx="1316.59" cy="1472.55" r="3" fill="#e6a2d6" stroke="#1e0f10" stroke-width="1.25"/>
<circle cx="1319.77" cy="1480.01" r="3" fill="#e6a2d6" stroke="#1e0f10" stroke-width="1.25"/>
<circle cx="1322.12" cy="1486.56" r="3" fill="#e6a2d6" stroke="#1e0f10" stroke-width="1.25"/>
<circle cx="1317.55" cy="1491.83" r="3" fill="#e6a2d6" stroke="#1e0f10" stroke-width="1.25"/>
<circle cx="1319.91" cy="1496.09" r="3" fill="#e6a2d6" stroke="#1e0f10" stroke-width="1.25"/>
<circle cx="1318.93" cy="1503.77" r="3" fill="#e6a2d6" stroke="#1e0f10" stroke-width="1.25"/>
<circle cx="1318.98" cy="1515.06" r="3" fill="#e6a2d6" stroke="#1e0f10" stroke-width="1.25"/>
<circle cx="1319.41" cy="1517.25" r="3" fill="#e6a2d6" stroke="#1e0f10" stroke-width="1.25"/>
<circle cx="1324.28" cy="1522.5" r="3" fill="#e6a2d6" stroke="#1e0f10" stroke-width="1.25"/>
<circle cx="1319.47" cy="1526.37" r="3" fill="#e6a2d6" stroke="#1e0f10" stroke-width="1.25"/>
<circle cx="1322.97" cy="1528.72" r="3" fill="#e6a2d6" stroke="#1e0f10" stroke-width="1.25"/>
<text x="980.8" y="1467.4" font-size="16" text-anchor="middle" textLength="48" lengthAdjust="spacing">0.0111</text>
<line x1="968.2" y1="1474.4" x2="995.8" y2="1474.4" stroke="#333" stroke-width="2.6"/>
<text x="1113.5" y="1357.5" font-size="16" text-anchor="middle" textLength="58.5" lengthAdjust="spacing">0.00002</text>
<line x1="1098.1" y1="1362.5" x2="1126.7" y2="1362.5" stroke="#333" stroke-width="2.6"/>
<rect x="741.35" y="1057.25" width="611.7" height="513.75" fill="none" stroke="#000" stroke-width="3.5"/>
<line x1="731" y1="1547.7" x2="740" y2="1547.7" stroke="#000" stroke-width="2.6"/>
<text x="723.8" y="1557.5" font-size="28" text-anchor="end" textLength="15.57" lengthAdjust="spacing">0</text>
<line x1="731" y1="1454.26" x2="740" y2="1454.26" stroke="#000" stroke-width="2.6"/>
<text x="723.8" y="1464.06" font-size="28" text-anchor="end" textLength="31.74" lengthAdjust="spacing">20</text>
<line x1="731" y1="1360.82" x2="740" y2="1360.82" stroke="#000" stroke-width="2.6"/>
<text x="723.8" y="1370.62" font-size="28" text-anchor="end" textLength="31.74" lengthAdjust="spacing">40</text>
<line x1="731" y1="1267.38" x2="740" y2="1267.38" stroke="#000" stroke-width="2.6"/>
<text x="723.8" y="1277.18" font-size="28" text-anchor="end" textLength="31.74" lengthAdjust="spacing">60</text>
<line x1="731" y1="1173.94" x2="740" y2="1173.94" stroke="#000" stroke-width="2.6"/>
<text x="723.8" y="1183.74" font-size="28" text-anchor="end" textLength="31.74" lengthAdjust="spacing">80</text>
<line x1="731" y1="1080.5" x2="740" y2="1080.5" stroke="#000" stroke-width="2.6"/>
<text x="723.8" y="1090.3" font-size="28" text-anchor="end" textLength="47.92" lengthAdjust="spacing">100</text>
<line x1="786.6" y1="1572.5" x2="786.6" y2="1580.5" stroke="#000" stroke-width="3"/>
<text x="793.6" y="1596" font-size="27.5" text-anchor="end" transform="rotate(-45 793.6 1596)" textLength="250.8" lengthAdjust="spacing">CD4+&#160;&#160;naive&#160;T&#160;cells</text>
<line x1="851.76" y1="1572.5" x2="851.76" y2="1580.5" stroke="#000" stroke-width="3"/>
<text x="858.76" y="1596" font-size="27.5" text-anchor="end" transform="rotate(-45 858.76 1596)" textLength="215.86" lengthAdjust="spacing">CD8+&#160;EM&#160;T&#160;cells</text>
<line x1="916.92" y1="1572.5" x2="916.92" y2="1580.5" stroke="#000" stroke-width="3"/>
<text x="923.92" y="1596" font-size="27.5" text-anchor="end" transform="rotate(-45 923.92 1596)" textLength="250.8" lengthAdjust="spacing">CD8+&#160;&#160;naive&#160;T&#160;cells</text>
<line x1="982.08" y1="1572.5" x2="982.08" y2="1580.5" stroke="#000" stroke-width="3"/>
<text x="989.08" y="1596" font-size="27.5" text-anchor="end" transform="rotate(-45 989.08 1596)" textLength="72.07" lengthAdjust="spacing">Tregs</text>
<line x1="1047.24" y1="1572.5" x2="1047.24" y2="1580.5" stroke="#000" stroke-width="3"/>
<text x="1054.24" y="1596" font-size="27.5" text-anchor="end" transform="rotate(-45 1054.24 1596)" textLength="257.13" lengthAdjust="spacing">classical&#160;monocytes</text>
<line x1="1112.4" y1="1572.5" x2="1112.4" y2="1580.5" stroke="#000" stroke-width="3"/>
<text x="1119.4" y="1596" font-size="27.5" text-anchor="end" transform="rotate(-45 1119.4 1596)" textLength="314.97" lengthAdjust="spacing">non-classical&#160;monocytes</text>
<line x1="1177.56" y1="1572.5" x2="1177.56" y2="1580.5" stroke="#000" stroke-width="3"/>
<text x="1184.56" y="1596" font-size="27.5" text-anchor="end" transform="rotate(-45 1184.56 1596)" textLength="306.65" lengthAdjust="spacing">intermediate&#160;monocytes</text>
<line x1="1242.72" y1="1572.5" x2="1242.72" y2="1580.5" stroke="#000" stroke-width="3"/>
<text x="1249.72" y="1596" font-size="27.5" text-anchor="end" transform="rotate(-45 1249.72 1596)" textLength="227.38" lengthAdjust="spacing">cytotoxic&#160;NK&#160;cells</text>
<line x1="1307.88" y1="1572.5" x2="1307.88" y2="1580.5" stroke="#000" stroke-width="3"/>
<text x="1314.88" y="1596" font-size="27.5" text-anchor="end" transform="rotate(-45 1314.88 1596)" textLength="228.95" lengthAdjust="spacing">signaling&#160;NK&#160;cells</text>
<text x="671" y="1042.3" font-size="28" text-anchor="end" transform="rotate(-90 671 1042.3)" textLength="601" lengthAdjust="spacing">Fraction of cells relative to major cell type (%)</text>
<circle cx="1409.5" cy="1086" r="9.8" fill="#f19f80" stroke="#2a1a1a" stroke-width="1"/>
<circle cx="1409.5" cy="1122" r="9.8" fill="#e6a2d6" stroke="#2a1a1a" stroke-width="1"/>
<text x="1428.5" y="1094.9" font-size="28">D</text>
<text x="1428.5" y="1131.2" font-size="28" textLength="56" lengthAdjust="spacing">SDp</text>
<text x="3.5" y="1870.6" font-size="28" font-weight="bold">e</text>
<circle cx="156.72" cy="1903.67" r="5.2" fill="#66c2a5" stroke="#ffffff" stroke-width="0.6"/>
<circle cx="156.72" cy="2053.35" r="5.2" fill="#66c2a5" stroke="#ffffff" stroke-width="0.6"/>
<circle cx="156.72" cy="2124.66" r="5.2" fill="#66c2a5" stroke="#ffffff" stroke-width="0.6"/>
<circle cx="156.72" cy="2222.61" r="5.2" fill="#66c2a5" stroke="#ffffff" stroke-width="0.6"/>
<circle cx="156.72" cy="1979.58" r="5.2" fill="#e78ac3" stroke="#ffffff" stroke-width="0.6"/>
<circle cx="238.14" cy="1922.64" r="5.2" fill="#e78ac3" stroke="#ffffff" stroke-width="0.6"/>
<circle cx="250.38" cy="1926.93" r="5.2" fill="#e78ac3" stroke="#ffffff" stroke-width="0.6"/>
<circle cx="280.99" cy="1940.09" r="5.2" fill="#e78ac3" stroke="#ffffff" stroke-width="0.6"/>
<circle cx="267.22" cy="1961.52" r="5.2" fill="#e78ac3" stroke="#ffffff" stroke-width="0.6"/>
<circle cx="338.23" cy="1981.72" r="5.2" fill="#e78ac3" stroke="#ffffff" stroke-width="0.6"/>
<circle cx="156.72" cy="1934.89" r="5.2" fill="#fc8d62" stroke="#ffffff" stroke-width="0.6"/>
<circle cx="156.72" cy="1952.64" r="5.2" fill="#fc8d62" stroke="#ffffff" stroke-width="0.6"/>
<circle cx="156.72" cy="2111.81" r="5.2" fill="#fc8d62" stroke="#ffffff" stroke-width="0.6"/>
<circle cx="305.17" cy="1945.6" r="5.2" fill="#fc8d62" stroke="#ffffff" stroke-width="0.6"/>
<circle cx="243.95" cy="2127.11" r="5.2" fill="#fc8d62" stroke="#ffffff" stroke-width="0.6"/>
<circle cx="384.14" cy="2012.94" r="5.2" fill="#fc8d62" stroke="#ffffff" stroke-width="0.6"/>
<circle cx="392.72" cy="2043.24" r="5.2" fill="#fc8d62" stroke="#ffffff" stroke-width="0.6"/>
<circle cx="423.32" cy="2034.06" r="5.2" fill="#fc8d62" stroke="#ffffff" stroke-width="0.6"/>
<circle cx="379.55" cy="2139.36" r="5.2" fill="#fc8d62" stroke="#ffffff" stroke-width="0.6"/>
<circle cx="428.53" cy="2167.52" r="5.2" fill="#fc8d62" stroke="#ffffff" stroke-width="0.6"/>
<circle cx="459.75" cy="2109.36" r="5.2" fill="#fc8d62" stroke="#ffffff" stroke-width="0.6"/>
<rect x="148.4" y="1888" width="359.9" height="350.9" fill="none" stroke="#000" stroke-width="2.4"/>
<line x1="144.2" y1="1903.4" x2="148.4" y2="1903.4" stroke="#000" stroke-width="2.3"/>
<text x="136.9" y="1913.2" font-size="28" text-anchor="end" textLength="47.72" lengthAdjust="spacing">100</text>
<line x1="144.2" y1="1974.8" x2="148.4" y2="1974.8" stroke="#000" stroke-width="2.3"/>
<text x="136.9" y="1984.6" font-size="28" text-anchor="end" textLength="31.64" lengthAdjust="spacing">80</text>
<line x1="144.2" y1="2046.2" x2="148.4" y2="2046.2" stroke="#000" stroke-width="2.3"/>
<text x="136.9" y="2056" font-size="28" text-anchor="end" textLength="31.64" lengthAdjust="spacing">60</text>
<line x1="144.2" y1="2117.6" x2="148.4" y2="2117.6" stroke="#000" stroke-width="2.3"/>
<text x="136.9" y="2127.4" font-size="28" text-anchor="end" textLength="31.64" lengthAdjust="spacing">40</text>
<line x1="144.2" y1="2189" x2="148.4" y2="2189" stroke="#000" stroke-width="2.3"/>
<text x="136.9" y="2198.8" font-size="28" text-anchor="end" textLength="31.64" lengthAdjust="spacing">20</text>
<line x1="156.7" y1="2238.9" x2="156.7" y2="2243.4" stroke="#000" stroke-width="2.2"/>
<text x="155.2" y="2269.7" font-size="27.5" text-anchor="middle">0</text>
<line x1="273.3" y1="2238.9" x2="273.3" y2="2243.4" stroke="#000" stroke-width="2.2"/>
<text x="256.56" y="2269.7" font-size="27.5">10</text>
<text x="287.45" y="2261.1" font-size="16">4</text>
<line x1="390.3" y1="2238.9" x2="390.3" y2="2243.4" stroke="#000" stroke-width="2.2"/>
<text x="373.56" y="2269.7" font-size="27.5">10</text>
<text x="404.45" y="2261.1" font-size="16">8</text>
<line x1="507.5" y1="2238.9" x2="507.5" y2="2243.4" stroke="#000" stroke-width="2.2"/>
<text x="481.81" y="2269.7" font-size="27.5">10</text>
<text x="512.7" y="2261.1" font-size="16">12</text>
<text x="196.9" y="1874" font-size="26.2" textLength="261.7" lengthAdjust="spacing">classical monocytes</text>
<text x="80.5" y="2190.5" font-size="27.5" transform="rotate(-90 80.5 2190.5)" textLength="258.7" lengthAdjust="spacing">Fraction of cells (%)</text>
<text x="174" y="2316.7" font-size="26.2" textLength="284.6" lengthAdjust="spacing">viral load/million reads</text>
<text x="157.1" y="2356.2" font-size="27.5" textLength="324.5" lengthAdjust="spacing">ρ = -0.249&#160; p-value = 0.265</text>
<circle cx="668.24" cy="2095.31" r="5.2" fill="#66c2a5" stroke="#ffffff" stroke-width="0.6"/>
<circle cx="668.24" cy="2202.62" r="5.2" fill="#66c2a5" stroke="#ffffff" stroke-width="0.6"/>
<circle cx="668.24" cy="2221.78" r="5.2" fill="#66c2a5" stroke="#ffffff" stroke-width="0.6"/>
<circle cx="668.24" cy="2122.13" r="5.2" fill="#e78ac3" stroke="#ffffff" stroke-width="0.6"/>
<circle cx="668.24" cy="2141.3" r="5.2" fill="#e78ac3" stroke="#ffffff" stroke-width="0.6"/>
<circle cx="749.91" cy="2079.68" r="5.2" fill="#e78ac3" stroke="#ffffff" stroke-width="0.6"/>
<circle cx="761.99" cy="2109.16" r="5.2" fill="#e78ac3" stroke="#ffffff" stroke-width="0.6"/>
<circle cx="792.65" cy="2114.76" r="5.2" fill="#e78ac3" stroke="#ffffff" stroke-width="0.6"/>
<circle cx="778.8" cy="2135.4" r="5.2" fill="#e78ac3" stroke="#ffffff" stroke-width="0.6"/>
<circle cx="850.14" cy="2125.97" r="5.2" fill="#e78ac3" stroke="#ffffff" stroke-width="0.6"/>
<circle cx="816.53" cy="1905.45" r="5.2" fill="#fc8d62" stroke="#ffffff" stroke-width="0.6"/>
<circle cx="755.8" cy="2064.06" r="5.2" fill="#fc8d62" stroke="#ffffff" stroke-width="0.6"/>
<circle cx="896.13" cy="2150.14" r="5.2" fill="#fc8d62" stroke="#ffffff" stroke-width="0.6"/>
<circle cx="935.05" cy="2130.68" r="5.2" fill="#fc8d62" stroke="#ffffff" stroke-width="0.6"/>
<circle cx="940.06" cy="2180.51" r="5.2" fill="#fc8d62" stroke="#ffffff" stroke-width="0.6"/>
<circle cx="904.98" cy="2214.41" r="5.2" fill="#fc8d62" stroke="#ffffff" stroke-width="0.6"/>
<circle cx="971.31" cy="2222.08" r="5.2" fill="#fc8d62" stroke="#ffffff" stroke-width="0.6"/>
<circle cx="668.24" cy="2169.6" r="5.2" fill="#fc8d62" stroke="#ffffff" stroke-width="0.6"/>
<circle cx="668.24" cy="2188.47" r="5.2" fill="#fc8d62" stroke="#ffffff" stroke-width="0.6"/>
<rect x="659.9" y="1889.9" width="359.9" height="350.8" fill="none" stroke="#000" stroke-width="2.4"/>
<line x1="655.7" y1="1890.1" x2="659.9" y2="1890.1" stroke="#000" stroke-width="2.3"/>
<text x="649.5" y="1899.9" font-size="28" text-anchor="end" textLength="31.64" lengthAdjust="spacing">30</text>
<line x1="655.7" y1="1949.96" x2="659.9" y2="1949.96" stroke="#000" stroke-width="2.3"/>
<text x="649.5" y="1959.76" font-size="28" text-anchor="end" textLength="31.64" lengthAdjust="spacing">25</text>
<line x1="655.7" y1="2009.82" x2="659.9" y2="2009.82" stroke="#000" stroke-width="2.3"/>
<text x="649.5" y="2019.62" font-size="28" text-anchor="end" textLength="31.64" lengthAdjust="spacing">20</text>
<line x1="655.7" y1="2069.68" x2="659.9" y2="2069.68" stroke="#000" stroke-width="2.3"/>
<text x="649.5" y="2079.48" font-size="28" text-anchor="end" textLength="31.64" lengthAdjust="spacing">15</text>
<line x1="655.7" y1="2129.54" x2="659.9" y2="2129.54" stroke="#000" stroke-width="2.3"/>
<text x="649.5" y="2139.34" font-size="28" text-anchor="end" textLength="31.64" lengthAdjust="spacing">10</text>
<line x1="655.7" y1="2189.4" x2="659.9" y2="2189.4" stroke="#000" stroke-width="2.3"/>
<text x="649.5" y="2199.2" font-size="28" text-anchor="end" textLength="15.57" lengthAdjust="spacing">5</text>
<line x1="668.2" y1="2240.7" x2="668.2" y2="2245.2" stroke="#000" stroke-width="2.2"/>
<text x="666.7" y="2269.7" font-size="27.5" text-anchor="middle">0</text>
<line x1="785.3" y1="2240.7" x2="785.3" y2="2245.2" stroke="#000" stroke-width="2.2"/>
<text x="768.56" y="2269.7" font-size="27.5">10</text>
<text x="799.45" y="2261.1" font-size="16">4</text>
<line x1="902" y1="2240.7" x2="902" y2="2245.2" stroke="#000" stroke-width="2.2"/>
<text x="885.26" y="2269.7" font-size="27.5">10</text>
<text x="916.15" y="2261.1" font-size="16">8</text>
<line x1="1018.2" y1="2240.7" x2="1018.2" y2="2245.2" stroke="#000" stroke-width="2.2"/>
<text x="992.51" y="2269.7" font-size="27.5">10</text>
<text x="1023.4" y="2261.1" font-size="16">12</text>
<text x="730.5" y="1877.9" font-size="26.2" textLength="228.5" lengthAdjust="spacing">signaling NK cells</text>
<text x="599" y="2195" font-size="27.5" transform="rotate(-90 599 2195)" textLength="260.7" lengthAdjust="spacing">Fraction of cells (%)</text>
<text x="678.9" y="2316.7" font-size="26.2" textLength="284.3" lengthAdjust="spacing">viral load/million reads</text>
<text x="669.2" y="2356.2" font-size="27.5" textLength="315.5" lengthAdjust="spacing">ρ = 0.020&#160; p-value = 0.928</text>
<circle cx="1160.28" cy="2080.27" r="5.2" fill="#66c2a5" stroke="#ffffff" stroke-width="0.6"/>
<circle cx="1160.28" cy="2146.6" r="5.2" fill="#66c2a5" stroke="#ffffff" stroke-width="0.6"/>
<circle cx="1160.28" cy="2225.32" r="5.2" fill="#66c2a5" stroke="#ffffff" stroke-width="0.6"/>
<circle cx="1160.28" cy="2008.93" r="5.2" fill="#e78ac3" stroke="#ffffff" stroke-width="0.6"/>
<circle cx="1160.28" cy="2044.01" r="5.2" fill="#e78ac3" stroke="#ffffff" stroke-width="0.6"/>
<circle cx="1253.74" cy="2002.74" r="5.2" fill="#e78ac3" stroke="#ffffff" stroke-width="0.6"/>
<circle cx="1270.54" cy="2027.79" r="5.2" fill="#e78ac3" stroke="#ffffff" stroke-width="0.6"/>
<circle cx="1284.1" cy="1906.92" r="5.2" fill="#e78ac3" stroke="#ffffff" stroke-width="0.6"/>
<circle cx="1341.3" cy="2035.75" r="5.2" fill="#e78ac3" stroke="#ffffff" stroke-width="0.6"/>
<circle cx="1241.95" cy="2148.96" r="5.2" fill="#e78ac3" stroke="#ffffff" stroke-width="0.6"/>
<circle cx="1160.28" cy="2109.75" r="5.2" fill="#fc8d62" stroke="#ffffff" stroke-width="0.6"/>
<circle cx="1160.28" cy="2126.56" r="5.2" fill="#fc8d62" stroke="#ffffff" stroke-width="0.6"/>
<circle cx="1160.28" cy="2205.57" r="5.2" fill="#fc8d62" stroke="#ffffff" stroke-width="0.6"/>
<circle cx="1247.25" cy="2072.61" r="5.2" fill="#fc8d62" stroke="#ffffff" stroke-width="0.6"/>
<circle cx="1308.28" cy="2119.19" r="5.2" fill="#fc8d62" stroke="#ffffff" stroke-width="0.6"/>
<circle cx="1382.57" cy="2091.18" r="5.2" fill="#fc8d62" stroke="#ffffff" stroke-width="0.6"/>
<circle cx="1396.13" cy="2083.81" r="5.2" fill="#fc8d62" stroke="#ffffff" stroke-width="0.6"/>
<circle cx="1387.88" cy="2114.76" r="5.2" fill="#fc8d62" stroke="#ffffff" stroke-width="0.6"/>
<circle cx="1427.09" cy="2008.04" r="5.2" fill="#fc8d62" stroke="#ffffff" stroke-width="0.6"/>
<circle cx="1431.51" cy="2086.76" r="5.2" fill="#fc8d62" stroke="#ffffff" stroke-width="0.6"/>
<circle cx="1463.05" cy="2055.51" r="5.2" fill="#fc8d62" stroke="#ffffff" stroke-width="0.6"/>
<rect x="1151.5" y="1890.5" width="360.1" height="350.8" fill="none" stroke="#000" stroke-width="2.4"/>
<line x1="1147.3" y1="1930.5" x2="1151.5" y2="1930.5" stroke="#000" stroke-width="2.3"/>
<text x="1140.3" y="1940.3" font-size="28" text-anchor="end" textLength="31.64" lengthAdjust="spacing">50</text>
<line x1="1147.3" y1="1989.46" x2="1151.5" y2="1989.46" stroke="#000" stroke-width="2.3"/>
<text x="1140.3" y="1999.26" font-size="28" text-anchor="end" textLength="31.64" lengthAdjust="spacing">40</text>
<line x1="1147.3" y1="2048.42" x2="1151.5" y2="2048.42" stroke="#000" stroke-width="2.3"/>
<text x="1140.3" y="2058.22" font-size="28" text-anchor="end" textLength="31.64" lengthAdjust="spacing">30</text>
<line x1="1147.3" y1="2107.38" x2="1151.5" y2="2107.38" stroke="#000" stroke-width="2.3"/>
<text x="1140.3" y="2117.18" font-size="28" text-anchor="end" textLength="31.64" lengthAdjust="spacing">20</text>
<line x1="1147.3" y1="2166.34" x2="1151.5" y2="2166.34" stroke="#000" stroke-width="2.3"/>
<text x="1140.3" y="2176.14" font-size="28" text-anchor="end" textLength="31.64" lengthAdjust="spacing">10</text>
<line x1="1147.3" y1="2225.3" x2="1151.5" y2="2225.3" stroke="#000" stroke-width="2.3"/>
<text x="1140.3" y="2235.1" font-size="28" text-anchor="end" textLength="15.57" lengthAdjust="spacing">0</text>
<line x1="1160.3" y1="2241.3" x2="1160.3" y2="2245.8" stroke="#000" stroke-width="2.2"/>
<text x="1158.8" y="2269.7" font-size="27.5" text-anchor="middle">0</text>
<line x1="1277.3" y1="2241.3" x2="1277.3" y2="2245.8" stroke="#000" stroke-width="2.2"/>
<text x="1260.56" y="2269.7" font-size="27.5">10</text>
<text x="1291.45" y="2261.1" font-size="16">4</text>
<line x1="1393.8" y1="2241.3" x2="1393.8" y2="2245.8" stroke="#000" stroke-width="2.2"/>
<text x="1377.06" y="2269.7" font-size="27.5">10</text>
<text x="1407.95" y="2261.1" font-size="16">8</text>
<line x1="1510.2" y1="2241.3" x2="1510.2" y2="2245.8" stroke="#000" stroke-width="2.2"/>
<text x="1484.51" y="2269.7" font-size="27.5">10</text>
<text x="1515.4" y="2261.1" font-size="16">12</text>
<text x="1165.7" y="1877.7" font-size="26.2" textLength="326.3" lengthAdjust="spacing">proliferating plasmablasts</text>
<text x="1092.5" y="2195.2" font-size="27.5" transform="rotate(-90 1092.5 2195.2)" textLength="259.4" lengthAdjust="spacing">Fraction of cells (%)</text>
<text x="1173.6" y="2316.7" font-size="26.2" textLength="285.4" lengthAdjust="spacing">viral load/million reads</text>
<text x="1161.8" y="2356.2" font-size="27.5" textLength="316.4" lengthAdjust="spacing">ρ = 0.378&#160; p-value = 0.082</text>
<circle cx="1649.45" cy="2212.05" r="5.2" fill="#66c2a5" stroke="#ffffff" stroke-width="0.6"/>
<circle cx="1649.45" cy="2216.77" r="5.2" fill="#66c2a5" stroke="#ffffff" stroke-width="0.6"/>
<circle cx="1649.45" cy="2168.12" r="5.2" fill="#e78ac3" stroke="#ffffff" stroke-width="0.6"/>
<circle cx="1649.45" cy="2190.24" r="5.2" fill="#e78ac3" stroke="#ffffff" stroke-width="0.6"/>
<circle cx="1744.38" cy="1952.62" r="5.2" fill="#e78ac3" stroke="#ffffff" stroke-width="0.6"/>
<circle cx="1775.33" cy="1903.97" r="5.2" fill="#e78ac3" stroke="#ffffff" stroke-width="0.6"/>
<circle cx="1761.18" cy="2201.14" r="5.2" fill="#e78ac3" stroke="#ffffff" stroke-width="0.6"/>
<circle cx="1833.7" cy="2193.18" r="5.2" fill="#e78ac3" stroke="#ffffff" stroke-width="0.6"/>
<circle cx="1732.58" cy="2216.77" r="5.2" fill="#e78ac3" stroke="#ffffff" stroke-width="0.6"/>
<circle cx="1649.45" cy="2226.2" r="5.2" fill="#fc8d62" stroke="#ffffff" stroke-width="0.6"/>
<circle cx="1738.48" cy="2226.2" r="5.2" fill="#fc8d62" stroke="#ffffff" stroke-width="0.6"/>
<circle cx="1800.39" cy="2226.2" r="5.2" fill="#fc8d62" stroke="#ffffff" stroke-width="0.6"/>
<circle cx="1874.09" cy="2216.77" r="5.2" fill="#fc8d62" stroke="#ffffff" stroke-width="0.6"/>
<circle cx="1879.1" cy="2220.31" r="5.2" fill="#fc8d62" stroke="#ffffff" stroke-width="0.6"/>
<circle cx="1888.24" cy="2226.2" r="5.2" fill="#fc8d62" stroke="#ffffff" stroke-width="0.6"/>
<circle cx="1919.2" cy="2226.2" r="5.2" fill="#fc8d62" stroke="#ffffff" stroke-width="0.6"/>
<circle cx="1925.68" cy="2226.2" r="5.2" fill="#fc8d62" stroke="#ffffff" stroke-width="0.6"/>
<circle cx="1956.05" cy="2226.2" r="5.2" fill="#fc8d62" stroke="#ffffff" stroke-width="0.6"/>
<rect x="1640.6" y="1888.4" width="364.3" height="354.2" fill="none" stroke="#000" stroke-width="2.4"/>
<line x1="1636.4" y1="1904.3" x2="1640.6" y2="1904.3" stroke="#000" stroke-width="2.3"/>
<text x="1628.1" y="1914.1" font-size="28" text-anchor="end" textLength="15.57" lengthAdjust="spacing">6</text>
<line x1="1636.4" y1="1958.05" x2="1640.6" y2="1958.05" stroke="#000" stroke-width="2.3"/>
<text x="1628.1" y="1967.85" font-size="28" text-anchor="end" textLength="15.57" lengthAdjust="spacing">5</text>
<line x1="1636.4" y1="2011.8" x2="1640.6" y2="2011.8" stroke="#000" stroke-width="2.3"/>
<text x="1628.1" y="2021.6" font-size="28" text-anchor="end" textLength="15.57" lengthAdjust="spacing">4</text>
<line x1="1636.4" y1="2065.55" x2="1640.6" y2="2065.55" stroke="#000" stroke-width="2.3"/>
<text x="1628.1" y="2075.35" font-size="28" text-anchor="end" textLength="15.57" lengthAdjust="spacing">3</text>
<line x1="1636.4" y1="2119.3" x2="1640.6" y2="2119.3" stroke="#000" stroke-width="2.3"/>
<text x="1628.1" y="2129.1" font-size="28" text-anchor="end" textLength="15.57" lengthAdjust="spacing">2</text>
<line x1="1636.4" y1="2173.05" x2="1640.6" y2="2173.05" stroke="#000" stroke-width="2.3"/>
<text x="1628.1" y="2182.85" font-size="28" text-anchor="end" textLength="15.57" lengthAdjust="spacing">1</text>
<line x1="1636.4" y1="2226.8" x2="1640.6" y2="2226.8" stroke="#000" stroke-width="2.3"/>
<text x="1628.1" y="2236.6" font-size="28" text-anchor="end" textLength="15.57" lengthAdjust="spacing">0</text>
<line x1="1649.4" y1="2242.6" x2="1649.4" y2="2247.1" stroke="#000" stroke-width="2.2"/>
<text x="1647.9" y="2269.7" font-size="27.5" text-anchor="middle">0</text>
<line x1="1767.4" y1="2242.6" x2="1767.4" y2="2247.1" stroke="#000" stroke-width="2.2"/>
<text x="1750.66" y="2269.7" font-size="27.5">10</text>
<text x="1781.55" y="2261.1" font-size="16">4</text>
<line x1="1885.9" y1="2242.6" x2="1885.9" y2="2247.1" stroke="#000" stroke-width="2.2"/>
<text x="1869.16" y="2269.7" font-size="27.5">10</text>
<text x="1900.05" y="2261.1" font-size="16">8</text>
<line x1="2003.8" y1="2242.6" x2="2003.8" y2="2247.1" stroke="#000" stroke-width="2.2"/>
<text x="1978.11" y="2269.7" font-size="27.5">10</text>
<text x="2009" y="2261.1" font-size="16">12</text>
<text x="1791" y="1874.8" font-size="26.2" textLength="65.5" lengthAdjust="spacing">Tregs</text>
<text x="1595" y="2192" font-size="27.5" transform="rotate(-90 1595 2192)" textLength="259" lengthAdjust="spacing">Fraction of cells (%)</text>
<text x="1677" y="2316.7" font-size="26.2" textLength="282.7" lengthAdjust="spacing">viral load/million reads</text>
<text x="1649.5" y="2356.2" font-size="27.5" textLength="339.1" lengthAdjust="spacing">ρ = -0.257&#160; p-value = 0.2478</text>
<circle cx="948.8" cy="2389.5" r="11" fill="#66c2a5"/>
<text x="964.8" y="2399" font-size="27.5" textLength="95.5" lengthAdjust="spacing">Healthy</text>
<circle cx="1092.3" cy="2392.9" r="11" fill="#fc8d62"/>
<text x="1112" y="2402" font-size="27.5" textLength="92" lengthAdjust="spacing">D/DWS</text>
<circle cx="1234.5" cy="2392.9" r="11" fill="#e78ac3"/>
<text x="1249.5" y="2402" font-size="27.5" textLength="55" lengthAdjust="spacing">SDp</text>
</svg>
</body></html>
